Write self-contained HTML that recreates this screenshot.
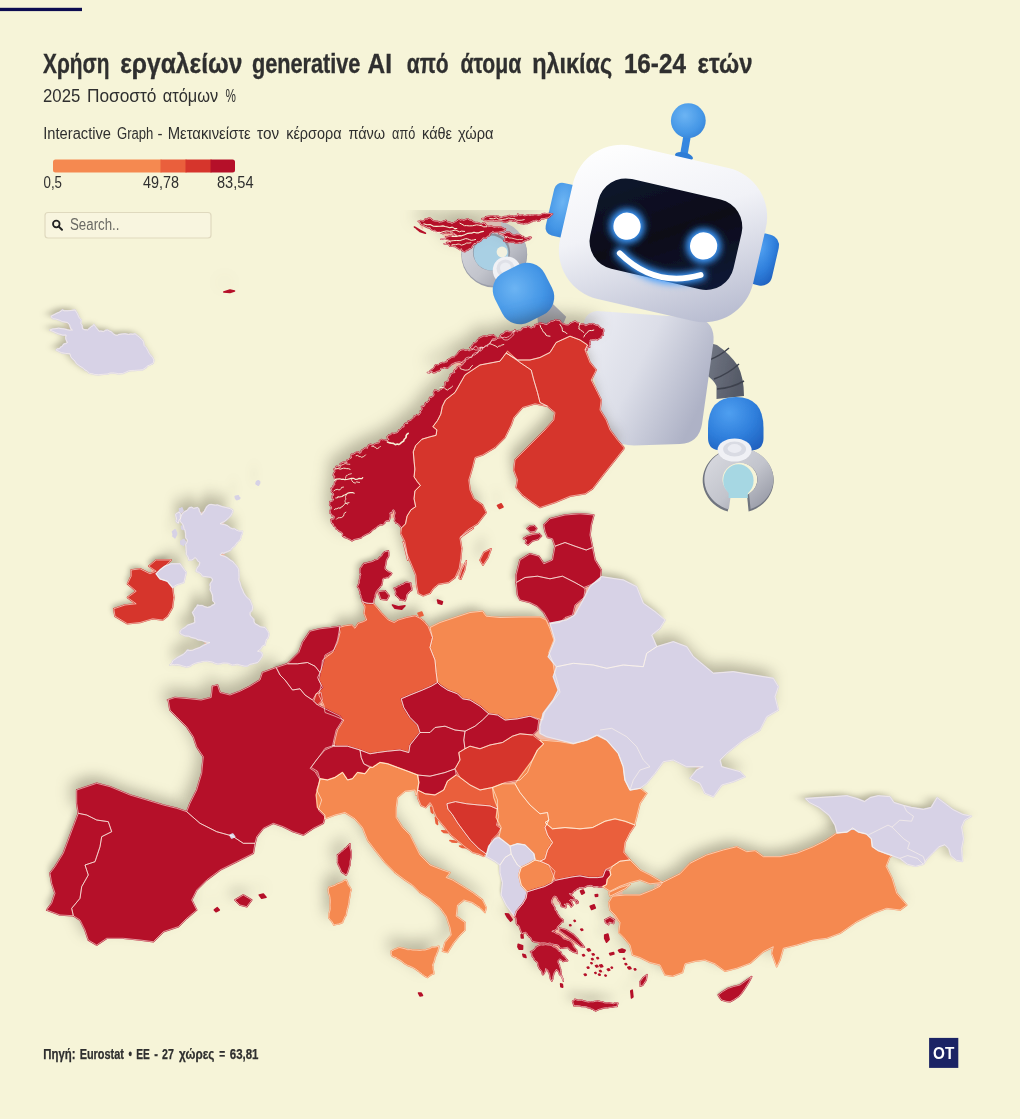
<!DOCTYPE html>
<html lang="el">
<head>
<meta charset="utf-8">
<title>Χρήση εργαλείων generative AI</title>
<style>
html,body{margin:0;padding:0;background:#f6f4d8;}
body{width:1020px;height:1119px;overflow:hidden;font-family:'Liberation Sans', sans-serif;}
svg{display:block}
text{font-family:'Liberation Sans', sans-serif;fill:#2f2f2f}
.fills path{stroke-width:1.6;stroke-linejoin:round}
.edges path,.ln{fill:none;stroke:#fff7ea;stroke-opacity:0.66;stroke-width:0.9;stroke-linejoin:round}
</style>
</head>
<body>
<svg width="1020" height="1119" viewBox="0 0 1020 1119">
<defs>
<filter id="sh" x="-5%" y="-5%" width="110%" height="110%" color-interpolation-filters="sRGB">
<feMorphology in="SourceAlpha" operator="dilate" radius="1.5" result="d"/>
<feMorphology in="d" operator="erode" radius="4.5" result="cli"/>
<feFlood flood-color="#f3b9a4"/>
<feComposite in2="cli" operator="in" result="u"/>
<feMerge><feMergeNode in="u"/><feMergeNode in="SourceGraphic"/></feMerge>
</filter>
<filter id="s0" filterUnits="userSpaceOnUse" x="30" y="290" width="144" height="105" color-interpolation-filters="sRGB"><feGaussianBlur in="SourceAlpha" stdDeviation="4.2 2.6"/><feOffset dx="-3.6" dy="-3.2" result="o"/><feFlood flood-color="#4a4636" flood-opacity="0.36"/><feComposite in2="o" operator="in"/></filter>
<filter id="s1" filterUnits="userSpaceOnUse" x="188" y="178" width="451" height="458" color-interpolation-filters="sRGB"><feGaussianBlur in="SourceAlpha" stdDeviation="7.5 7.5"/><feOffset dx="-5.0" dy="-9.0" result="o"/><feFlood flood-color="#4a4636" flood-opacity="0.36"/><feComposite in2="o" operator="in"/></filter>
<filter id="s2" filterUnits="userSpaceOnUse" x="365" y="316" width="218" height="316" color-interpolation-filters="sRGB"><feGaussianBlur in="SourceAlpha" stdDeviation="5.9 7.5"/><feOffset dx="-5.0" dy="-9.0" result="o"/><feFlood flood-color="#4a4636" flood-opacity="0.36"/><feComposite in2="o" operator="in"/></filter>
<filter id="s3" filterUnits="userSpaceOnUse" x="464" y="303" width="193" height="239" color-interpolation-filters="sRGB"><feGaussianBlur in="SourceAlpha" stdDeviation="5.1 6.9"/><feOffset dx="-4.4" dy="-8.6" result="o"/><feFlood flood-color="#4a4636" flood-opacity="0.36"/><feComposite in2="o" operator="in"/></filter>
<filter id="s4" filterUnits="userSpaceOnUse" x="509" y="499" width="100" height="66" color-interpolation-filters="sRGB"><feGaussianBlur in="SourceAlpha" stdDeviation="2.8 1.4"/><feOffset dx="-2.5" dy="-1.8" result="o"/><feFlood flood-color="#4a4636" flood-opacity="0.36"/><feComposite in2="o" operator="in"/></filter>
<filter id="s5" filterUnits="userSpaceOnUse" x="499" y="525" width="119" height="79" color-interpolation-filters="sRGB"><feGaussianBlur in="SourceAlpha" stdDeviation="3.4 1.8"/><feOffset dx="-3.0" dy="-2.2" result="o"/><feFlood flood-color="#4a4636" flood-opacity="0.36"/><feComposite in2="o" operator="in"/></filter>
<filter id="s6" filterUnits="userSpaceOnUse" x="502" y="562" width="98" height="77" color-interpolation-filters="sRGB"><feGaussianBlur in="SourceAlpha" stdDeviation="2.8 1.9"/><feOffset dx="-2.4" dy="-2.4" result="o"/><feFlood flood-color="#4a4636" flood-opacity="0.36"/><feComposite in2="o" operator="in"/></filter>
<filter id="s7" filterUnits="userSpaceOnUse" x="405" y="586" width="180" height="159" color-interpolation-filters="sRGB"><feGaussianBlur in="SourceAlpha" stdDeviation="5.2 4.4"/><feOffset dx="-4.6" dy="-5.4" result="o"/><feFlood flood-color="#4a4636" flood-opacity="0.36"/><feComposite in2="o" operator="in"/></filter>
<filter id="s8" filterUnits="userSpaceOnUse" x="288" y="572" width="180" height="212" color-interpolation-filters="sRGB"><feGaussianBlur in="SourceAlpha" stdDeviation="4.8 6.1"/><feOffset dx="-4.2" dy="-7.6" result="o"/><feFlood flood-color="#4a4636" flood-opacity="0.36"/><feComposite in2="o" operator="in"/></filter>
<filter id="s9" filterUnits="userSpaceOnUse" x="340" y="534" width="119" height="93" color-interpolation-filters="sRGB"><feGaussianBlur in="SourceAlpha" stdDeviation="3.4 2.3"/><feOffset dx="-3.0" dy="-2.9" result="o"/><feFlood flood-color="#4a4636" flood-opacity="0.36"/><feComposite in2="o" operator="in"/></filter>
<filter id="s10" filterUnits="userSpaceOnUse" x="275" y="614" width="78" height="72" color-interpolation-filters="sRGB"><feGaussianBlur in="SourceAlpha" stdDeviation="2.1 1.9"/><feOffset dx="-1.8" dy="-2.3" result="o"/><feFlood flood-color="#4a4636" flood-opacity="0.36"/><feComposite in2="o" operator="in"/></filter>
<filter id="s11" filterUnits="userSpaceOnUse" x="265" y="651" width="69" height="60" color-interpolation-filters="sRGB"><feGaussianBlur in="SourceAlpha" stdDeviation="1.9 1.5"/><feOffset dx="-1.6" dy="-1.9" result="o"/><feFlood flood-color="#4a4636" flood-opacity="0.36"/><feComposite in2="o" operator="in"/></filter>
<filter id="s12" filterUnits="userSpaceOnUse" x="307" y="686" width="22" height="25" color-interpolation-filters="sRGB"><feGaussianBlur in="SourceAlpha" stdDeviation="0.6 0.6"/><feOffset dx="-0.3" dy="-0.6" result="o"/><feFlood flood-color="#4a4636" flood-opacity="0.36"/><feComposite in2="o" operator="in"/></filter>
<filter id="s13" filterUnits="userSpaceOnUse" x="99" y="545" width="90" height="93" color-interpolation-filters="sRGB"><feGaussianBlur in="SourceAlpha" stdDeviation="2.4 2.6"/><feOffset dx="-2.1" dy="-3.2" result="o"/><feFlood flood-color="#4a4636" flood-opacity="0.36"/><feComposite in2="o" operator="in"/></filter>
<filter id="s14" filterUnits="userSpaceOnUse" x="121" y="445" width="183" height="257" color-interpolation-filters="sRGB"><feGaussianBlur in="SourceAlpha" stdDeviation="4.5 7.4"/><feOffset dx="-3.9" dy="-9.0" result="o"/><feFlood flood-color="#4a4636" flood-opacity="0.36"/><feComposite in2="o" operator="in"/></filter>
<filter id="s15" filterUnits="userSpaceOnUse" x="132" y="632" width="255" height="278" color-interpolation-filters="sRGB"><feGaussianBlur in="SourceAlpha" stdDeviation="7.3 7.5"/><feOffset dx="-5.0" dy="-9.0" result="o"/><feFlood flood-color="#4a4636" flood-opacity="0.36"/><feComposite in2="o" operator="in"/></filter>
<filter id="s16" filterUnits="userSpaceOnUse" x="37" y="749" width="263" height="231" color-interpolation-filters="sRGB"><feGaussianBlur in="SourceAlpha" stdDeviation="7.5 6.5"/><feOffset dx="-5.0" dy="-8.1" result="o"/><feFlood flood-color="#4a4636" flood-opacity="0.36"/><feComposite in2="o" operator="in"/></filter>
<filter id="s17" filterUnits="userSpaceOnUse" x="25" y="792" width="108" height="145" color-interpolation-filters="sRGB"><feGaussianBlur in="SourceAlpha" stdDeviation="2.6 4.1"/><feOffset dx="-2.3" dy="-5.1" result="o"/><feFlood flood-color="#4a4636" flood-opacity="0.36"/><feComposite in2="o" operator="in"/></filter>
<filter id="s18" filterUnits="userSpaceOnUse" x="224" y="828" width="17" height="16" color-interpolation-filters="sRGB"><feGaussianBlur in="SourceAlpha" stdDeviation="0.6 0.6"/><feOffset dx="-0.2" dy="-0.2" result="o"/><feFlood flood-color="#4a4636" flood-opacity="0.36"/><feComposite in2="o" operator="in"/></filter>
<filter id="s19" filterUnits="userSpaceOnUse" x="298" y="733" width="85" height="60" color-interpolation-filters="sRGB"><feGaussianBlur in="SourceAlpha" stdDeviation="2.4 1.4"/><feOffset dx="-2.1" dy="-1.7" result="o"/><feFlood flood-color="#4a4636" flood-opacity="0.36"/><feComposite in2="o" operator="in"/></filter>
<filter id="s20" filterUnits="userSpaceOnUse" x="340" y="706" width="146" height="91" color-interpolation-filters="sRGB"><feGaussianBlur in="SourceAlpha" stdDeviation="4.2 2.0"/><feOffset dx="-3.7" dy="-2.5" result="o"/><feFlood flood-color="#4a4636" flood-opacity="0.36"/><feComposite in2="o" operator="in"/></filter>
<filter id="s21" filterUnits="userSpaceOnUse" x="384" y="665" width="123" height="85" color-interpolation-filters="sRGB"><feGaussianBlur in="SourceAlpha" stdDeviation="3.5 2.0"/><feOffset dx="-3.1" dy="-2.5" result="o"/><feFlood flood-color="#4a4636" flood-opacity="0.36"/><feComposite in2="o" operator="in"/></filter>
<filter id="s22" filterUnits="userSpaceOnUse" x="448" y="698" width="106" height="66" color-interpolation-filters="sRGB"><feGaussianBlur in="SourceAlpha" stdDeviation="3.0 1.4"/><feOffset dx="-2.6" dy="-1.8" result="o"/><feFlood flood-color="#4a4636" flood-opacity="0.36"/><feComposite in2="o" operator="in"/></filter>
<filter id="s23" filterUnits="userSpaceOnUse" x="437" y="716" width="124" height="92" color-interpolation-filters="sRGB"><feGaussianBlur in="SourceAlpha" stdDeviation="3.6 2.2"/><feOffset dx="-3.1" dy="-2.8" result="o"/><feFlood flood-color="#4a4636" flood-opacity="0.36"/><feComposite in2="o" operator="in"/></filter>
<filter id="s24" filterUnits="userSpaceOnUse" x="408" y="759" width="59" height="46" color-interpolation-filters="sRGB"><feGaussianBlur in="SourceAlpha" stdDeviation="1.5 1.0"/><feOffset dx="-1.4" dy="-1.3" result="o"/><feFlood flood-color="#4a4636" flood-opacity="0.36"/><feComposite in2="o" operator="in"/></filter>
<filter id="s25" filterUnits="userSpaceOnUse" x="281" y="727" width="241" height="286" color-interpolation-filters="sRGB"><feGaussianBlur in="SourceAlpha" stdDeviation="6.8 7.5"/><feOffset dx="-5.0" dy="-9.0" result="o"/><feFlood flood-color="#4a4636" flood-opacity="0.36"/><feComposite in2="o" operator="in"/></filter>
<filter id="s26" filterUnits="userSpaceOnUse" x="413" y="987" width="16" height="15" color-interpolation-filters="sRGB"><feGaussianBlur in="SourceAlpha" stdDeviation="0.6 0.6"/><feOffset dx="-0.1" dy="-0.2" result="o"/><feFlood flood-color="#4a4636" flood-opacity="0.36"/><feComposite in2="o" operator="in"/></filter>
<filter id="s27" filterUnits="userSpaceOnUse" x="400" y="757" width="116" height="117" color-interpolation-filters="sRGB"><feGaussianBlur in="SourceAlpha" stdDeviation="3.2 3.3"/><feOffset dx="-2.8" dy="-4.1" result="o"/><feFlood flood-color="#4a4636" flood-opacity="0.36"/><feComposite in2="o" operator="in"/></filter>
<filter id="s28" filterUnits="userSpaceOnUse" x="434" y="788" width="80" height="79" color-interpolation-filters="sRGB"><feGaussianBlur in="SourceAlpha" stdDeviation="2.2 2.1"/><feOffset dx="-1.9" dy="-2.6" result="o"/><feFlood flood-color="#4a4636" flood-opacity="0.36"/><feComposite in2="o" operator="in"/></filter>
<filter id="s29" filterUnits="userSpaceOnUse" x="429" y="811" width="14" height="19" color-interpolation-filters="sRGB"><feGaussianBlur in="SourceAlpha" stdDeviation="0.6 0.6"/><feOffset dx="-0.1" dy="-0.3" result="o"/><feFlood flood-color="#4a4636" flood-opacity="0.36"/><feComposite in2="o" operator="in"/></filter>
<filter id="s30" filterUnits="userSpaceOnUse" x="436" y="825" width="18" height="14" color-interpolation-filters="sRGB"><feGaussianBlur in="SourceAlpha" stdDeviation="0.6 0.6"/><feOffset dx="-0.2" dy="-0.1" result="o"/><feFlood flood-color="#4a4636" flood-opacity="0.36"/><feComposite in2="o" operator="in"/></filter>
<filter id="s31" filterUnits="userSpaceOnUse" x="444" y="835" width="19" height="14" color-interpolation-filters="sRGB"><feGaussianBlur in="SourceAlpha" stdDeviation="0.6 0.6"/><feOffset dx="-0.2" dy="-0.1" result="o"/><feFlood flood-color="#4a4636" flood-opacity="0.36"/><feComposite in2="o" operator="in"/></filter>
<filter id="s32" filterUnits="userSpaceOnUse" x="454" y="840" width="19" height="14" color-interpolation-filters="sRGB"><feGaussianBlur in="SourceAlpha" stdDeviation="0.6 0.6"/><feOffset dx="-0.2" dy="-0.1" result="o"/><feFlood flood-color="#4a4636" flood-opacity="0.36"/><feComposite in2="o" operator="in"/></filter>
<filter id="s33" filterUnits="userSpaceOnUse" x="425" y="801" width="14" height="18" color-interpolation-filters="sRGB"><feGaussianBlur in="SourceAlpha" stdDeviation="0.6 0.6"/><feOffset dx="-0.1" dy="-0.3" result="o"/><feFlood flood-color="#4a4636" flood-opacity="0.36"/><feComposite in2="o" operator="in"/></filter>
<filter id="s34" filterUnits="userSpaceOnUse" x="475" y="767" width="94" height="112" color-interpolation-filters="sRGB"><feGaussianBlur in="SourceAlpha" stdDeviation="2.4 3.1"/><feOffset dx="-2.1" dy="-3.9" result="o"/><feFlood flood-color="#4a4636" flood-opacity="0.36"/><feComposite in2="o" operator="in"/></filter>
<filter id="s35" filterUnits="userSpaceOnUse" x="502" y="836" width="41" height="40" color-interpolation-filters="sRGB"><feGaussianBlur in="SourceAlpha" stdDeviation="1.0 0.9"/><feOffset dx="-0.9" dy="-1.2" result="o"/><feFlood flood-color="#4a4636" flood-opacity="0.36"/><feComposite in2="o" operator="in"/></filter>
<filter id="s36" filterUnits="userSpaceOnUse" x="478" y="829" width="42" height="45" color-interpolation-filters="sRGB"><feGaussianBlur in="SourceAlpha" stdDeviation="1.0 1.1"/><feOffset dx="-0.9" dy="-1.4" result="o"/><feFlood flood-color="#4a4636" flood-opacity="0.36"/><feComposite in2="o" operator="in"/></filter>
<filter id="s37" filterUnits="userSpaceOnUse" x="485" y="839" width="56" height="92" color-interpolation-filters="sRGB"><feGaussianBlur in="SourceAlpha" stdDeviation="1.1 2.5"/><feOffset dx="-0.9" dy="-3.1" result="o"/><feFlood flood-color="#4a4636" flood-opacity="0.36"/><feComposite in2="o" operator="in"/></filter>
<filter id="s38" filterUnits="userSpaceOnUse" x="509" y="850" width="56" height="52" color-interpolation-filters="sRGB"><feGaussianBlur in="SourceAlpha" stdDeviation="1.4 1.3"/><feOffset dx="-1.3" dy="-1.6" result="o"/><feFlood flood-color="#4a4636" flood-opacity="0.36"/><feComposite in2="o" operator="in"/></filter>
<filter id="s39" filterUnits="userSpaceOnUse" x="521" y="800" width="132" height="99" color-interpolation-filters="sRGB"><feGaussianBlur in="SourceAlpha" stdDeviation="3.8 2.5"/><feOffset dx="-3.3" dy="-3.1" result="o"/><feFlood flood-color="#4a4636" flood-opacity="0.36"/><feComposite in2="o" operator="in"/></filter>
<filter id="s40" filterUnits="userSpaceOnUse" x="491" y="711" width="181" height="143" color-interpolation-filters="sRGB"><feGaussianBlur in="SourceAlpha" stdDeviation="5.3 3.8"/><feOffset dx="-4.6" dy="-4.7" result="o"/><feFlood flood-color="#4a4636" flood-opacity="0.36"/><feComposite in2="o" operator="in"/></filter>
<filter id="s41" filterUnits="userSpaceOnUse" x="477" y="842" width="198" height="197" color-interpolation-filters="sRGB"><feGaussianBlur in="SourceAlpha" stdDeviation="5.7 5.6"/><feOffset dx="-5.0" dy="-7.1" result="o"/><feFlood flood-color="#4a4636" flood-opacity="0.36"/><feComposite in2="o" operator="in"/></filter>
<filter id="s42" filterUnits="userSpaceOnUse" x="569" y="794" width="372" height="216" color-interpolation-filters="sRGB"><feGaussianBlur in="SourceAlpha" stdDeviation="7.5 5.9"/><feOffset dx="-5.0" dy="-7.4" result="o"/><feFlood flood-color="#4a4636" flood-opacity="0.36"/><feComposite in2="o" operator="in"/></filter>
<filter id="s43" filterUnits="userSpaceOnUse" x="709" y="967" width="52" height="44" color-interpolation-filters="sRGB"><feGaussianBlur in="SourceAlpha" stdDeviation="1.3 1.0"/><feOffset dx="-1.2" dy="-1.2" result="o"/><feFlood flood-color="#4a4636" flood-opacity="0.36"/><feComposite in2="o" operator="in"/></filter>
<filter id="s44" filterUnits="userSpaceOnUse" x="526" y="554" width="162" height="137" color-interpolation-filters="sRGB"><feGaussianBlur in="SourceAlpha" stdDeviation="4.7 3.7"/><feOffset dx="-4.1" dy="-4.6" result="o"/><feFlood flood-color="#4a4636" flood-opacity="0.36"/><feComposite in2="o" operator="in"/></filter>
<filter id="s45" filterUnits="userSpaceOnUse" x="506" y="607" width="307" height="224" color-interpolation-filters="sRGB"><feGaussianBlur in="SourceAlpha" stdDeviation="7.5 6.2"/><feOffset dx="-5.0" dy="-7.8" result="o"/><feFlood flood-color="#4a4636" flood-opacity="0.36"/><feComposite in2="o" operator="in"/></filter>
<filter id="s46" filterUnits="userSpaceOnUse" x="777" y="767" width="223" height="128" color-interpolation-filters="sRGB"><feGaussianBlur in="SourceAlpha" stdDeviation="6.6 2.8"/><feOffset dx="-5.0" dy="-3.5" result="o"/><feFlood flood-color="#4a4636" flood-opacity="0.36"/><feComposite in2="o" operator="in"/></filter>
<clipPath id="mapclip"><rect x="0" y="210" width="1020" height="840"/></clipPath>
</defs>
<rect width="1020" height="1119" fill="#f6f4d8"/>
<rect x="0" y="7.8" width="82" height="3.3" fill="#0c0c50"/>

<!-- header -->
<text x="43" y="72.5" font-size="28.5" font-weight="700" textLength="66.4" lengthAdjust="spacingAndGlyphs" stroke="#2f2f2f" stroke-width="0.35">Χρήση</text>
<text x="120.2" y="72.5" font-size="28.5" font-weight="700" textLength="122.3" lengthAdjust="spacingAndGlyphs" stroke="#2f2f2f" stroke-width="0.35">εργαλείων</text>
<text x="251.9" y="72.5" font-size="28.5" font-weight="700" textLength="108.5" lengthAdjust="spacingAndGlyphs" stroke="#2f2f2f" stroke-width="0.35">generative</text>
<text x="367.6" y="72.5" font-size="28.5" font-weight="700" textLength="24.4" lengthAdjust="spacingAndGlyphs" stroke="#2f2f2f" stroke-width="0.35">AI</text>
<text x="406.7" y="72.5" font-size="28.5" font-weight="700" textLength="41.9" lengthAdjust="spacingAndGlyphs" stroke="#2f2f2f" stroke-width="0.35">από</text>
<text x="460.4" y="72.5" font-size="28.5" font-weight="700" textLength="60.8" lengthAdjust="spacingAndGlyphs" stroke="#2f2f2f" stroke-width="0.35">άτομα</text>
<text x="532.2" y="72.5" font-size="28.5" font-weight="700" textLength="80.0" lengthAdjust="spacingAndGlyphs" stroke="#2f2f2f" stroke-width="0.35">ηλικίας</text>
<text x="623.9" y="72.5" font-size="28.5" font-weight="700" textLength="62.0" lengthAdjust="spacingAndGlyphs" stroke="#2f2f2f" stroke-width="0.35">16-24</text>
<text x="697.6" y="72.5" font-size="28.5" font-weight="700" textLength="54.9" lengthAdjust="spacingAndGlyphs" stroke="#2f2f2f" stroke-width="0.35">ετών</text>
<text x="43" y="101.5" font-size="18" font-weight="400" textLength="37.3" lengthAdjust="spacingAndGlyphs">2025</text>
<text x="86.9" y="101.5" font-size="18" font-weight="400" textLength="69.6" lengthAdjust="spacingAndGlyphs">Ποσοστό</text>
<text x="162.7" y="101.5" font-size="18" font-weight="400" textLength="55.5" lengthAdjust="spacingAndGlyphs">ατόμων</text>
<text x="225.4" y="101.5" font-size="18" font-weight="400" textLength="10.4" lengthAdjust="spacingAndGlyphs">%</text>
<text x="43.3" y="138.8" font-size="16" font-weight="400" textLength="67.7" lengthAdjust="spacingAndGlyphs">Interactive</text>
<text x="117" y="138.8" font-size="16" font-weight="400" textLength="36.4" lengthAdjust="spacingAndGlyphs">Graph</text>
<text x="157.6" y="138.8" font-size="16" font-weight="400" textLength="5.0" lengthAdjust="spacingAndGlyphs">-</text>
<text x="167.7" y="138.8" font-size="16" font-weight="400" textLength="83.0" lengthAdjust="spacingAndGlyphs">Μετακινείστε</text>
<text x="257.1" y="138.8" font-size="16" font-weight="400" textLength="22.1" lengthAdjust="spacingAndGlyphs">τον</text>
<text x="286.2" y="138.8" font-size="16" font-weight="400" textLength="55.3" lengthAdjust="spacingAndGlyphs">κέρσορα</text>
<text x="348.4" y="138.8" font-size="16" font-weight="400" textLength="36.8" lengthAdjust="spacingAndGlyphs">πάνω</text>
<text x="392.1" y="138.8" font-size="16" font-weight="400" textLength="23.1" lengthAdjust="spacingAndGlyphs">από</text>
<text x="422.1" y="138.8" font-size="16" font-weight="400" textLength="29.9" lengthAdjust="spacingAndGlyphs">κάθε</text>
<text x="458" y="138.8" font-size="16" font-weight="400" textLength="35.5" lengthAdjust="spacingAndGlyphs">χώρα</text>

<!-- legend -->
<clipPath id="lg"><rect x="53" y="159.5" width="182" height="13" rx="2.5"/></clipPath>
<g clip-path="url(#lg)">
<rect x="53" y="159" width="108.5" height="14" fill="#f58950"/>
<rect x="160.5" y="159" width="26" height="14" fill="#ea5f3c"/>
<rect x="185.5" y="159" width="26" height="14" fill="#d6352c"/>
<rect x="210.5" y="159" width="25" height="14" fill="#b51029"/>
</g>
<text x="43.5" y="187.8" font-size="15.8" textLength="18.5" lengthAdjust="spacingAndGlyphs">0,5</text>
<text x="143" y="187.8" font-size="15.8" textLength="36" lengthAdjust="spacingAndGlyphs">49,78</text>
<text x="217" y="187.8" font-size="15.8" textLength="36.5" lengthAdjust="spacingAndGlyphs">83,54</text>

<!-- search -->
<rect x="45" y="212.5" width="166" height="25.5" rx="3" fill="#f8f5df" stroke="#dfd9be" stroke-width="1.2"/>
<circle cx="56.3" cy="224" r="3.3" fill="none" stroke="#222" stroke-width="1.8"/>
<path d="M58.8 226.6 L62 229.8" stroke="#222" stroke-width="2" stroke-linecap="round"/>
<text x="70" y="230.3" font-size="15.8" style="fill:#6a6a64" textLength="49.5" lengthAdjust="spacingAndGlyphs">Search..</text>

<!-- robot (behind the map) -->

<defs>
<linearGradient id="gBody" x1="0" y1="0" x2="1" y2="0.5">
<stop offset="0" stop-color="#eeeff5"/><stop offset="0.5" stop-color="#dcdee8"/><stop offset="1" stop-color="#aeb2c6"/>
</linearGradient>
<linearGradient id="gHead" x1="0.1" y1="0" x2="0.8" y2="1">
<stop offset="0" stop-color="#ffffff"/><stop offset="0.45" stop-color="#f1f2f7"/><stop offset="1" stop-color="#b9bdd1"/>
</linearGradient>
<radialGradient id="gBlue" cx="0.38" cy="0.3" r="0.85">
<stop offset="0" stop-color="#4f9ff0"/><stop offset="0.55" stop-color="#2f7fdc"/><stop offset="1" stop-color="#1f5fbd"/>
</radialGradient>
<radialGradient id="gBlueL" cx="0.4" cy="0.35" r="0.85">
<stop offset="0" stop-color="#6cb4f3"/><stop offset="0.6" stop-color="#4496e6"/><stop offset="1" stop-color="#2f78cf"/>
</radialGradient>
<linearGradient id="gFace" x1="0" y1="0" x2="1" y2="1">
<stop offset="0" stop-color="#0d1730"/><stop offset="0.5" stop-color="#070b18"/><stop offset="1" stop-color="#111c3a"/>
</linearGradient>
<linearGradient id="gRing" x1="0" y1="0" x2="1" y2="1">
<stop offset="0" stop-color="#dcdde3"/><stop offset="0.55" stop-color="#c2c4cc"/><stop offset="1" stop-color="#8d909d"/>
</linearGradient>
<linearGradient id="gGrey" x1="0" y1="0" x2="1" y2="0.3">
<stop offset="0" stop-color="#747986"/><stop offset="1" stop-color="#555a67"/>
</linearGradient>
<filter id="glow" x="-60%" y="-60%" width="220%" height="220%">
<feGaussianBlur stdDeviation="3.6"/>
</filter>
<filter id="soft" x="-20%" y="-20%" width="140%" height="140%">
<feGaussianBlur stdDeviation="0.55"/>
</filter>
</defs>
<g id="robot" filter="url(#soft)">
<!-- right arm (viewer right) -->
<path d="M706,342 L717,345 Q730,354 738,366 Q744,378 744,396 L716.5,399 L716.5,386 Q714,380 705,374 Z" fill="url(#gGrey)"/>
<path d="M709,360 Q720,356 729,348 M714,379 Q728,374 739,364 M717,389 Q732,388 744,381" stroke="#3e424e" stroke-width="1.5" fill="none"/>
<!-- right claw -->
<path d="M727.8,511.5 A35.5,32.5 0 1 1 748.6,511.5 L747,495 A19,17.5 0 1 0 729.5,495 Z" fill="#70747f"/>
<path d="M728.8,509.5 A34.5,31.5 0 1 1 750.6,509 L749,493.5 A17.5,16.5 0 1 0 731,493.5 Z" fill="url(#gRing)"/>
<ellipse cx="738.4" cy="480.5" rx="15.2" ry="16.2" fill="#a6d7e3"/>
<rect x="728.6" y="488" width="19.2" height="10" fill="#a6d7e3"/>
<!-- right forearm -->
<path d="M708,428 Q708,397 736,397 Q763.5,397 763.5,428 L763.5,438 Q763.5,450.5 750,450.5 L722,450.5 Q708,450.5 708,438 Z" fill="url(#gBlue)"/>
<ellipse cx="734.6" cy="450" rx="17" ry="11.5" fill="#f0f1f5"/>
<ellipse cx="734.6" cy="449" rx="11.5" ry="7.5" fill="#d9dbe3"/>
<ellipse cx="734.6" cy="448.5" rx="7" ry="4.4" fill="#ebecf2"/>
<!-- body -->
<path d="M597,311 Q581,313 584,332 L604,424 Q608,445 634,445.5 L680,444 Q699,443 702,424 L713.5,342 Q715,322 698,318 Z" fill="url(#gBody)"/>
<!-- left claw ring (behind the map) -->
<circle cx="494.2" cy="254.5" r="33" fill="#9b9ea9"/>
<circle cx="494.2" cy="253.5" r="32.6" fill="url(#gRing)"/>
<circle cx="491.5" cy="252" r="18.6" fill="#8f94a0"/>
<circle cx="491" cy="253" r="17.4" fill="#a9d0e4"/>
<circle cx="502" cy="252" r="5.4" fill="#f2f1e0"/>
<circle cx="506.8" cy="270.5" r="14" fill="#f0f1f5"/>
<circle cx="505.5" cy="268.5" r="9" fill="#dfe1e8"/>
<circle cx="505.5" cy="268" r="5.5" fill="#eceef3"/>
<!-- left wrist + arm -->
<path d="M536.8,310.9 L552.9,304 L566.2,316.8 L563.2,324 L538.2,326 Z" fill="#a9abb5"/>
<rect x="495.5" y="265.5" width="56" height="56" rx="20" fill="url(#gBlueL)" transform="rotate(-27 523.5 293.5)"/>
<!-- antenna -->
<path d="M683.3,136 L690.7,137 L687.2,157 L679.8,156 Z" fill="#3587e0"/>
<ellipse cx="684" cy="156.5" rx="9.2" ry="4" fill="#2f7dd6" transform="rotate(13 684 156.5)"/>
<circle cx="688.3" cy="120.7" r="17.4" fill="url(#gBlueL)"/>
<!-- head -->
<g transform="translate(663,233.5) rotate(13)">
<rect x="-116" y="-27" width="28" height="54" rx="8" fill="url(#gBlueL)"/>
<rect x="89" y="-23" width="27" height="52" rx="11" fill="url(#gBlue)"/>
<rect x="-99" y="-78.5" width="198" height="157" rx="50" fill="url(#gHead)"/>
<rect x="-70.5" y="-46" width="147" height="92" rx="28" fill="url(#gFace)"/>
<g filter="url(#glow)" fill="#3d9bff">
<circle cx="-36.7" cy="1" r="17.5"/><circle cx="42.4" cy="3" r="17.5"/>
<path d="M-37.7,29 Q4,55 46,32" fill="none" stroke="#3d9bff" stroke-width="11" stroke-linecap="round"/>
</g>
<circle cx="-36.7" cy="1" r="13.6" fill="#fff"/><circle cx="42.4" cy="3" r="13.6" fill="#fff"/>
<path d="M-37.7,29 Q4,55 46,32" fill="none" stroke="#fff" stroke-width="5.8" stroke-linecap="round"/>
</g>
</g>


<!-- map -->
<g clip-path="url(#mapclip)">
<g class="shadows">
<g filter="url(#s0)"><path d="M51.2,316.2 54.1,314.7 57.4,313 59.5,312.2 62.5,310 64.3,310.8 67.9,310.8 71.3,310.5 75,310 77.4,313.8 78.5,316.4 79.4,318 81.2,320 81,322 80.8,323.7 82,325.4 82.5,328.8 83.9,329.5 85.1,329.8 86.2,329.8 87.5,330 89.2,328.5 91.5,326.5 93.3,325.6 93.8,324.5 94.7,325.7 96.2,327.8 97.8,329.7 98.8,331.2 100.7,331.1 103.6,331.6 105.6,330.3 107.5,330 109,330.9 111.1,331.8 113.3,333.8 115,335 117.3,335.4 118.7,334.6 122.4,334 125,333.8 128.5,334.5 130.7,334.1 133,334.3 135,333.8 137.8,336 139.6,337.4 141.1,339 142.5,340 143.5,342 144.2,345.6 146.2,347.7 147.5,350 148.3,351.7 149.6,354.1 152.6,357.6 153.8,360 153.3,362.7 152.2,363.9 150.9,364.2 150,365 147.5,365.8 146.1,367.5 142.5,369.7 140,370 134.5,370.4 131.2,370.5 128.6,370.9 125,372.5 122.7,373.5 118.3,373.6 113.5,372.9 110,373 107.6,373.9 103.6,374.3 98.5,374.6 95,374.5 91.6,373.5 89.4,373.3 87.2,370.9 85,370 83.5,368.3 80,366.2 76.5,363.6 75,361.2 74,360 72.5,358.8 70.9,356.8 70,353.8 65.6,353.4 61.3,352.6 59.2,351.6 56.2,350 57.5,348.9 59.8,348.5 60.5,347.3 62.5,346.2 62.9,345.3 63.9,344 65.9,343.6 67.5,342.5 66.6,340.8 66,339.3 65.7,337.7 66.2,335 62.8,335.1 58.9,333.9 55,332.4 50,330 52.9,329 55,328.8 58.6,328.2 62.5,328.8 64.6,329.1 67.3,329.8 69.5,330.2 72.5,330 71.1,329 70.2,326.6 69.5,324.4 67.5,322.5 62.2,321.5 59.5,320.2 55.9,319.1 53.8,318.8 52.5,318.2 51.5,317.1Z"/></g>
<g filter="url(#s1)"><path d="M223.8,292 230,290 234.5,291 230,292.5Z"/><path d="M353.7,539.6 352,540.8 351.3,540.3 349.9,539.4 348.6,538.9 346.8,538 345.2,537.8 345.1,536.5 343.6,536.7 342.5,535.6 342.8,534.1 342.2,532.8 340.9,531.8 340,531.7 339.2,531.1 338.3,530.1 336.8,529.1 335.7,528.6 335.7,527 334.7,526.4 333.5,525.5 333.3,523.9 331.7,523.2 331.4,521.6 330.9,519.7 331.9,519 333.4,519.3 334.3,517.8 334.1,516.1 332.8,515.8 331.8,515.7 331.7,514 330.2,513.1 330.4,511.7 330.1,510.4 331.1,509.2 331.8,508.2 331.2,506.5 330.4,505.6 329.7,504.7 329.9,502.7 330.1,501.5 332.2,501.2 333.3,500.4 333.7,499.1 332.3,498.1 332.4,496.6 332.3,495.7 333.4,495.5 333.7,494 332.5,492.5 331.5,491.6 331.9,490.3 331.2,488.5 333,487.5 333.1,485.9 334.9,484.7 334.5,483.3 334.8,482.4 336.2,481.1 335.7,479.3 334.7,478.6 334.2,477.2 335,476.2 333.3,475.3 333.7,473.5 334.9,471.8 334.8,470.7 334,469.2 335.6,468.6 335.7,467.5 336.5,466.2 337.5,466.2 338.8,467 339.8,468.2 340.7,466.6 339.7,465.6 340.3,463.8 342,462.7 343.9,462.1 345.3,462.4 347.1,462.7 346.7,461.3 347.5,459.7 349.1,459.5 350.1,458.5 351.4,458 351.3,456.9 351,455.7 351.5,454.3 353.2,454.2 355,453.3 356.6,452 358.7,452.1 359.2,453.3 360.7,453 361.1,452.1 361.5,450.5 363.3,449.5 364.8,448.2 366.3,447.6 367.1,448.6 367.9,446.7 368.4,445.5 370.1,444.4 372.1,444.8 373.3,445.3 374.9,443.9 376.9,443.3 378.9,442.9 379.8,442.1 379.5,440.6 381.4,439.6 382.7,440 383.7,439.7 385.1,440 386.9,440.8 388.2,440 389,439.2 387.7,438.7 387.2,436.7 388.2,436.2 388.8,435.1 390.8,434.6 392.4,433.2 393.7,433.7 395.3,433.2 397.1,432.7 398.1,432 398.9,430 400.4,429.6 401.6,428.2 402.7,426.8 404,427.1 404,426.1 404.1,424.8 405.5,423.4 406.9,423.6 407.8,423.5 407.6,422.4 408.4,421 410.4,420.6 411.4,419.9 412.6,418.8 414.1,417.3 414.3,416.1 415.9,415.8 417,414.7 419,415.1 419.6,413.9 420.9,412.8 420.4,411 421.6,410.4 422.3,408.8 422,408 421.5,406.7 422.4,406.3 424.1,406.5 425.1,404.7 425,403.8 426,402.6 427.2,402.7 428.1,401.9 428.5,401 429.8,400 429.4,398.5 430.2,397.2 431.6,397.7 432.3,396.7 433.4,396.3 434.1,394.5 433.5,392.6 434.4,391 435,390 436.5,390.5 437.9,391.4 439.9,390.5 440.7,389.6 442,389 443,387.1 444.1,386.7 444.8,385.8 445.3,384 445,382.5 446.6,381.6 447.9,381.5 448.7,380.8 448.6,378.8 449.5,377.1 450.4,376.4 450.4,374.6 451.7,374 452.8,373 453.6,372.8 455,372.5 454.1,371 454.9,369.9 456.7,368.9 457.2,367.2 458.6,366.4 460.7,366.2 462.5,365 463.6,363.3 465.3,362 465,359.9 465.1,358.7 466.1,357.9 467.1,357.5 468.5,357.1 470,357.4 471.7,357.6 472.5,356.2 472.6,355 473.4,353.9 474.6,353.1 476,352.6 477.7,352.8 478.3,350.9 480.4,350.3 480.2,348.9 480,347.5 482,347.1 483.9,347.8 485.2,346.3 486.7,346.1 487.7,346.3 487.8,344.6 488.7,343.7 489.9,343.2 491.2,341.7 492.2,340.3 493.8,340.6 495,340 496.2,339.8 497.2,338.7 498.8,338.1 500.6,337.8 502.7,337.7 504.7,337.2 506,337.7 507.2,337.2 509.2,336.4 510.2,335.3 511.5,334.3 512.5,332.5 514.2,331.6 514.9,331.1 516.4,330.9 517.5,331.7 518.8,330.5 520.4,330.7 521.6,330 522.2,328.4 523.1,327.8 525,327.5 526.8,327.6 527.8,326.4 529.4,327.1 530.1,327.8 531.9,328 533.1,326.9 534.7,327.2 534.9,325.9 535,325 536.3,324.4 538.1,324.3 539.7,322.9 541.8,323.4 543.2,323.5 544,323.9 545.3,324.5 547.2,324.6 547.9,323.4 549.2,322.7 550,322.5 551.4,321.1 552.7,321.4 553.6,320.9 555,320.3 555.7,319.8 557.3,320.4 558.7,320.6 559.9,320.5 560.1,321.8 561.1,322.5 562.5,323.8 564.2,324.2 565.2,324.7 567.2,325 568.4,324.9 569.5,324.4 570.8,323 572.2,322.5 573.5,322 575,321.2 576.3,322.1 577.6,322.8 578.9,322.9 579.6,323.9 581.2,324.4 583,324 583.8,324.3 584.9,325.3 585.8,325.7 587.1,325.1 588.4,324.5 590,323.8 591.8,324.1 592.7,323.6 594.1,324.3 595.8,325.2 597.2,325.4 598.4,325.6 598.9,326.9 600,327.5 600.7,328.2 602.3,328.7 603.5,329.5 603.6,331.3 603,332.8 603.3,334.9 602.5,335.2 601.2,336.2 601.3,337.6 599.8,338.3 598.4,338.8 597.6,339.7 595.6,339.3 594.1,339.7 592.9,339.6 591.5,339.8 590,340 590.1,341.7 589.6,342.9 590,344.5 589.1,345.4 589.6,347.1 587.6,347.3 587.3,348.6 586.7,350.1 585,350 587.5,345 580,340 570,336.2 556.2,342.5 550,352.5 540,357.5 530,360 517.5,360 506.2,353 500,361.2 480,365 465,375 455,392.5 445.5,400 442.4,406.3 440.8,414.1 437.6,420.4 432.9,426.7 436.9,429.8 436.1,435.3 429.8,436.9 422,439.2 415.7,445.5 413.3,451.8 414.1,461.2 414.9,469 414.1,476.9 417.3,481.6 420.4,485.5 414.9,491 414.1,498.8 415.7,506.7 411,509.8 407.1,516.1 405.5,523.9 401.6,527.8 398.4,523.9 397,523.3 395.9,522.9 395.6,522 394.5,520.8 394.9,518.6 394.5,516.6 394.5,515.2 395.3,512.9 394.7,511.5 394.2,510.2 392.9,509.8 392.1,511.5 392.1,512.7 390.6,512.5 389.8,512.9 390.2,514.9 390.2,516.3 389.5,519.2 389,520.8 387.4,520.5 385.1,521.5 384.6,523.2 382.7,524.7 380.5,524.4 378.4,525.7 376.7,526.8 374.9,528.6 373.6,529.3 372.2,530.1 370.5,532 368.6,533.3 365.4,534.7 363.6,535.8 361.7,536.9 360.8,538Z"/><path d="M427.5,372.5 429.3,372.2 430,371.2 431.5,369.8 433.5,368.6 434.5,366.8 435.1,365.5 436.4,364.7 437.5,365 439.3,364.4 440.2,363.5 442.8,362.6 444.4,363 445.4,362 447.1,362 447.5,360 450.1,358.6 451.6,357.6 453.2,357 454.3,357 455.1,356.3 456.1,355.3 457.5,353.8 458.2,352.5 459.7,350.9 461.7,350 463.2,349.6 465.4,350.5 467.5,350 468.9,350.8 469.8,350.8 470.6,350 472.5,349.7 473.2,348.1 474.6,347.6 475,346.2 476.5,346.4 477.1,347.2 477.6,348.4 479.1,347.9 480.1,347.4 481.2,347.4 482.5,347.5 482.6,349.3 481.7,350.1 480.7,351 479.4,350.8 478.4,351.3 477.7,352.9 475.8,354 475,355 473.3,355.1 472.1,355.5 471.3,356.8 469.7,357.4 468.7,358.8 467.6,359.1 466.4,359.8 465,360 463.4,360.8 461.7,361.8 461.4,363.1 460.7,361.9 459.2,361.7 456.8,362.2 455,362.5 453.4,363.4 451.2,364.4 450.5,365.3 449.2,366.5 447.9,367.7 447,368.2 445,367.5 443.6,367.4 442.7,368.3 441.7,368.3 440.5,368.4 440.4,369.7 439.2,370.8 436.5,371.5 435,372.5 433.7,372.6 432.8,372.4 432.1,371.2 430.5,371.7 429.6,372.7Z"/><path d="M470,347.5 471,347.4 472,346.1 472.6,344.9 473.4,343.9 474.1,342.8 475.4,342.7 476.6,342 477.5,340 478.3,339.3 479.3,338.1 481.7,337.1 483.1,336.3 484.1,335.9 485.9,336.3 487.5,336.2 488.8,335.4 490.2,335.6 492.1,334.9 493.3,334.9 494.6,336.2 496.2,337.5 495,338.9 493.6,338.8 492.7,338.7 491.9,340 490.8,341.4 490.3,342.3 490,343.8 489.1,344.2 488,344.9 485.8,345.7 484.6,346.3 484.1,347.5 482.9,347.8 481.7,348.1 480,348.8 478.3,349.8 477.2,350 475.1,350 473.9,349.1 471.7,349.1 470.8,347.9Z"/><path d="M500,336.2 501.3,334.5 503.8,333.5 505.6,331.6 507.5,331.2 508.9,331.8 511.4,331.9 514.1,331.4 515,330 514.1,331.7 513.7,333.3 513.8,334.5 512.5,336.2 511.3,337.2 509.2,339 507.5,339.9 505,340 503.2,339.3 502.3,337.5 500.9,336.8Z"/><path d="M418.3,221.2 419.3,221.2 420.5,220.6 421.9,220.8 423.3,221.2 424.4,220.5 425.4,218.8 427.5,219.3 428.1,218.4 429.9,218.1 430.9,218.8 432.4,220.2 434,220.9 436.4,221.2 437.8,221.3 439.4,222.5 440.4,222 441.9,221.9 443.9,221.1 445.8,220.4 446.9,221.6 448.3,222.3 450,222.4 451,223 452.1,223.5 453.2,222.7 454.3,222.4 455.6,221.7 456.8,221.1 458.3,219.6 459.8,219.7 460.5,220.2 462.1,219.6 463.4,220.4 464.5,220.1 466.1,219.4 467.7,218.8 468.9,219.8 469.8,220.1 471.5,220.4 473.1,221.7 474.4,222.1 475.6,222.7 477.1,222.5 479.4,223 480.3,223.8 481.6,224 483.2,223 485,223.5 486,225.3 487.5,226.1 488.4,226.6 489.6,226.5 491.1,226.1 492.8,226.7 494.2,227.4 495.9,227 497.3,226.8 498.3,227.5 499.8,227 501.7,227.3 503.6,228.6 505.4,229 504.8,230.3 503.4,230.9 502.3,231.3 501.2,231.5 498.4,232.2 495.8,232.3 494.4,232.4 492.8,231.4 491.5,232.5 489.7,233.7 489.6,235.5 488.1,236 486.6,236.9 485.9,238.2 484.1,238 482.9,237.9 481.9,239.2 480.7,240.9 478.9,241.9 477.2,241.6 476.9,242.5 475.8,243.6 474,243.5 473.2,244.8 472.5,245.5 471.7,247.5 470.6,248.5 469.4,248.5 468.3,249.3 467.7,250.2 466.2,250.4 464.6,251.8 462.7,250.9 461.8,249.9 461.5,248.7 459.9,249.6 458.3,248.6 457.1,247.9 455.9,246.9 454.9,246.4 453.7,246.4 451.9,245.5 450.5,246.3 449.6,245.8 449,244.4 447.1,244 445.9,244 444.2,243.9 446,243.5 447.1,242.4 448.1,242.4 449.3,241.6 450.5,242.4 449.7,240.8 448.2,239.9 447.3,239.6 446.3,239.2 444.4,239.2 442.5,239 441.1,239.2 442.3,239 444.2,238.7 445.6,238.5 445.8,236.9 447.2,237 448.5,236.6 449.9,236.1 451.4,235.9 452.7,235.6 454.1,234.6 455.4,235 456.8,235.3 455.3,235.2 454.8,233.8 453.8,233.4 452.1,232.2 450.4,232.4 449.5,233.3 447.8,233.2 445.5,232.6 444.5,233 443.2,233.6 442,233.3 441.1,232.9 439.5,232.1 437.9,232.3 436.1,232 435.8,231.1 434.6,230.3 433.2,230.6 431.9,230 431.3,229.4 430.4,228.7 430,227.4 429.1,227.9 427.5,227.5 426.3,226.6 425.4,226.7 423.9,225.5 422.6,225 420.7,224.3 420.1,222.3Z"/><path d="M481.9,218.8 482.9,218.5 484.6,218.2 485.9,216.9 487.8,216.5 488.9,216.4 490.3,216 492.8,215.7 494.7,216.5 496.6,216 498.1,216.2 499.9,217.4 501,217.6 502.3,217.3 503.3,216.9 505.1,216.6 506.6,216.6 508.1,215.7 509.3,215.6 511.3,216.2 512.7,215.9 514.8,216.5 515.8,215.8 517.3,216 517.9,214.1 518.5,215 520.3,215.5 522.4,214.9 524.2,215.7 525.3,215.7 527,215.3 528.4,215 529.7,215.5 531.8,215.1 532.9,215.2 534.9,214.7 536.8,214.9 538,215.3 539.4,215.2 541.2,214.8 542.7,213.7 544.6,213.5 546.7,213.7 549.5,213.5 552.5,214.1 550.8,215.3 549.8,216.6 549,217.2 547.5,217.9 546.2,218 544.1,218.6 542.1,218.6 540.9,218.8 539.9,220.4 538.2,221 537.1,220.3 535.9,220.2 534.7,220.8 532.9,220.8 532,221.5 530.5,222 529.3,222.8 528.4,223 527.4,223.4 525.5,223.3 523.4,223.9 522.3,223.3 521.1,223.5 519.8,222.9 518.2,223 517.5,221.9 516.5,221.5 514.5,220.7 513.2,221.2 512,220.5 511,220.3 509.6,220.4 508.7,220.9 507.3,221.8 505.2,222.2 503.8,222 501.8,220.8 500.4,220.6 499,220.8 497.8,220.8 496.1,220.5 494.6,220.7 492.8,220.4 491,220.2 489.7,220.4 487.8,220.7 486.4,220.3 485,220.4 483.8,219.9Z"/><path d="M499.1,233.7 500.8,233.7 501.8,234.1 502.6,234.1 504,233.6 505.6,233.4 507,232.2 507.8,232.5 509.2,232.4 510.4,233.5 511.7,234.2 512.3,234.8 513.4,235.1 514.8,235.3 515.8,234.9 517,234.6 519.2,234.7 520.3,235.2 521.9,236.4 523.2,236.6 524.2,237.6 525.2,238.1 526.4,238.2 528.3,237.5 530,237.1 531.3,237.6 530.3,238 529.5,239.2 528.3,239.8 526.8,239.7 525.8,240.8 524.1,241 523.2,241.7 521.3,242.8 520,242.5 519.1,242.5 517.9,243.1 516.6,243.3 515.7,243.3 514.7,242.5 513.5,242.1 511.3,242.1 509.7,242.3 508.5,242.4 507.6,241.9 505.9,241.4 503.8,240.8 504.8,239.9 504.8,238.5 505.8,237.5 507,237.6 505.6,236.8 504.9,236.3 504,235.2 502.1,234.6 500.9,234Z"/><path d="M414.4,227 420.7,230.6 425.4,233.3 419.9,231.4Z"/></g>
<g filter="url(#s2)"><path d="M401.6,527.8 405.5,523.9 407.1,516.1 411,509.8 415.7,506.7 414.1,498.8 414.9,491 420.4,485.5 417.3,481.6 414.1,476.9 414.9,469 414.1,461.2 413.3,451.8 415.7,445.5 422,439.2 429.8,436.9 436.1,435.3 436.9,429.8 432.9,426.7 437.6,420.4 440.8,414.1 442.4,406.3 445.5,400 455,392.5 465,375 480,365 500,361.2 507.5,351.2 520,362.5 531.2,370 533.8,380 537.5,392.5 540,402.5 547.5,406.2 535,403.8 522.5,407.5 513.8,417.5 511.2,425 505,437.5 495,447.5 482.5,455 475,457.5 472.5,467.5 468.8,480 470,490 473.8,498.8 482.5,505 486.2,512.5 477.5,523.8 467.5,530 460,537.5 473.3,528.3 465,533.3 460,538.3 461.7,548.3 460.8,558.3 459.2,568.3 455,577.5 448.3,582.5 438.3,584.2 433.3,588.3 430,593.3 423.3,595.8 418.3,593.3 416.7,585 415.8,575 411.7,565 406.7,553.3 403.3,541.7 407.8,560 406.3,549 404.7,541.2 400.8,533.3Z"/><path d="M480,560 483.8,552.5 491.2,548.8 488,557.5 483,565Z"/><path d="M459.2,578.3 461.7,570 466.3,560.8 464.7,570 460.8,579.2Z"/></g>
<g filter="url(#s3)"><path d="M547.5,406.2 540,402.5 537.5,392.5 533.8,380 531.2,370 520,362.5 506.2,353 517.5,360 530,360 540,357.5 550,352.5 556.2,342.5 570,336.2 580,340 587.5,345 585,350 590,362.5 596.2,370 591.2,380 597.5,392.5 601.2,400 600,410 606.2,420 610,430 617.5,440 623.8,447.5 623.8,448.8 615,460 605,472.5 592.5,488.8 585,493.8 570,496.2 555,502.5 540,507.5 532.5,502.5 522.5,495 516.2,487.5 517.5,479.8 513.8,470 515,460 525,450 535,440 545,430 553.8,420 555,412.5Z"/><path d="M497.5,505.5 501.2,503.8 503,507 499.5,508.5Z"/></g>
<g filter="url(#s4)"><path d="M543.8,525 550,518.8 565,515 580,513.8 593.8,515 591.2,525 590,535 592.5,547.5 586.2,550 575,546.2 565,542.5 555,546.2 552.5,538.8 547.5,537.5 545,531.2Z"/><path d="M527,528.5 530,526 534,525.5 536.8,528.5 534.5,531.5 530.5,532Z"/><path d="M523.5,538.5 527.5,536 532.5,534.5 539,533.5 541.5,536 538,539.5 532.5,541 528,545 525.5,543 526.5,540Z"/></g>
<g filter="url(#s5)"><path d="M516.2,582.5 516.2,575 520,560 530,553.8 538.8,556.2 543.8,563.8 552.5,560 555,546.2 565,542.5 575,546.2 586.2,550 592.5,547.5 595,560 601.2,570 600,580 590,585 583.8,587.5 575,582.5 562.5,576.2 550,578.8 537.5,576.2 525,577.5 516.2,582.5Z"/></g>
<g filter="url(#s6)"><path d="M516.2,582.5 525,577.5 537.5,576.2 550,578.8 562.5,576.2 575,582.5 583.8,587.5 585,590 583.8,597.5 575,605 572.5,615 565,617.5 560,622.5 550,623.8 547.5,618.8 543.8,612.5 537.5,606.2 530,602.5 520,600 517.5,595Z"/></g>
<g filter="url(#s7)"><path d="M430,627.5 440,622.5 455,617.5 470,612.5 482.5,611.2 486.2,616.2 500,617.5 520,617 540,617 546.2,620 550,628.8 553.8,640 548.8,652.5 553,662.5 554.5,672.5 557.2,681.2 560,692.2 551.8,703 544.5,712.5 542.5,720 530,716.2 517.5,718.8 505,720 497.5,715 488.8,713.8 480,706.2 470,700 462.5,698.8 457.5,693.8 447.5,690 440,685 437.5,682.5 436.2,672.5 435,660 430,647.5 432.5,637.5Z"/></g>
<g filter="url(#s8)"><path d="M362.5,601.7 368.3,603.3 373.3,603.3 377.5,608.3 381.7,613.3 388.3,620 394.2,622.5 398.3,620 406.7,617.5 415,615.8 420,618.3 424.2,621.7 428.3,626.7 432.5,637.5 430,647.5 435,660 436.2,672.5 437.5,682.5 431.2,686.2 422.5,690 410,695 401.2,698.8 403.8,707.5 410,717.5 417.5,725 420,732.5 410,745 408.8,752.5 400,750 387.5,751.2 377.5,752.5 370,753.8 360,750 347.5,746.2 333.8,746.2 335,740 337.5,730 343.8,720 335,716.2 325,712.5 323.8,705 318.8,695 321.2,685 317.5,677.5 321.2,670 322.5,660 332.5,652.5 337.5,642.5 340,632.5 339.2,627.5 345,625.8 351.7,625 355,628.3 358.3,623.3 363.3,621.7 366.7,620 364.2,613.3 365,606.7Z"/><path d="M418,613.3 421.7,612 423,615.3 419.7,616.3Z"/></g>
<g filter="url(#s9)"><path d="M362.5,601.7 362.2,599.5 361.2,597.3 360.9,595.4 360,593.3 360,591.6 359,589 358.2,587.4 357.5,586.7 358.3,584.9 359.3,583 359.2,580.9 360,578.3 360.1,576.5 360.8,574.3 360,572.5 360,570 360.3,568.5 361.3,567.3 362.4,565.6 364.2,563.3 365.6,563.5 367.2,562.7 370,562.1 371.7,561.7 374,560.8 375.1,560 377.1,559.6 378.3,559.2 379.9,557.1 381.6,556.1 382.2,554.8 383.3,553.3 384.8,551.7 386.9,551.4 388.3,550.8 388.6,552.2 388.7,553.8 388.7,555.7 388.3,556.7 387.3,558.2 386.3,560.4 386.1,561.5 385.8,563.3 385.6,565.1 385,566.8 385,568.9 385.8,570 387.2,571 388.3,571.7 390.3,572.4 391.7,573.3 390.6,575.2 389.3,575.8 388.3,577.5 386.5,577.3 385.6,577.9 384.3,578.3 383.3,578.3 382.5,579.4 382.4,581.4 382.1,583.3 381.7,585 380.7,585.8 380,587.2 378.4,588.6 377.5,590 376.2,591.7 375.7,593.3 375,595 375,596.7 374.3,598.5 373.6,600.5 373.5,601.9 373.3,603.3 371.4,603.7 369.9,603.5 368.3,603.3 366.5,603.4 364.6,602.7 363.9,601.9Z"/><path d="M378.3,591.7 385,590.8 389.2,595.8 386.7,600 380.8,599.2Z"/><path d="M394.2,588.3 395.8,587.8 397.6,586.9 398.8,585.9 400,585.8 401.4,584.7 403.7,584.1 404.4,583.3 405.8,582.5 407,582.3 409.1,582.7 410.8,583.3 410.6,584.8 411.2,587.2 411.7,588.2 411.7,590 409.7,591.2 408.3,592.9 407,594.1 406.7,595 406.5,596.3 406.3,597.8 405.8,599.1 405,600.8 403.4,600.2 402.4,600 401,600 400,600 399.3,598.3 398.4,597.4 397.2,596.1 395.8,595 395.5,593.8 395.9,592.5 395.4,590.4Z"/><path d="M392.5,605 398.3,606.7 405,605.8 401.7,609.2 395,608.3Z"/><path d="M437.5,600 442.5,601.7 441.7,604.2 438.3,603.3Z"/></g>
<g filter="url(#s10)"><path d="M310,631.2 320,628.8 331.2,627.5 340,626.2 337.5,640 333.8,650 325,655 322.5,665 320,672.5 315,666.2 307.5,662.5 297.5,663.8 287.5,663.8 292.5,658.8 298.8,652.5 302.5,642.5Z"/></g>
<g filter="url(#s11)"><path d="M276.2,667.5 287.5,663.8 297.5,663.8 307.5,662.5 315,666.2 320,672.5 318.8,680 322.5,687.5 316.2,693.8 312.5,700 305,695 300,688.8 292.5,690 285,680 280,675Z"/></g>
<g filter="url(#s12)"><path d="M316.2,693.8 321.2,692.5 322.5,700 317.5,705 313.8,701.2Z"/></g>
<g filter="url(#s13)"><path d="M131.2,570 140,568.8 150,573.8 156.2,571.2 148.8,566.2 156.2,560 171.2,560 165,566.2 160,570 156.2,573.8 160,578.8 167.5,581.2 172.5,587.5 173.8,597.5 172.5,607.5 167.5,616.2 162.5,620 152.5,618.8 140,622.5 127.5,623.8 115,616.2 113.8,608.8 125,605 136.2,603.8 127.5,597.5 136.2,591.2 127.5,583.8 131.2,576.2Z"/></g>
<g filter="url(#s14)"><path d="M156.2,573.8 160,570 165,566.2 171.2,563.8 180,563.8 186.2,572.5 183.8,582.5 176.2,585 172.5,587.5 167.5,581.2 160,578.8Z"/><path d="M207.5,506.2 209.4,504.7 211.2,504.5 215.2,505.2 217.5,505 221.8,506.6 225.9,507.5 230.1,508.6 232.5,510 232.7,511.7 231.9,513.3 230.9,515.6 228.8,517.5 226.7,519.7 224.1,521.7 221.9,522.5 220,523.8 224.5,524.6 227.5,525.8 230.3,527.9 232.5,528.8 234.7,528.9 236.3,530.1 238.9,531.1 242.5,531.2 242.1,533.8 241.2,535.4 240.8,537.6 240,540 237.5,542 235.3,545 234.4,546.4 232.5,547.5 231.5,549.1 230.4,550.2 227.3,551.7 225,552.5 223.8,553.2 222.1,552.7 220.9,553.7 220,555 223,555.9 224.8,556.5 227.1,557.7 230,560 232.9,561.7 235,564.5 236.5,565.8 237.5,567.5 238.6,569.1 238.8,572.6 239,576.9 238.8,580 240.1,583.2 240.5,585.2 241.3,587.5 242.5,590 243.7,593 246.1,596.7 248.4,598.8 250,600 250.6,601.6 251.4,603.5 252.5,606.2 252.5,608.8 251.8,610.8 250.1,612.5 250,614.1 250,615 251.8,617.4 253.9,619.4 253.9,621.5 255,623.8 257.9,625.3 260.1,626.7 262.1,627.1 265,627.5 266.8,629.9 267.9,631.6 268.8,633.4 268.8,635 268,637.8 266.7,638.9 265.7,641.6 265,645 262.6,645.8 261.6,647.3 260.3,649.4 257.5,651.2 259.5,651.7 260.5,652 261.7,652.8 262.5,655 262,656.5 260.5,658.8 259.1,660.8 257.5,662.5 254.5,663.3 249.9,664.4 247.2,666.1 245,666.2 241.1,665.3 237.1,664.2 234.5,664.7 232.5,665 228.3,663.3 225.3,663 222.9,663 220,663.8 218,664 214.9,663.2 212.3,662 207.5,661.2 204.3,661.3 202.3,661.5 200.1,662.2 197.5,662.5 195.6,663.2 194.5,663.5 191.7,664.9 190,666.2 186.4,666.9 183.6,666.2 181.9,665.7 180,665 176.8,664.4 174.4,664.7 171.8,664.3 170,665 171.8,663.3 172.8,660.7 175.6,658.9 177.5,657.5 179.9,656.2 183.6,654.3 186.1,651.8 187.5,650 189.6,650.6 192.9,650.2 195.8,648.9 200,647.5 203.6,645.3 205.8,644.4 207.6,643.5 210,642.5 207.1,642.2 204.1,641.2 202.3,640.4 200,640 198,639.8 195.7,638.4 191.3,637.4 188.8,636.2 185.2,635.9 182.7,634.8 180.8,633.9 180,632.5 180.5,630.8 181.3,629.8 182.6,628.9 185,627.5 187.9,625.1 190.4,624.3 192.7,623.5 195,622.5 194.6,619.6 194.7,617.3 193.9,615.5 192.5,612.5 193.9,610.6 195.4,608.1 196.9,606.8 197.5,605 199.3,605.6 202.3,605.6 205,606.9 207.5,607.5 210.3,606.9 211.7,605.8 213.5,604.8 215,603.8 214.4,602.3 212.9,600.8 212.7,597.4 212.5,595 211.4,592.2 210.2,589.6 210.6,586.6 210,585 210.5,583.4 212.1,581.2 212.4,580.3 212.5,578.8 210.8,577.3 208.4,577 204.9,576.5 202.5,576.2 201.5,574.3 198.9,572.4 197.8,572 196.2,571.2 196.5,569.9 197.2,568 199,565.7 200,562.5 198.4,561.4 197.6,560.6 196.8,558.9 195,557.5 194,558.4 193.1,559.2 191.5,560 188.8,560 188.3,557.4 186.3,554.1 186.5,551.8 186.2,550 186.1,547.5 185.7,544.5 187.2,542.1 187.5,540 185.8,537.8 185.7,536.1 185.6,533.4 185,530 184,528.5 183.5,525.7 181.7,522.7 180,521.2 180.2,519.3 181.1,516.6 181.9,514.3 183.8,512.5 184.9,511.5 187.3,510.4 188.7,508.5 190,507.5 191.8,507.3 193.5,508.4 195.1,508.1 197.5,507.5 198.8,508.8 199.5,511.8 201,513.6 201.2,515 202.8,513.7 203.3,512.1 204.5,511.5 205,510 205.9,508.5 206.6,506.9Z"/><path d="M175.5,514.8 176.5,513.4 177.6,513 179,512 180,513.3 180.4,514.7 180.3,516.6 180.5,518.6 179.5,519.2 178.7,520.7 178.5,521.6 178.5,523 177,522.4 176,520.8 176.6,519.7 176.4,517.9 175.9,516Z"/><path d="M172.5,531.8 173.6,530.8 175.3,529.8 175.8,531.4 176.6,532.6 176.5,534.5 175.5,536.3 174.9,537.8 174,536.9 172.9,536.1 173.3,535 173.1,533.8Z"/><path d="M180.8,541 182,540.7 182.8,539.9 183.9,539.5 184.8,540.9 185.4,541.7 185.2,543.1 183.9,544.2 183.4,545.5 182.9,544.5 181.2,544.3 180.9,543.1Z"/><path d="M188.2,550 189.3,548.7 190.7,548.8 191.8,550.1 191.8,551.8 190.7,552.8 190.3,553.8 188.6,552.8 188.3,551.4Z"/><path d="M235.2,496.6 236.8,496 238.4,495.8 238.5,497 239.8,497.9 239.4,498.7 237.9,499.2 237,499.6 235.7,498.6Z"/><path d="M256.5,481.9 257.4,481 258.6,480.8 259.6,481.8 259.5,483.4 258.3,485.2 256.8,484.4 256,483.6Z"/><path d="M179.5,508.9 180.9,508.9 181.9,507.8 182.4,509.4 183,510.4 182.6,511.6 181.6,512.2 179.8,511.4 179.7,509.8Z"/><path d="M181.5,526.5 182.4,525.8 183.6,525.5 184.1,526.6 184.5,527.9 183.3,529.5 181.8,528.7 181.7,527.7Z"/></g>
<g filter="url(#s15)"><path d="M167.5,700 175,697.5 190,698.8 201.2,700 211.2,697.5 212.5,686.2 217.5,685 220,692.5 230,695 240,691.2 250,686.2 260,680 262.5,672.5 276.2,667.5 280,675 285,680 292.5,690 300,688.8 305,695 312.5,700 313.8,701.2 317.5,705 327.5,710 340,716.2 342.5,720 336.2,730 333.8,740 332.5,746.2 335,745 325,748.3 316.7,760 310,768.3 315,771.7 320,780 316.7,790 321.7,800 318.3,810 325,816.7 323.3,823.3 313.3,828.3 303.3,835 293.3,831.7 283.3,826.7 273.3,823.3 263.3,828.3 256.7,836.7 255,843.3 243.3,843.3 232.3,836 216.7,831.7 200,823.3 186.7,811.7 190,803.3 196.7,790 201.7,773.3 203.3,756.7 196.7,746.7 193.3,736.7 186.7,726.7 176.7,716.7 170,710 168.3,700Z"/><path d="M337.5,855 339.1,853.9 340.6,852.7 342.1,851.1 343.8,850 344.7,848.8 346.3,847.9 348.4,845.6 350,843.8 349.9,846.6 350.3,849 351.1,851.9 351.2,855 351,857.3 350.6,859 350.1,861.2 350,865 349.2,866.9 348.5,869.4 347.6,872.2 346.2,875 344.9,874.2 343.2,873 342.1,872.3 341.2,871.2 340.4,869 338.8,865.7 338.2,864.4 337.5,862.5 337.7,861.2 337.6,859.4 337.7,857.8Z"/></g>
<g filter="url(#s16)"><path d="M76.7,790 96.7,783.3 110,786.7 130,795 146.7,800 163.3,805 176.7,808.3 186.7,811.7 200,823.3 216.7,831.7 232.3,836 243.3,843.3 255,843.3 253.3,853.3 236.7,861.7 220,870 206.7,880 196.7,890 191.7,900 196.7,910 186.7,918.3 178.3,926.7 163.3,931.7 153.3,941.7 140,940 123.3,938.3 106.7,938.3 96.7,945 88.3,940 85,930 80,920 73.3,915.7 71.7,908.3 80,898.3 81.7,886.7 88.3,875 85,865 95,861.7 100,846.7 101.7,836.7 111.7,831.7 108.3,821.7 96.7,820 86.7,815 78.3,813.3 76.7,803.3Z"/><path d="M235,900 243.3,895 251.7,900 246.7,906.7 240,905Z"/><path d="M259.3,895 263.3,894 266,897.3 261.7,898.3Z"/><path d="M214.3,910 217.3,907.7 219.3,910 216,911.7Z"/></g>
<g filter="url(#s17)"><path d="M78.3,813.3 86.7,815 96.7,820 108.3,821.7 111.7,831.7 101.7,836.7 100,846.7 95,861.7 85,865 88.3,875 81.7,886.7 80,898.3 71.7,908.3 73.3,915.7 60,915 46.7,910 51.7,903.3 55,893.3 51.7,883.3 50,873.3 55,866.7 63.3,853.3 68.3,840 73.3,826.7Z"/></g>
<g filter="url(#s18)"><path d="M230,835.3 232.7,834 234.7,836.7 231.7,838Z"/></g>
<g filter="url(#s19)"><path d="M311.2,767.5 316.2,760 325,750 333.8,746.2 347.5,746.2 360,750 361.2,757.5 363.8,763.8 370,767.5 365,773.8 357.5,772.5 352.5,778.8 347.5,780 342.5,772.5 335,777.5 327.5,780 320,778.8 317.5,771.2Z"/></g>
<g filter="url(#s20)"><path d="M360,750 370,753.8 377.5,752.5 387.5,751.2 400,750 408.8,752.5 410,745 420,732.5 430,732.5 435,727.5 445,726.2 455,730 465,731.2 463.8,740 465,748.8 458.8,752.5 460,760 455,768.8 445,772.5 430,776.2 417.5,775 407.5,771.2 397.5,767.5 387.5,763.8 380,762.5 372.5,767.5 363.8,763.8 361.2,757.5Z"/></g>
<g filter="url(#s21)"><path d="M401.2,698.8 410,695 422.5,690 431.2,686.2 437.5,682.5 440,685 447.5,690 457.5,693.8 462.5,698.8 470,700 480,706.2 488.8,713.8 482.5,720 475,726.2 465,731.2 455,730 445,726.2 435,727.5 430,732.5 420,732.5 417.5,725 410,717.5 403.8,707.5Z"/></g>
<g filter="url(#s22)"><path d="M465,731.2 475,726.2 482.5,720 488.8,713.8 497.5,715 505,720 517.5,718.8 530,716.2 538.8,720 537.5,730 532.5,735 520,733.8 512.5,736.2 502.5,742.5 490,745 480,748.8 470,746.2 465,748.8 463.8,740Z"/></g>
<g filter="url(#s23)"><path d="M465,748.8 470,746.2 480,748.8 490,745 502.5,742.5 512.5,736.2 520,733.8 532.5,735 543.8,743.8 537.5,750 532.5,760 527.5,772.5 520,780 505,782.5 492.5,787.5 480,790 470,785 460,777.5 455,768.8 460,760 458.8,752.5Z"/></g>
<g filter="url(#s24)"><path d="M417.5,775 430,776.2 445,772.5 455,768.8 456.2,775 447.5,781.2 443.8,790 435,795 425,793.8 417.5,790 418.8,782.5Z"/></g>
<g filter="url(#s25)"><path d="M325,815 317.5,807.5 316.2,795 318.8,785 320,778.8 327.5,780 335,777.5 342.5,772.5 347.5,780 352.5,778.8 357.5,772.5 365,773.8 370,767.5 372.5,767.5 380,762.5 387.5,763.8 397.5,767.5 407.5,771.2 417.5,775 418.8,782.5 417.5,790 416.2,795 415,790 405,791.2 397.5,797.5 396.2,807.5 396.2,817.5 402.5,827.5 410,835 415,845 420,855 430,865 442.5,870 450,872.5 446.2,877.5 452.5,880 462.5,886.2 472.5,892.5 482.5,900 486.2,907.5 485,912.5 480,907.5 472.5,902.5 463.8,900 457.5,905 456.2,916.2 465,922.5 465,930 460,935 453.8,942.5 447.5,952.5 442.5,951.2 445,942.5 451.2,935 450,927.5 446.2,916.2 440,907.5 430,898.8 420,892.5 412.5,885 405,880 395,872.5 385,862.5 375,850 367.5,840 362.5,827.5 355,818.8 345,812.5 335,815 325,818.8Z"/><path d="M391.2,951.2 394.6,949.5 396.8,948.6 398.4,947.8 400,947.5 405,948.8 407.7,949.7 410.7,949.6 412.5,950 416.1,950.1 420.2,950.4 422.6,950 425,950 429.8,948.6 432.2,947.3 435.8,947 438.8,946.2 438.4,948.8 437.7,951.3 436.9,952.9 436.2,955 435.2,956.8 434.4,960.2 433.8,962.2 432.5,965 433,966.7 433.1,969.6 433.6,971.5 433.8,973.8 431.4,974.5 429.5,975.8 428.5,976.5 427.5,977.5 425,976.3 422.9,974.7 421.9,973.7 420,972.5 418.3,971 415.6,969.1 413.1,967.6 410,966.2 407.8,965.4 404.7,963.6 402.4,961.6 400,960 397.6,958.8 396.4,957.7 394.6,957.2 392.5,956.2 391.6,955.2 391.3,953.5 391.3,952.1Z"/><path d="M328.8,887.5 330.7,886.7 332.2,886.3 335.1,885.2 337.5,883.8 340.3,882.8 342.8,881.7 344.4,880.5 346.2,880 347.4,882.4 348.3,885.3 350.2,887.7 351.2,890 350.4,892 349.9,895.7 349.4,898.1 348.8,902.5 348.5,904.4 347.8,907.3 346.6,911.6 346.2,915 345,916.5 344,918.9 343,920.9 342.5,922.5 340.1,923.4 338.6,924 336.5,924.3 333.8,925 332.9,923 331.7,921.2 330,919.4 328.8,917.5 329.1,913.6 330.2,909.5 330.2,907.9 330,905 330.2,903.6 330.3,901.2 330.1,898.4 329.5,895 328.6,893 328.6,891.8 328.3,890.1Z"/></g>
<g filter="url(#s26)"><path d="M418.5,993 421,993 422.5,995.5 420,996Z"/></g>
<g filter="url(#s27)"><path d="M417.5,790 425,793.8 435,795 443.8,790 447.5,781.2 456.2,775 460,777.5 470,785 480,790 492.5,787.5 497.5,800 497.6,809.1 490,805.9 477.1,804.8 466.3,803.7 455.5,801.6 446.9,803.7 447.9,809.1 452.3,814.5 457.7,823.1 464.1,831.8 470.6,840.4 479.2,849 486.8,854.4 485.1,855.4 483.5,856.4 481.5,855.3 478.9,854.2 476.5,853.6 472.8,852.5 470.2,850.4 466.6,848 463.5,845.6 462,844.1 458.7,841.6 457,840.1 453.7,837.3 451.2,835.4 449.7,833.4 447.2,830.7 445.4,828 442.6,824.7 440.8,822.6 438.1,819.2 436.3,817 435,813.9 433.6,811 432.8,807.4 431.2,804.1 430,802.6 425.7,807.6 421,805.5 418,798.1Z"/></g>
<g filter="url(#s28)"><path d="M497.6,809.1 490,805.9 477.1,804.8 466.3,803.7 455.5,801.6 446.9,803.7 447.9,809.1 452.3,814.5 457.7,823.1 464.1,831.8 470.6,840.4 479.2,849 486.8,854.4 490,844.7 492.2,839.3 497.6,833.9 500.8,828.5 496.5,825.3 498.6,816.7Z"/></g>
<g filter="url(#s29)"><path d="M435.4,817.5 436.8,818.9 437.6,824.4 436.2,823.1Z"/></g>
<g filter="url(#s30)"><path d="M441.7,830.7 445.6,831.1 447.7,832.8 443.8,832.4Z"/></g>
<g filter="url(#s31)"><path d="M449.9,840.6 454.4,841 456.8,842.3 452.3,842Z"/></g>
<g filter="url(#s32)"><path d="M459.6,846 464.1,846.4 466.5,847.7 462,847.4Z"/></g>
<g filter="url(#s33)"><path d="M430.7,807.2 432.1,808.4 432.8,813.2 431.4,812Z"/></g>
<g filter="url(#s34)"><path d="M492.5,787.5 502.5,783.8 515,783.8 520,792.5 530,805 540,813.8 547.5,812.5 548.8,820 545,827.5 547.5,835 552.5,842.5 547.5,850 545,858.8 540,861.2 535,860 533.8,853.8 525,845 517.5,843.8 510,846.2 498.8,837.5 501.2,827.5 496.2,817.5 497.5,807.5 493.8,797.5Z"/></g>
<g filter="url(#s35)"><path d="M511.2,853.8 510,846.2 517.5,843.8 525,845 533.8,853.8 535,860 528.8,863.8 521.2,867.5 517.5,865 513.8,858.8Z"/></g>
<g filter="url(#s36)"><path d="M486.2,856.2 488.8,846.2 495,838.8 498.8,837.5 510,846.2 511.2,853.8 505,857.5 500,865 495,861.2Z"/></g>
<g filter="url(#s37)"><path d="M500,865 505,857.5 511.2,853.8 513.8,858.8 517.5,865 521.2,867.5 518.8,875 521.2,885 527.1,891.8 526.2,897.9 522.6,904.1 516.5,911.2 514.7,916.5 506.2,905 501.2,895 502.5,882.5 500,872.5Z"/></g>
<g filter="url(#s38)"><path d="M521.2,867.5 528.8,863.8 535,860 540,861.2 548.8,865 555,871.2 551.8,882.9 544.7,886.5 535.9,889.1 527.1,891.8 521.2,885 518.8,875 521.2,867.5Z"/></g>
<g filter="url(#s39)"><path d="M545,822.5 552.5,828.8 565,827.5 580,828.8 592.5,827.5 605,821.2 615,818.8 625,821.2 635,825 630,832.5 625,842.5 623.8,852.5 630,860 620,861.2 612.5,866.2 605.6,869.7 602.9,876.8 597.6,877.6 588.8,877.6 580,875.9 572.9,876.8 564.1,878.5 555.3,880.3 548.8,865 540,861.2 545,858.8 547.5,850 552.5,842.5 547.5,835 545,827.5 548.8,820Z"/></g>
<g filter="url(#s40)"><path d="M540,740 560,741.7 573.3,744 586.7,740 598.3,735 606.7,740 618.3,753.3 623.3,766.7 625,780 630,790 640,788.3 646.7,793.3 640,803.3 636.7,816.7 635,823.3 635,825 625,821.2 615,818.8 605,821.2 592.5,827.5 580,828.8 565,827.5 552.5,828.8 545,822.5 548.8,820 547.5,812.5 540,813.8 530,805 520,792.5 515,783.8 532.5,760 537.5,750 543.8,743.8Z"/></g>
<g filter="url(#s41)"><path d="M514.7,916.5 516.5,911.2 522.6,904.1 526.2,897.9 527.1,891.8 535.9,889.1 544.7,886.5 551.8,882.9 555.3,880.3 564.1,878.5 572.9,876.8 580,875.9 588.8,877.6 597.6,877.6 602.9,876.8 605.6,869.7 610,870.6 610.9,875 607.3,879.4 606.5,884.7 602.9,886.5 601.3,886.9 599,887.2 597.9,886.5 595.9,886.5 593.7,886.6 592.4,885.8 590.6,885.4 588.8,885.6 587.2,885.8 584.8,887.2 583.5,887.6 581.8,887.4 580.6,887.6 578.9,887.7 578.1,888.7 576.5,889.1 575,890.6 573.3,891.6 572.9,892.6 571.5,894 569.4,893.5 569.9,894.6 570.9,895.3 572.9,896.8 573.8,897.9 574.6,899.2 575.2,900.1 576.7,900.4 578.2,902 577.9,902.9 576.5,903.4 575.7,901.5 574.6,900.5 573.4,899.7 572.1,899.7 570.4,899.5 569.4,900.6 570.6,901.3 571.7,902 571.9,903.5 572.9,905 572.2,905.7 571.2,906.8 570.6,905.7 569.7,904.4 568.8,903.7 566.8,903.2 565.4,904.4 564.1,904.1 565.1,905.4 565.9,906 565.9,907.6 564,907.3 562.3,906.8 561,905.8 560.7,904.3 560.2,902.6 559.7,901.5 558.3,900.6 557.9,899.4 557.1,897.9 556.4,896.6 554.4,896.2 552.9,897.3 552.3,898.9 551.8,899.7 551.4,901.3 551.9,903.8 552.9,904.3 553.5,905.9 554.8,907.8 555.1,910.2 556.6,911.6 557.1,912.9 557.7,914.2 559,916 559.7,917 560.6,918.2 561.4,918.7 562.5,919.5 563.1,920.3 563.2,921.8 561.4,922.3 560.5,923.6 559.7,924.4 558.8,925.2 557.4,926.7 557.1,928.8 555.5,929.5 554.7,930.2 552.9,930.7 551.8,931.5 554,932 555.9,933.5 558.8,934.5 560.6,935.9 562.4,937.3 563.3,938.8 565.8,939.4 567.6,940.3 568.6,940.4 570.2,941.2 571.5,942.7 572.9,944.7 573.4,946.5 574.9,948.4 575.7,949.2 576.5,950 576.9,951.7 577.3,953.5 576.5,952.6 574.8,952.4 572.9,951.8 571.4,950.7 569.7,949.8 568.6,948 567.6,947.3 566,947.7 564.7,947.7 563.5,947.9 562.3,948.2 560.7,948.1 559.9,947.3 559,945.7 557.1,944.7 554.1,944.4 552.6,943.9 551.5,943.9 550,942.9 547.8,943.5 546.2,943.2 544.6,942.8 542.9,942.9 541.9,942.8 540.2,943 538.2,942.4 535.9,942.1 534.5,941.7 532.8,941.2 532.2,940.5 531.5,939.4 530.7,937.4 529.5,937.1 528.8,935.9 527.6,934.8 527.1,933.7 526.3,932.6 525.3,932.3 524.4,932.6 523.1,932.8 522.6,934.1 521.6,932.5 520.8,930.8 520,928.8 519.4,926.6 518.9,925.5 517.4,924.9 516.5,923.5 516.4,921.4 516.3,919.8 515.8,917.7Z"/><path d="M559.7,927.9 565.9,929.7 572.9,934.1 578.2,939.4 581.8,943.8 584.4,947.3 580.9,946.5 575.6,942.1 569.4,937.6 563.2,933.2 559.7,930.6Z"/><path d="M530.6,951.8 532,951.1 533.2,950.6 534.7,949.4 535.9,947.3 538.1,946 540.2,945.1 541.6,944.9 542.9,945.1 544.2,944.9 545.6,944.6 547.8,945 550,945.1 551.9,945.8 552.7,946.7 554.4,947.3 556.2,948.2 557.2,949.4 557.7,950.2 559,951.4 560.6,951.8 561.1,952.7 561.6,954.2 562.4,955.3 564.1,956.2 565,957.5 566.2,959.1 567.6,960.6 566.3,960.9 564.8,960.9 563.2,961.5 562.1,960.3 561.1,960 559.7,958.8 558.2,960.4 557.9,962.3 558.7,964 559.3,965.1 559.7,966.9 560.6,969.4 560.7,971.7 561.4,975.6 562.6,978.7 563.2,980.9 562.9,978.8 561.8,976.9 561,975.6 559.7,974.7 559.1,973 558.5,971.5 557.5,970 556.2,969.4 555.3,970.9 554.5,972.1 553.9,973.2 553.5,974.7 552.8,977.1 552.8,978.8 552.1,980.1 551.8,980.9 550.5,978.8 549.9,976.3 549.7,974.7 549.1,972.9 548.1,971.4 547.8,970 546.8,969.4 545.6,968.5 545.3,971.1 544.5,972.4 544,973.4 542.9,974.7 542.3,973.8 542.1,972.4 541.6,971 540.3,969.4 539.3,968.2 538.2,966 537.9,964.5 537.6,962.3 535.6,960.8 534.3,959.5 534,957.9 533.2,957.1 532.2,956 531.9,954.4 531.7,953.3Z"/><path d="M572.6,1001.2 574.3,1000.5 574.7,999.4 575.7,999.6 577.3,1000.3 579.8,1000.3 581.8,1000.3 583.4,1000.9 585.1,1001.3 586.6,1001.7 588.8,1002.1 590,1001.7 591.6,1001.8 593.4,1001.8 595.9,1001.2 597.6,1001.1 600.2,1001.6 602.2,1001.8 604.7,1002.9 607.3,1003 609,1002.9 611.1,1003.2 613.5,1003.8 615.1,1003 616.4,1003 617.9,1003.3 617.2,1004.8 617.1,1006.5 615,1006.5 613,1006.9 611.9,1007.2 610,1007.3 608.5,1007.4 607.4,1007.8 605.5,1007.7 602.9,1008.2 600.5,1008.9 599.1,1009.3 597,1010.2 595.9,1010.9 594,1010.1 593.2,1009.3 591.8,1009.1 590.6,1008.2 588.2,1007.7 586.7,1006.8 583.6,1006.5 581.8,1006.5 579.6,1005.8 578.2,1005.7 575.4,1005.6 573.8,1005.6 573.7,1004.5 573.2,1003.2Z"/><path d="M640,981.8 643.5,977.3 647,974.7 646.2,980 642.6,985.3 640.3,986.2Z"/><path d="M630.8,990.9 632.2,990.2 632.9,996.8 631.5,998Z"/><path d="M604.7,920 610,917.3 614.4,920 613.5,923.5 609.1,922.1 608.6,924.6 605.6,922.6Z"/><path d="M604.7,935 607.9,934.1 609.1,939.4 606.5,942.1 604.7,938.5Z"/><path d="M618.5,950.3 622,949.1 625.2,950.3 624.1,952.1 619.7,952.1Z"/><path d="M609.6,953.5 613.5,952.5 613.9,953.9 610.3,954.9Z"/><path d="M590.2,906.2 594.1,904.8 595.3,908 591.6,909.4Z"/><path d="M580.5,891.1 583.2,890 584.4,892.8 581.8,894.2Z"/><path d="M595.2,894.9 597.6,894.6 597.6,896.2 595.5,896.4Z"/><path d="M505.5,913.8 508.4,914 512.2,919.6 510.5,921.1 507.6,917.5Z"/><path d="M521.1,934.8 522.8,934.5 523.2,938 521.4,938Z"/><path d="M518.2,944.3 522.6,945.8 522.5,949.3 519.3,949.3 517.9,946.8Z"/><path d="M522.8,954.2 525.3,954.9 526,957.4 523.5,956.7Z"/><path d="M560.6,983.9 562.3,984.2 562.7,987.1 560.9,986.7Z"/><path d="M587.2,949.4 589.3,948.9 590.4,950.5 588.5,951.1Z"/><path d="M592.2,954 593.5,953.7 594.3,954.7 593,955.1Z"/><path d="M599.6,965.2 601.6,964.8 602.8,966.4 600.9,967Z"/><path d="M595.5,965.7 597.1,965.4 598,966.6 596.5,967.1Z"/><path d="M584.2,974.3 585.6,974 586.3,975 585.1,975.4Z"/><path d="M598.5,974.3 599.7,974.1 600.3,975 599.2,975.3Z"/><path d="M596.8,957.8 597.9,957.5 598.5,958.4 597.5,958.7Z"/><path d="M591.5,958.8 592.6,958.6 593.2,959.4 592.2,959.8Z"/><path d="M582.5,954.9 583.8,954.5 584.6,955.6 583.3,956Z"/><path d="M627.8,967.4 629.9,966.9 631,968.5 629.1,969.1Z"/><path d="M625,963.8 626.1,963.5 626.8,964.4 625.7,964.7Z"/><path d="M607.3,969.3 609,968.9 609.8,970.1 608.3,970.6Z"/><path d="M599.6,970.8 600.7,970.6 601.3,971.4 600.3,971.8Z"/><path d="M580.7,929.3 582.1,929 582.8,930 581.5,930.4Z"/><path d="M620.8,950.6 621.7,950.4 622.2,951.1 621.3,951.4Z"/><path d="M611.1,967.4 612,967.1 612.5,967.9 611.6,968.1Z"/><path d="M587.2,967.3 588.4,967 589,967.9 587.9,968.3Z"/><path d="M590.8,962.9 591.7,962.7 592.2,963.4 591.3,963.7Z"/><path d="M574,920.6 574.9,920.4 575.4,921.1 574.6,921.4Z"/><path d="M569.6,925 570.5,924.8 571,925.5 570.1,925.8Z"/><path d="M634.2,969.1 635.3,968.8 635.9,969.7 634.9,970Z"/><path d="M623.4,958.5 624.3,958.3 624.8,959 624,959.3Z"/><path d="M594.8,972.7 595.7,972.4 596.2,973.1 595.4,973.4Z"/><path d="M604.9,975.3 605.8,975.1 606.3,975.8 605.4,976.1Z"/></g>
<g filter="url(#s42)"><path d="M612.5,866.2 620,861.2 630,860 640,870 650,875 662.5,882.5 650,883.8 640,880 630,882.5 620,886.2 610,891.2 602.9,886.5 606.5,884.7 607.3,879.4 610.9,875 610,870.6Z"/><path d="M608.8,892.5 620,887.5 630,884.5 625,888.8 615,893.8 610,896.2Z"/><path d="M662.5,882.5 680,873.8 690,863.3 706.7,855 723.3,850 736.7,846.7 746.7,851.7 755,850.7 763.3,856.7 780,856.7 796.7,853.3 813.3,846.7 826.7,840 837.1,832.9 846.9,832 852.7,828 858.6,832 866.5,833.9 871.4,838.8 872.4,846.7 878.2,850.6 886.1,853.5 892,855.5 889.6,857.5 886.1,866.3 892,878 896.7,893.3 906.7,905 900,910 886.7,908.3 873.3,913.3 856.7,921.7 840,933.3 826.7,938.3 813.3,940 796.7,945 783.3,948.3 780,960 776.7,966.7 771.7,953.3 773.3,946.7 763.3,951.7 750,963.3 736.7,968.3 725,971.2 715,963.8 705,960 695,961.2 685,963.8 682.5,972.5 672.5,976.2 665,975 660,965 650,962.5 640,957.5 632.5,955 630,945 623.8,937.5 618.8,932.5 620,922.5 615,915 610,910 608.8,902.5 612.5,896.2 625,895 640,895 652.5,890 660,886.2Z"/></g>
<g filter="url(#s43)"><path d="M718.3,995 722.8,991.6 728.3,988.3 733.7,986.5 740,985 746.4,980.5 751.7,976.7 748.9,982.1 745,988.3 741.3,993.5 738.3,996.7 733.3,1000 730,1001.7 727,1001.5 721.7,1000 720,997.7Z"/></g>
<g filter="url(#s44)"><path d="M601.7,576.7 623.3,580 636.7,586.7 643.3,603.3 655,611.7 665,620 660,628.3 651.7,635 656.7,646.7 646.7,653.3 643.3,666.7 623.3,665 606.7,668.3 593.3,665 573.3,663.3 556.7,666.7 548.3,656.7 555,640 550,623.3 566.7,620 575,615 585,596.7 590,586.7Z"/></g>
<g filter="url(#s45)"><path d="M556.7,666.7 573.3,663.3 593.3,665 606.7,668.3 623.3,665 643.3,666.7 646.7,653.3 656.7,646.7 673.3,641.7 686.7,646.7 693.3,656.7 713.3,673.3 733.3,671.7 753.3,675 773.3,678.3 778.3,686.7 775,696.7 778.3,710 766.7,716.7 760,730 743.3,740 726.7,753.3 720,760 721.7,766.7 740,771.7 745,776.7 733.3,781.7 721.7,785 713.3,796.7 705,793.3 700,783.3 690,778.3 696.7,770 703.3,766.7 686.7,766.7 673.3,760 663.3,761.7 655,773.3 646.7,783.3 640,788.3 630,790 625,780 623.3,766.7 618.3,753.3 606.7,740 596.7,735 586.7,740 573.3,743.3 560,740 546.7,736.7 540,733.3 540,726.7 543.3,713.3 553.3,700 558.3,690 553.3,676.7Z"/></g>
<g filter="url(#s46)"><path d="M805.7,798.6 819.4,797.6 833.1,796.7 846.9,795.7 856.7,798.6 864.5,801.6 870.4,797.6 878.2,795.7 890,796.7 893.9,802.5 903.7,805.5 911.6,807.5 923.3,809.4 931.2,807.5 937.1,797.6 944.9,803.5 952.7,809.4 962.5,814.3 971.4,816.3 964.5,820.2 961.6,827.1 963.5,838.8 961.6,848.6 962.5,861.4 956.7,860.4 950.8,855.5 948.8,848.6 944.9,844.7 939,846.7 933.1,852.5 927.3,858.4 923.3,864.3 915.5,866.3 907.6,864.3 899.8,858.4 892,855.5 886.1,853.5 878.2,850.6 872.4,846.7 871.4,838.8 866.5,833.9 858.6,832 852.7,828 846.9,832 837.1,832.9 835.1,825.1 829.2,815.3 819.4,807.5 809.6,802.5Z"/></g>
</g>
<g filter="url(#sh)" class="fills">
<path fill="#d7d2e6" stroke="#d7d2e6" d="M51.2,316.2 54.1,314.7 57.4,313 59.5,312.2 62.5,310 64.3,310.8 67.9,310.8 71.3,310.5 75,310 77.4,313.8 78.5,316.4 79.4,318 81.2,320 81,322 80.8,323.7 82,325.4 82.5,328.8 83.9,329.5 85.1,329.8 86.2,329.8 87.5,330 89.2,328.5 91.5,326.5 93.3,325.6 93.8,324.5 94.7,325.7 96.2,327.8 97.8,329.7 98.8,331.2 100.7,331.1 103.6,331.6 105.6,330.3 107.5,330 109,330.9 111.1,331.8 113.3,333.8 115,335 117.3,335.4 118.7,334.6 122.4,334 125,333.8 128.5,334.5 130.7,334.1 133,334.3 135,333.8 137.8,336 139.6,337.4 141.1,339 142.5,340 143.5,342 144.2,345.6 146.2,347.7 147.5,350 148.3,351.7 149.6,354.1 152.6,357.6 153.8,360 153.3,362.7 152.2,363.9 150.9,364.2 150,365 147.5,365.8 146.1,367.5 142.5,369.7 140,370 134.5,370.4 131.2,370.5 128.6,370.9 125,372.5 122.7,373.5 118.3,373.6 113.5,372.9 110,373 107.6,373.9 103.6,374.3 98.5,374.6 95,374.5 91.6,373.5 89.4,373.3 87.2,370.9 85,370 83.5,368.3 80,366.2 76.5,363.6 75,361.2 74,360 72.5,358.8 70.9,356.8 70,353.8 65.6,353.4 61.3,352.6 59.2,351.6 56.2,350 57.5,348.9 59.8,348.5 60.5,347.3 62.5,346.2 62.9,345.3 63.9,344 65.9,343.6 67.5,342.5 66.6,340.8 66,339.3 65.7,337.7 66.2,335 62.8,335.1 58.9,333.9 55,332.4 50,330 52.9,329 55,328.8 58.6,328.2 62.5,328.8 64.6,329.1 67.3,329.8 69.5,330.2 72.5,330 71.1,329 70.2,326.6 69.5,324.4 67.5,322.5 62.2,321.5 59.5,320.2 55.9,319.1 53.8,318.8 52.5,318.2 51.5,317.1Z"/>
<path fill="#b51029" stroke="#b51029" d="M223.8,292 230,290 234.5,291 230,292.5Z"/>
<path fill="#b51029" stroke="#b51029" d="M353.7,539.6 352,540.8 351.3,540.3 349.9,539.4 348.6,538.9 346.8,538 345.2,537.8 345.1,536.5 343.6,536.7 342.5,535.6 342.8,534.1 342.2,532.8 340.9,531.8 340,531.7 339.2,531.1 338.3,530.1 336.8,529.1 335.7,528.6 335.7,527 334.7,526.4 333.5,525.5 333.3,523.9 331.7,523.2 331.4,521.6 330.9,519.7 331.9,519 333.4,519.3 334.3,517.8 334.1,516.1 332.8,515.8 331.8,515.7 331.7,514 330.2,513.1 330.4,511.7 330.1,510.4 331.1,509.2 331.8,508.2 331.2,506.5 330.4,505.6 329.7,504.7 329.9,502.7 330.1,501.5 332.2,501.2 333.3,500.4 333.7,499.1 332.3,498.1 332.4,496.6 332.3,495.7 333.4,495.5 333.7,494 332.5,492.5 331.5,491.6 331.9,490.3 331.2,488.5 333,487.5 333.1,485.9 334.9,484.7 334.5,483.3 334.8,482.4 336.2,481.1 335.7,479.3 334.7,478.6 334.2,477.2 335,476.2 333.3,475.3 333.7,473.5 334.9,471.8 334.8,470.7 334,469.2 335.6,468.6 335.7,467.5 336.5,466.2 337.5,466.2 338.8,467 339.8,468.2 340.7,466.6 339.7,465.6 340.3,463.8 342,462.7 343.9,462.1 345.3,462.4 347.1,462.7 346.7,461.3 347.5,459.7 349.1,459.5 350.1,458.5 351.4,458 351.3,456.9 351,455.7 351.5,454.3 353.2,454.2 355,453.3 356.6,452 358.7,452.1 359.2,453.3 360.7,453 361.1,452.1 361.5,450.5 363.3,449.5 364.8,448.2 366.3,447.6 367.1,448.6 367.9,446.7 368.4,445.5 370.1,444.4 372.1,444.8 373.3,445.3 374.9,443.9 376.9,443.3 378.9,442.9 379.8,442.1 379.5,440.6 381.4,439.6 382.7,440 383.7,439.7 385.1,440 386.9,440.8 388.2,440 389,439.2 387.7,438.7 387.2,436.7 388.2,436.2 388.8,435.1 390.8,434.6 392.4,433.2 393.7,433.7 395.3,433.2 397.1,432.7 398.1,432 398.9,430 400.4,429.6 401.6,428.2 402.7,426.8 404,427.1 404,426.1 404.1,424.8 405.5,423.4 406.9,423.6 407.8,423.5 407.6,422.4 408.4,421 410.4,420.6 411.4,419.9 412.6,418.8 414.1,417.3 414.3,416.1 415.9,415.8 417,414.7 419,415.1 419.6,413.9 420.9,412.8 420.4,411 421.6,410.4 422.3,408.8 422,408 421.5,406.7 422.4,406.3 424.1,406.5 425.1,404.7 425,403.8 426,402.6 427.2,402.7 428.1,401.9 428.5,401 429.8,400 429.4,398.5 430.2,397.2 431.6,397.7 432.3,396.7 433.4,396.3 434.1,394.5 433.5,392.6 434.4,391 435,390 436.5,390.5 437.9,391.4 439.9,390.5 440.7,389.6 442,389 443,387.1 444.1,386.7 444.8,385.8 445.3,384 445,382.5 446.6,381.6 447.9,381.5 448.7,380.8 448.6,378.8 449.5,377.1 450.4,376.4 450.4,374.6 451.7,374 452.8,373 453.6,372.8 455,372.5 454.1,371 454.9,369.9 456.7,368.9 457.2,367.2 458.6,366.4 460.7,366.2 462.5,365 463.6,363.3 465.3,362 465,359.9 465.1,358.7 466.1,357.9 467.1,357.5 468.5,357.1 470,357.4 471.7,357.6 472.5,356.2 472.6,355 473.4,353.9 474.6,353.1 476,352.6 477.7,352.8 478.3,350.9 480.4,350.3 480.2,348.9 480,347.5 482,347.1 483.9,347.8 485.2,346.3 486.7,346.1 487.7,346.3 487.8,344.6 488.7,343.7 489.9,343.2 491.2,341.7 492.2,340.3 493.8,340.6 495,340 496.2,339.8 497.2,338.7 498.8,338.1 500.6,337.8 502.7,337.7 504.7,337.2 506,337.7 507.2,337.2 509.2,336.4 510.2,335.3 511.5,334.3 512.5,332.5 514.2,331.6 514.9,331.1 516.4,330.9 517.5,331.7 518.8,330.5 520.4,330.7 521.6,330 522.2,328.4 523.1,327.8 525,327.5 526.8,327.6 527.8,326.4 529.4,327.1 530.1,327.8 531.9,328 533.1,326.9 534.7,327.2 534.9,325.9 535,325 536.3,324.4 538.1,324.3 539.7,322.9 541.8,323.4 543.2,323.5 544,323.9 545.3,324.5 547.2,324.6 547.9,323.4 549.2,322.7 550,322.5 551.4,321.1 552.7,321.4 553.6,320.9 555,320.3 555.7,319.8 557.3,320.4 558.7,320.6 559.9,320.5 560.1,321.8 561.1,322.5 562.5,323.8 564.2,324.2 565.2,324.7 567.2,325 568.4,324.9 569.5,324.4 570.8,323 572.2,322.5 573.5,322 575,321.2 576.3,322.1 577.6,322.8 578.9,322.9 579.6,323.9 581.2,324.4 583,324 583.8,324.3 584.9,325.3 585.8,325.7 587.1,325.1 588.4,324.5 590,323.8 591.8,324.1 592.7,323.6 594.1,324.3 595.8,325.2 597.2,325.4 598.4,325.6 598.9,326.9 600,327.5 600.7,328.2 602.3,328.7 603.5,329.5 603.6,331.3 603,332.8 603.3,334.9 602.5,335.2 601.2,336.2 601.3,337.6 599.8,338.3 598.4,338.8 597.6,339.7 595.6,339.3 594.1,339.7 592.9,339.6 591.5,339.8 590,340 590.1,341.7 589.6,342.9 590,344.5 589.1,345.4 589.6,347.1 587.6,347.3 587.3,348.6 586.7,350.1 585,350 587.5,345 580,340 570,336.2 556.2,342.5 550,352.5 540,357.5 530,360 517.5,360 506.2,353 500,361.2 480,365 465,375 455,392.5 445.5,400 442.4,406.3 440.8,414.1 437.6,420.4 432.9,426.7 436.9,429.8 436.1,435.3 429.8,436.9 422,439.2 415.7,445.5 413.3,451.8 414.1,461.2 414.9,469 414.1,476.9 417.3,481.6 420.4,485.5 414.9,491 414.1,498.8 415.7,506.7 411,509.8 407.1,516.1 405.5,523.9 401.6,527.8 398.4,523.9 397,523.3 395.9,522.9 395.6,522 394.5,520.8 394.9,518.6 394.5,516.6 394.5,515.2 395.3,512.9 394.7,511.5 394.2,510.2 392.9,509.8 392.1,511.5 392.1,512.7 390.6,512.5 389.8,512.9 390.2,514.9 390.2,516.3 389.5,519.2 389,520.8 387.4,520.5 385.1,521.5 384.6,523.2 382.7,524.7 380.5,524.4 378.4,525.7 376.7,526.8 374.9,528.6 373.6,529.3 372.2,530.1 370.5,532 368.6,533.3 365.4,534.7 363.6,535.8 361.7,536.9 360.8,538Z"/>
<path fill="#b51029" stroke="#b51029" d="M427.5,372.5 429.3,372.2 430,371.2 431.5,369.8 433.5,368.6 434.5,366.8 435.1,365.5 436.4,364.7 437.5,365 439.3,364.4 440.2,363.5 442.8,362.6 444.4,363 445.4,362 447.1,362 447.5,360 450.1,358.6 451.6,357.6 453.2,357 454.3,357 455.1,356.3 456.1,355.3 457.5,353.8 458.2,352.5 459.7,350.9 461.7,350 463.2,349.6 465.4,350.5 467.5,350 468.9,350.8 469.8,350.8 470.6,350 472.5,349.7 473.2,348.1 474.6,347.6 475,346.2 476.5,346.4 477.1,347.2 477.6,348.4 479.1,347.9 480.1,347.4 481.2,347.4 482.5,347.5 482.6,349.3 481.7,350.1 480.7,351 479.4,350.8 478.4,351.3 477.7,352.9 475.8,354 475,355 473.3,355.1 472.1,355.5 471.3,356.8 469.7,357.4 468.7,358.8 467.6,359.1 466.4,359.8 465,360 463.4,360.8 461.7,361.8 461.4,363.1 460.7,361.9 459.2,361.7 456.8,362.2 455,362.5 453.4,363.4 451.2,364.4 450.5,365.3 449.2,366.5 447.9,367.7 447,368.2 445,367.5 443.6,367.4 442.7,368.3 441.7,368.3 440.5,368.4 440.4,369.7 439.2,370.8 436.5,371.5 435,372.5 433.7,372.6 432.8,372.4 432.1,371.2 430.5,371.7 429.6,372.7Z"/>
<path fill="#b51029" stroke="#b51029" d="M470,347.5 471,347.4 472,346.1 472.6,344.9 473.4,343.9 474.1,342.8 475.4,342.7 476.6,342 477.5,340 478.3,339.3 479.3,338.1 481.7,337.1 483.1,336.3 484.1,335.9 485.9,336.3 487.5,336.2 488.8,335.4 490.2,335.6 492.1,334.9 493.3,334.9 494.6,336.2 496.2,337.5 495,338.9 493.6,338.8 492.7,338.7 491.9,340 490.8,341.4 490.3,342.3 490,343.8 489.1,344.2 488,344.9 485.8,345.7 484.6,346.3 484.1,347.5 482.9,347.8 481.7,348.1 480,348.8 478.3,349.8 477.2,350 475.1,350 473.9,349.1 471.7,349.1 470.8,347.9Z"/>
<path fill="#b51029" stroke="#b51029" d="M500,336.2 501.3,334.5 503.8,333.5 505.6,331.6 507.5,331.2 508.9,331.8 511.4,331.9 514.1,331.4 515,330 514.1,331.7 513.7,333.3 513.8,334.5 512.5,336.2 511.3,337.2 509.2,339 507.5,339.9 505,340 503.2,339.3 502.3,337.5 500.9,336.8Z"/>
<path fill="#b51029" stroke="#b51029" d="M418.3,221.2 419.3,221.2 420.5,220.6 421.9,220.8 423.3,221.2 424.4,220.5 425.4,218.8 427.5,219.3 428.1,218.4 429.9,218.1 430.9,218.8 432.4,220.2 434,220.9 436.4,221.2 437.8,221.3 439.4,222.5 440.4,222 441.9,221.9 443.9,221.1 445.8,220.4 446.9,221.6 448.3,222.3 450,222.4 451,223 452.1,223.5 453.2,222.7 454.3,222.4 455.6,221.7 456.8,221.1 458.3,219.6 459.8,219.7 460.5,220.2 462.1,219.6 463.4,220.4 464.5,220.1 466.1,219.4 467.7,218.8 468.9,219.8 469.8,220.1 471.5,220.4 473.1,221.7 474.4,222.1 475.6,222.7 477.1,222.5 479.4,223 480.3,223.8 481.6,224 483.2,223 485,223.5 486,225.3 487.5,226.1 488.4,226.6 489.6,226.5 491.1,226.1 492.8,226.7 494.2,227.4 495.9,227 497.3,226.8 498.3,227.5 499.8,227 501.7,227.3 503.6,228.6 505.4,229 504.8,230.3 503.4,230.9 502.3,231.3 501.2,231.5 498.4,232.2 495.8,232.3 494.4,232.4 492.8,231.4 491.5,232.5 489.7,233.7 489.6,235.5 488.1,236 486.6,236.9 485.9,238.2 484.1,238 482.9,237.9 481.9,239.2 480.7,240.9 478.9,241.9 477.2,241.6 476.9,242.5 475.8,243.6 474,243.5 473.2,244.8 472.5,245.5 471.7,247.5 470.6,248.5 469.4,248.5 468.3,249.3 467.7,250.2 466.2,250.4 464.6,251.8 462.7,250.9 461.8,249.9 461.5,248.7 459.9,249.6 458.3,248.6 457.1,247.9 455.9,246.9 454.9,246.4 453.7,246.4 451.9,245.5 450.5,246.3 449.6,245.8 449,244.4 447.1,244 445.9,244 444.2,243.9 446,243.5 447.1,242.4 448.1,242.4 449.3,241.6 450.5,242.4 449.7,240.8 448.2,239.9 447.3,239.6 446.3,239.2 444.4,239.2 442.5,239 441.1,239.2 442.3,239 444.2,238.7 445.6,238.5 445.8,236.9 447.2,237 448.5,236.6 449.9,236.1 451.4,235.9 452.7,235.6 454.1,234.6 455.4,235 456.8,235.3 455.3,235.2 454.8,233.8 453.8,233.4 452.1,232.2 450.4,232.4 449.5,233.3 447.8,233.2 445.5,232.6 444.5,233 443.2,233.6 442,233.3 441.1,232.9 439.5,232.1 437.9,232.3 436.1,232 435.8,231.1 434.6,230.3 433.2,230.6 431.9,230 431.3,229.4 430.4,228.7 430,227.4 429.1,227.9 427.5,227.5 426.3,226.6 425.4,226.7 423.9,225.5 422.6,225 420.7,224.3 420.1,222.3Z"/>
<path fill="#b51029" stroke="#b51029" d="M481.9,218.8 482.9,218.5 484.6,218.2 485.9,216.9 487.8,216.5 488.9,216.4 490.3,216 492.8,215.7 494.7,216.5 496.6,216 498.1,216.2 499.9,217.4 501,217.6 502.3,217.3 503.3,216.9 505.1,216.6 506.6,216.6 508.1,215.7 509.3,215.6 511.3,216.2 512.7,215.9 514.8,216.5 515.8,215.8 517.3,216 517.9,214.1 518.5,215 520.3,215.5 522.4,214.9 524.2,215.7 525.3,215.7 527,215.3 528.4,215 529.7,215.5 531.8,215.1 532.9,215.2 534.9,214.7 536.8,214.9 538,215.3 539.4,215.2 541.2,214.8 542.7,213.7 544.6,213.5 546.7,213.7 549.5,213.5 552.5,214.1 550.8,215.3 549.8,216.6 549,217.2 547.5,217.9 546.2,218 544.1,218.6 542.1,218.6 540.9,218.8 539.9,220.4 538.2,221 537.1,220.3 535.9,220.2 534.7,220.8 532.9,220.8 532,221.5 530.5,222 529.3,222.8 528.4,223 527.4,223.4 525.5,223.3 523.4,223.9 522.3,223.3 521.1,223.5 519.8,222.9 518.2,223 517.5,221.9 516.5,221.5 514.5,220.7 513.2,221.2 512,220.5 511,220.3 509.6,220.4 508.7,220.9 507.3,221.8 505.2,222.2 503.8,222 501.8,220.8 500.4,220.6 499,220.8 497.8,220.8 496.1,220.5 494.6,220.7 492.8,220.4 491,220.2 489.7,220.4 487.8,220.7 486.4,220.3 485,220.4 483.8,219.9Z"/>
<path fill="#b51029" stroke="#b51029" d="M499.1,233.7 500.8,233.7 501.8,234.1 502.6,234.1 504,233.6 505.6,233.4 507,232.2 507.8,232.5 509.2,232.4 510.4,233.5 511.7,234.2 512.3,234.8 513.4,235.1 514.8,235.3 515.8,234.9 517,234.6 519.2,234.7 520.3,235.2 521.9,236.4 523.2,236.6 524.2,237.6 525.2,238.1 526.4,238.2 528.3,237.5 530,237.1 531.3,237.6 530.3,238 529.5,239.2 528.3,239.8 526.8,239.7 525.8,240.8 524.1,241 523.2,241.7 521.3,242.8 520,242.5 519.1,242.5 517.9,243.1 516.6,243.3 515.7,243.3 514.7,242.5 513.5,242.1 511.3,242.1 509.7,242.3 508.5,242.4 507.6,241.9 505.9,241.4 503.8,240.8 504.8,239.9 504.8,238.5 505.8,237.5 507,237.6 505.6,236.8 504.9,236.3 504,235.2 502.1,234.6 500.9,234Z"/>
<path fill="#b51029" stroke="#b51029" d="M414.4,227 420.7,230.6 425.4,233.3 419.9,231.4Z"/>
<path fill="#d6352c" stroke="#d6352c" d="M401.6,527.8 405.5,523.9 407.1,516.1 411,509.8 415.7,506.7 414.1,498.8 414.9,491 420.4,485.5 417.3,481.6 414.1,476.9 414.9,469 414.1,461.2 413.3,451.8 415.7,445.5 422,439.2 429.8,436.9 436.1,435.3 436.9,429.8 432.9,426.7 437.6,420.4 440.8,414.1 442.4,406.3 445.5,400 455,392.5 465,375 480,365 500,361.2 507.5,351.2 520,362.5 531.2,370 533.8,380 537.5,392.5 540,402.5 547.5,406.2 535,403.8 522.5,407.5 513.8,417.5 511.2,425 505,437.5 495,447.5 482.5,455 475,457.5 472.5,467.5 468.8,480 470,490 473.8,498.8 482.5,505 486.2,512.5 477.5,523.8 467.5,530 460,537.5 473.3,528.3 465,533.3 460,538.3 461.7,548.3 460.8,558.3 459.2,568.3 455,577.5 448.3,582.5 438.3,584.2 433.3,588.3 430,593.3 423.3,595.8 418.3,593.3 416.7,585 415.8,575 411.7,565 406.7,553.3 403.3,541.7 407.8,560 406.3,549 404.7,541.2 400.8,533.3Z"/>
<path fill="#d6352c" stroke="#d6352c" d="M480,560 483.8,552.5 491.2,548.8 488,557.5 483,565Z"/>
<path fill="#d6352c" stroke="#d6352c" d="M459.2,578.3 461.7,570 466.3,560.8 464.7,570 460.8,579.2Z"/>
<path fill="#d6352c" stroke="#d6352c" d="M547.5,406.2 540,402.5 537.5,392.5 533.8,380 531.2,370 520,362.5 506.2,353 517.5,360 530,360 540,357.5 550,352.5 556.2,342.5 570,336.2 580,340 587.5,345 585,350 590,362.5 596.2,370 591.2,380 597.5,392.5 601.2,400 600,410 606.2,420 610,430 617.5,440 623.8,447.5 623.8,448.8 615,460 605,472.5 592.5,488.8 585,493.8 570,496.2 555,502.5 540,507.5 532.5,502.5 522.5,495 516.2,487.5 517.5,479.8 513.8,470 515,460 525,450 535,440 545,430 553.8,420 555,412.5Z"/>
<path fill="#d6352c" stroke="#d6352c" d="M497.5,505.5 501.2,503.8 503,507 499.5,508.5Z"/>
<path fill="#b51029" stroke="#b51029" d="M543.8,525 550,518.8 565,515 580,513.8 593.8,515 591.2,525 590,535 592.5,547.5 586.2,550 575,546.2 565,542.5 555,546.2 552.5,538.8 547.5,537.5 545,531.2Z"/>
<path fill="#b51029" stroke="#b51029" d="M527,528.5 530,526 534,525.5 536.8,528.5 534.5,531.5 530.5,532Z"/>
<path fill="#b51029" stroke="#b51029" d="M523.5,538.5 527.5,536 532.5,534.5 539,533.5 541.5,536 538,539.5 532.5,541 528,545 525.5,543 526.5,540Z"/>
<path fill="#b51029" stroke="#b51029" d="M516.2,582.5 516.2,575 520,560 530,553.8 538.8,556.2 543.8,563.8 552.5,560 555,546.2 565,542.5 575,546.2 586.2,550 592.5,547.5 595,560 601.2,570 600,580 590,585 583.8,587.5 575,582.5 562.5,576.2 550,578.8 537.5,576.2 525,577.5 516.2,582.5Z"/>
<path fill="#b51029" stroke="#b51029" d="M516.2,582.5 525,577.5 537.5,576.2 550,578.8 562.5,576.2 575,582.5 583.8,587.5 585,590 583.8,597.5 575,605 572.5,615 565,617.5 560,622.5 550,623.8 547.5,618.8 543.8,612.5 537.5,606.2 530,602.5 520,600 517.5,595Z"/>
<path fill="#f58950" stroke="#f58950" d="M430,627.5 440,622.5 455,617.5 470,612.5 482.5,611.2 486.2,616.2 500,617.5 520,617 540,617 546.2,620 550,628.8 553.8,640 548.8,652.5 553,662.5 554.5,672.5 557.2,681.2 560,692.2 551.8,703 544.5,712.5 542.5,720 530,716.2 517.5,718.8 505,720 497.5,715 488.8,713.8 480,706.2 470,700 462.5,698.8 457.5,693.8 447.5,690 440,685 437.5,682.5 436.2,672.5 435,660 430,647.5 432.5,637.5Z"/>
<path fill="#ea5f3c" stroke="#ea5f3c" d="M362.5,601.7 368.3,603.3 373.3,603.3 377.5,608.3 381.7,613.3 388.3,620 394.2,622.5 398.3,620 406.7,617.5 415,615.8 420,618.3 424.2,621.7 428.3,626.7 432.5,637.5 430,647.5 435,660 436.2,672.5 437.5,682.5 431.2,686.2 422.5,690 410,695 401.2,698.8 403.8,707.5 410,717.5 417.5,725 420,732.5 410,745 408.8,752.5 400,750 387.5,751.2 377.5,752.5 370,753.8 360,750 347.5,746.2 333.8,746.2 335,740 337.5,730 343.8,720 335,716.2 325,712.5 323.8,705 318.8,695 321.2,685 317.5,677.5 321.2,670 322.5,660 332.5,652.5 337.5,642.5 340,632.5 339.2,627.5 345,625.8 351.7,625 355,628.3 358.3,623.3 363.3,621.7 366.7,620 364.2,613.3 365,606.7Z"/>
<path fill="#ea5f3c" stroke="#ea5f3c" d="M418,613.3 421.7,612 423,615.3 419.7,616.3Z"/>
<path fill="#b51029" stroke="#b51029" d="M362.5,601.7 362.2,599.5 361.2,597.3 360.9,595.4 360,593.3 360,591.6 359,589 358.2,587.4 357.5,586.7 358.3,584.9 359.3,583 359.2,580.9 360,578.3 360.1,576.5 360.8,574.3 360,572.5 360,570 360.3,568.5 361.3,567.3 362.4,565.6 364.2,563.3 365.6,563.5 367.2,562.7 370,562.1 371.7,561.7 374,560.8 375.1,560 377.1,559.6 378.3,559.2 379.9,557.1 381.6,556.1 382.2,554.8 383.3,553.3 384.8,551.7 386.9,551.4 388.3,550.8 388.6,552.2 388.7,553.8 388.7,555.7 388.3,556.7 387.3,558.2 386.3,560.4 386.1,561.5 385.8,563.3 385.6,565.1 385,566.8 385,568.9 385.8,570 387.2,571 388.3,571.7 390.3,572.4 391.7,573.3 390.6,575.2 389.3,575.8 388.3,577.5 386.5,577.3 385.6,577.9 384.3,578.3 383.3,578.3 382.5,579.4 382.4,581.4 382.1,583.3 381.7,585 380.7,585.8 380,587.2 378.4,588.6 377.5,590 376.2,591.7 375.7,593.3 375,595 375,596.7 374.3,598.5 373.6,600.5 373.5,601.9 373.3,603.3 371.4,603.7 369.9,603.5 368.3,603.3 366.5,603.4 364.6,602.7 363.9,601.9Z"/>
<path fill="#b51029" stroke="#b51029" d="M378.3,591.7 385,590.8 389.2,595.8 386.7,600 380.8,599.2Z"/>
<path fill="#b51029" stroke="#b51029" d="M394.2,588.3 395.8,587.8 397.6,586.9 398.8,585.9 400,585.8 401.4,584.7 403.7,584.1 404.4,583.3 405.8,582.5 407,582.3 409.1,582.7 410.8,583.3 410.6,584.8 411.2,587.2 411.7,588.2 411.7,590 409.7,591.2 408.3,592.9 407,594.1 406.7,595 406.5,596.3 406.3,597.8 405.8,599.1 405,600.8 403.4,600.2 402.4,600 401,600 400,600 399.3,598.3 398.4,597.4 397.2,596.1 395.8,595 395.5,593.8 395.9,592.5 395.4,590.4Z"/>
<path fill="#b51029" stroke="#b51029" d="M392.5,605 398.3,606.7 405,605.8 401.7,609.2 395,608.3Z"/>
<path fill="#b51029" stroke="#b51029" d="M437.5,600 442.5,601.7 441.7,604.2 438.3,603.3Z"/>
<path fill="#b51029" stroke="#b51029" d="M310,631.2 320,628.8 331.2,627.5 340,626.2 337.5,640 333.8,650 325,655 322.5,665 320,672.5 315,666.2 307.5,662.5 297.5,663.8 287.5,663.8 292.5,658.8 298.8,652.5 302.5,642.5Z"/>
<path fill="#b51029" stroke="#b51029" d="M276.2,667.5 287.5,663.8 297.5,663.8 307.5,662.5 315,666.2 320,672.5 318.8,680 322.5,687.5 316.2,693.8 312.5,700 305,695 300,688.8 292.5,690 285,680 280,675Z"/>
<path fill="#d6352c" stroke="#d6352c" d="M316.2,693.8 321.2,692.5 322.5,700 317.5,705 313.8,701.2Z"/>
<path fill="#d6352c" stroke="#d6352c" d="M131.2,570 140,568.8 150,573.8 156.2,571.2 148.8,566.2 156.2,560 171.2,560 165,566.2 160,570 156.2,573.8 160,578.8 167.5,581.2 172.5,587.5 173.8,597.5 172.5,607.5 167.5,616.2 162.5,620 152.5,618.8 140,622.5 127.5,623.8 115,616.2 113.8,608.8 125,605 136.2,603.8 127.5,597.5 136.2,591.2 127.5,583.8 131.2,576.2Z"/>
<path fill="#d7d2e6" stroke="#d7d2e6" d="M156.2,573.8 160,570 165,566.2 171.2,563.8 180,563.8 186.2,572.5 183.8,582.5 176.2,585 172.5,587.5 167.5,581.2 160,578.8Z"/>
<path fill="#d7d2e6" stroke="#d7d2e6" d="M207.5,506.2 209.4,504.7 211.2,504.5 215.2,505.2 217.5,505 221.8,506.6 225.9,507.5 230.1,508.6 232.5,510 232.7,511.7 231.9,513.3 230.9,515.6 228.8,517.5 226.7,519.7 224.1,521.7 221.9,522.5 220,523.8 224.5,524.6 227.5,525.8 230.3,527.9 232.5,528.8 234.7,528.9 236.3,530.1 238.9,531.1 242.5,531.2 242.1,533.8 241.2,535.4 240.8,537.6 240,540 237.5,542 235.3,545 234.4,546.4 232.5,547.5 231.5,549.1 230.4,550.2 227.3,551.7 225,552.5 223.8,553.2 222.1,552.7 220.9,553.7 220,555 223,555.9 224.8,556.5 227.1,557.7 230,560 232.9,561.7 235,564.5 236.5,565.8 237.5,567.5 238.6,569.1 238.8,572.6 239,576.9 238.8,580 240.1,583.2 240.5,585.2 241.3,587.5 242.5,590 243.7,593 246.1,596.7 248.4,598.8 250,600 250.6,601.6 251.4,603.5 252.5,606.2 252.5,608.8 251.8,610.8 250.1,612.5 250,614.1 250,615 251.8,617.4 253.9,619.4 253.9,621.5 255,623.8 257.9,625.3 260.1,626.7 262.1,627.1 265,627.5 266.8,629.9 267.9,631.6 268.8,633.4 268.8,635 268,637.8 266.7,638.9 265.7,641.6 265,645 262.6,645.8 261.6,647.3 260.3,649.4 257.5,651.2 259.5,651.7 260.5,652 261.7,652.8 262.5,655 262,656.5 260.5,658.8 259.1,660.8 257.5,662.5 254.5,663.3 249.9,664.4 247.2,666.1 245,666.2 241.1,665.3 237.1,664.2 234.5,664.7 232.5,665 228.3,663.3 225.3,663 222.9,663 220,663.8 218,664 214.9,663.2 212.3,662 207.5,661.2 204.3,661.3 202.3,661.5 200.1,662.2 197.5,662.5 195.6,663.2 194.5,663.5 191.7,664.9 190,666.2 186.4,666.9 183.6,666.2 181.9,665.7 180,665 176.8,664.4 174.4,664.7 171.8,664.3 170,665 171.8,663.3 172.8,660.7 175.6,658.9 177.5,657.5 179.9,656.2 183.6,654.3 186.1,651.8 187.5,650 189.6,650.6 192.9,650.2 195.8,648.9 200,647.5 203.6,645.3 205.8,644.4 207.6,643.5 210,642.5 207.1,642.2 204.1,641.2 202.3,640.4 200,640 198,639.8 195.7,638.4 191.3,637.4 188.8,636.2 185.2,635.9 182.7,634.8 180.8,633.9 180,632.5 180.5,630.8 181.3,629.8 182.6,628.9 185,627.5 187.9,625.1 190.4,624.3 192.7,623.5 195,622.5 194.6,619.6 194.7,617.3 193.9,615.5 192.5,612.5 193.9,610.6 195.4,608.1 196.9,606.8 197.5,605 199.3,605.6 202.3,605.6 205,606.9 207.5,607.5 210.3,606.9 211.7,605.8 213.5,604.8 215,603.8 214.4,602.3 212.9,600.8 212.7,597.4 212.5,595 211.4,592.2 210.2,589.6 210.6,586.6 210,585 210.5,583.4 212.1,581.2 212.4,580.3 212.5,578.8 210.8,577.3 208.4,577 204.9,576.5 202.5,576.2 201.5,574.3 198.9,572.4 197.8,572 196.2,571.2 196.5,569.9 197.2,568 199,565.7 200,562.5 198.4,561.4 197.6,560.6 196.8,558.9 195,557.5 194,558.4 193.1,559.2 191.5,560 188.8,560 188.3,557.4 186.3,554.1 186.5,551.8 186.2,550 186.1,547.5 185.7,544.5 187.2,542.1 187.5,540 185.8,537.8 185.7,536.1 185.6,533.4 185,530 184,528.5 183.5,525.7 181.7,522.7 180,521.2 180.2,519.3 181.1,516.6 181.9,514.3 183.8,512.5 184.9,511.5 187.3,510.4 188.7,508.5 190,507.5 191.8,507.3 193.5,508.4 195.1,508.1 197.5,507.5 198.8,508.8 199.5,511.8 201,513.6 201.2,515 202.8,513.7 203.3,512.1 204.5,511.5 205,510 205.9,508.5 206.6,506.9Z"/>
<path fill="#b51029" stroke="#b51029" d="M167.5,700 175,697.5 190,698.8 201.2,700 211.2,697.5 212.5,686.2 217.5,685 220,692.5 230,695 240,691.2 250,686.2 260,680 262.5,672.5 276.2,667.5 280,675 285,680 292.5,690 300,688.8 305,695 312.5,700 313.8,701.2 317.5,705 327.5,710 340,716.2 342.5,720 336.2,730 333.8,740 332.5,746.2 335,745 325,748.3 316.7,760 310,768.3 315,771.7 320,780 316.7,790 321.7,800 318.3,810 325,816.7 323.3,823.3 313.3,828.3 303.3,835 293.3,831.7 283.3,826.7 273.3,823.3 263.3,828.3 256.7,836.7 255,843.3 243.3,843.3 232.3,836 216.7,831.7 200,823.3 186.7,811.7 190,803.3 196.7,790 201.7,773.3 203.3,756.7 196.7,746.7 193.3,736.7 186.7,726.7 176.7,716.7 170,710 168.3,700Z"/>
<path fill="#b51029" stroke="#b51029" d="M337.5,855 339.1,853.9 340.6,852.7 342.1,851.1 343.8,850 344.7,848.8 346.3,847.9 348.4,845.6 350,843.8 349.9,846.6 350.3,849 351.1,851.9 351.2,855 351,857.3 350.6,859 350.1,861.2 350,865 349.2,866.9 348.5,869.4 347.6,872.2 346.2,875 344.9,874.2 343.2,873 342.1,872.3 341.2,871.2 340.4,869 338.8,865.7 338.2,864.4 337.5,862.5 337.7,861.2 337.6,859.4 337.7,857.8Z"/>
<path fill="#b51029" stroke="#b51029" d="M76.7,790 96.7,783.3 110,786.7 130,795 146.7,800 163.3,805 176.7,808.3 186.7,811.7 200,823.3 216.7,831.7 232.3,836 243.3,843.3 255,843.3 253.3,853.3 236.7,861.7 220,870 206.7,880 196.7,890 191.7,900 196.7,910 186.7,918.3 178.3,926.7 163.3,931.7 153.3,941.7 140,940 123.3,938.3 106.7,938.3 96.7,945 88.3,940 85,930 80,920 73.3,915.7 71.7,908.3 80,898.3 81.7,886.7 88.3,875 85,865 95,861.7 100,846.7 101.7,836.7 111.7,831.7 108.3,821.7 96.7,820 86.7,815 78.3,813.3 76.7,803.3Z"/>
<path fill="#b51029" stroke="#b51029" d="M78.3,813.3 86.7,815 96.7,820 108.3,821.7 111.7,831.7 101.7,836.7 100,846.7 95,861.7 85,865 88.3,875 81.7,886.7 80,898.3 71.7,908.3 73.3,915.7 60,915 46.7,910 51.7,903.3 55,893.3 51.7,883.3 50,873.3 55,866.7 63.3,853.3 68.3,840 73.3,826.7Z"/>
<path fill="#b51029" stroke="#b51029" d="M235,900 243.3,895 251.7,900 246.7,906.7 240,905Z"/>
<path fill="#b51029" stroke="#b51029" d="M259.3,895 263.3,894 266,897.3 261.7,898.3Z"/>
<path fill="#b51029" stroke="#b51029" d="M214.3,910 217.3,907.7 219.3,910 216,911.7Z"/>
<path fill="#d7d2e6" stroke="#d7d2e6" d="M230,835.3 232.7,834 234.7,836.7 231.7,838Z"/>
<path fill="#b51029" stroke="#b51029" d="M311.2,767.5 316.2,760 325,750 333.8,746.2 347.5,746.2 360,750 361.2,757.5 363.8,763.8 370,767.5 365,773.8 357.5,772.5 352.5,778.8 347.5,780 342.5,772.5 335,777.5 327.5,780 320,778.8 317.5,771.2Z"/>
<path fill="#b51029" stroke="#b51029" d="M360,750 370,753.8 377.5,752.5 387.5,751.2 400,750 408.8,752.5 410,745 420,732.5 430,732.5 435,727.5 445,726.2 455,730 465,731.2 463.8,740 465,748.8 458.8,752.5 460,760 455,768.8 445,772.5 430,776.2 417.5,775 407.5,771.2 397.5,767.5 387.5,763.8 380,762.5 372.5,767.5 363.8,763.8 361.2,757.5Z"/>
<path fill="#b51029" stroke="#b51029" d="M401.2,698.8 410,695 422.5,690 431.2,686.2 437.5,682.5 440,685 447.5,690 457.5,693.8 462.5,698.8 470,700 480,706.2 488.8,713.8 482.5,720 475,726.2 465,731.2 455,730 445,726.2 435,727.5 430,732.5 420,732.5 417.5,725 410,717.5 403.8,707.5Z"/>
<path fill="#b51029" stroke="#b51029" d="M465,731.2 475,726.2 482.5,720 488.8,713.8 497.5,715 505,720 517.5,718.8 530,716.2 538.8,720 537.5,730 532.5,735 520,733.8 512.5,736.2 502.5,742.5 490,745 480,748.8 470,746.2 465,748.8 463.8,740Z"/>
<path fill="#d6352c" stroke="#d6352c" d="M465,748.8 470,746.2 480,748.8 490,745 502.5,742.5 512.5,736.2 520,733.8 532.5,735 543.8,743.8 537.5,750 532.5,760 527.5,772.5 520,780 505,782.5 492.5,787.5 480,790 470,785 460,777.5 455,768.8 460,760 458.8,752.5Z"/>
<path fill="#b51029" stroke="#b51029" d="M417.5,775 430,776.2 445,772.5 455,768.8 456.2,775 447.5,781.2 443.8,790 435,795 425,793.8 417.5,790 418.8,782.5Z"/>
<path fill="#f58950" stroke="#f58950" d="M325,815 317.5,807.5 316.2,795 318.8,785 320,778.8 327.5,780 335,777.5 342.5,772.5 347.5,780 352.5,778.8 357.5,772.5 365,773.8 370,767.5 372.5,767.5 380,762.5 387.5,763.8 397.5,767.5 407.5,771.2 417.5,775 418.8,782.5 417.5,790 416.2,795 415,790 405,791.2 397.5,797.5 396.2,807.5 396.2,817.5 402.5,827.5 410,835 415,845 420,855 430,865 442.5,870 450,872.5 446.2,877.5 452.5,880 462.5,886.2 472.5,892.5 482.5,900 486.2,907.5 485,912.5 480,907.5 472.5,902.5 463.8,900 457.5,905 456.2,916.2 465,922.5 465,930 460,935 453.8,942.5 447.5,952.5 442.5,951.2 445,942.5 451.2,935 450,927.5 446.2,916.2 440,907.5 430,898.8 420,892.5 412.5,885 405,880 395,872.5 385,862.5 375,850 367.5,840 362.5,827.5 355,818.8 345,812.5 335,815 325,818.8Z"/>
<path fill="#f58950" stroke="#f58950" d="M391.2,951.2 394.6,949.5 396.8,948.6 398.4,947.8 400,947.5 405,948.8 407.7,949.7 410.7,949.6 412.5,950 416.1,950.1 420.2,950.4 422.6,950 425,950 429.8,948.6 432.2,947.3 435.8,947 438.8,946.2 438.4,948.8 437.7,951.3 436.9,952.9 436.2,955 435.2,956.8 434.4,960.2 433.8,962.2 432.5,965 433,966.7 433.1,969.6 433.6,971.5 433.8,973.8 431.4,974.5 429.5,975.8 428.5,976.5 427.5,977.5 425,976.3 422.9,974.7 421.9,973.7 420,972.5 418.3,971 415.6,969.1 413.1,967.6 410,966.2 407.8,965.4 404.7,963.6 402.4,961.6 400,960 397.6,958.8 396.4,957.7 394.6,957.2 392.5,956.2 391.6,955.2 391.3,953.5 391.3,952.1Z"/>
<path fill="#f58950" stroke="#f58950" d="M328.8,887.5 330.7,886.7 332.2,886.3 335.1,885.2 337.5,883.8 340.3,882.8 342.8,881.7 344.4,880.5 346.2,880 347.4,882.4 348.3,885.3 350.2,887.7 351.2,890 350.4,892 349.9,895.7 349.4,898.1 348.8,902.5 348.5,904.4 347.8,907.3 346.6,911.6 346.2,915 345,916.5 344,918.9 343,920.9 342.5,922.5 340.1,923.4 338.6,924 336.5,924.3 333.8,925 332.9,923 331.7,921.2 330,919.4 328.8,917.5 329.1,913.6 330.2,909.5 330.2,907.9 330,905 330.2,903.6 330.3,901.2 330.1,898.4 329.5,895 328.6,893 328.6,891.8 328.3,890.1Z"/>
<path fill="#b51029" stroke="#b51029" d="M418.5,993 421,993 422.5,995.5 420,996Z"/>
<path fill="#ea5f3c" stroke="#ea5f3c" d="M417.5,790 425,793.8 435,795 443.8,790 447.5,781.2 456.2,775 460,777.5 470,785 480,790 492.5,787.5 497.5,800 497.6,809.1 490,805.9 477.1,804.8 466.3,803.7 455.5,801.6 446.9,803.7 447.9,809.1 452.3,814.5 457.7,823.1 464.1,831.8 470.6,840.4 479.2,849 486.8,854.4 485.1,855.4 483.5,856.4 481.5,855.3 478.9,854.2 476.5,853.6 472.8,852.5 470.2,850.4 466.6,848 463.5,845.6 462,844.1 458.7,841.6 457,840.1 453.7,837.3 451.2,835.4 449.7,833.4 447.2,830.7 445.4,828 442.6,824.7 440.8,822.6 438.1,819.2 436.3,817 435,813.9 433.6,811 432.8,807.4 431.2,804.1 430,802.6 425.7,807.6 421,805.5 418,798.1Z"/>
<path fill="#d6352c" stroke="#d6352c" d="M497.6,809.1 490,805.9 477.1,804.8 466.3,803.7 455.5,801.6 446.9,803.7 447.9,809.1 452.3,814.5 457.7,823.1 464.1,831.8 470.6,840.4 479.2,849 486.8,854.4 490,844.7 492.2,839.3 497.6,833.9 500.8,828.5 496.5,825.3 498.6,816.7Z"/>
<path fill="#ea5f3c" stroke="#ea5f3c" d="M435.4,817.5 436.8,818.9 437.6,824.4 436.2,823.1Z"/>
<path fill="#ea5f3c" stroke="#ea5f3c" d="M441.7,830.7 445.6,831.1 447.7,832.8 443.8,832.4Z"/>
<path fill="#ea5f3c" stroke="#ea5f3c" d="M449.9,840.6 454.4,841 456.8,842.3 452.3,842Z"/>
<path fill="#ea5f3c" stroke="#ea5f3c" d="M459.6,846 464.1,846.4 466.5,847.7 462,847.4Z"/>
<path fill="#ea5f3c" stroke="#ea5f3c" d="M430.7,807.2 432.1,808.4 432.8,813.2 431.4,812Z"/>
<path fill="#f58950" stroke="#f58950" d="M492.5,787.5 502.5,783.8 515,783.8 520,792.5 530,805 540,813.8 547.5,812.5 548.8,820 545,827.5 547.5,835 552.5,842.5 547.5,850 545,858.8 540,861.2 535,860 533.8,853.8 525,845 517.5,843.8 510,846.2 498.8,837.5 501.2,827.5 496.2,817.5 497.5,807.5 493.8,797.5Z"/>
<path fill="#d7d2e6" stroke="#d7d2e6" d="M511.2,853.8 510,846.2 517.5,843.8 525,845 533.8,853.8 535,860 528.8,863.8 521.2,867.5 517.5,865 513.8,858.8Z"/>
<path fill="#d7d2e6" stroke="#d7d2e6" d="M486.2,856.2 488.8,846.2 495,838.8 498.8,837.5 510,846.2 511.2,853.8 505,857.5 500,865 495,861.2Z"/>
<path fill="#d7d2e6" stroke="#d7d2e6" d="M500,865 505,857.5 511.2,853.8 513.8,858.8 517.5,865 521.2,867.5 518.8,875 521.2,885 527.1,891.8 526.2,897.9 522.6,904.1 516.5,911.2 514.7,916.5 506.2,905 501.2,895 502.5,882.5 500,872.5Z"/>
<path fill="#f58950" stroke="#f58950" d="M521.2,867.5 528.8,863.8 535,860 540,861.2 548.8,865 555,871.2 551.8,882.9 544.7,886.5 535.9,889.1 527.1,891.8 521.2,885 518.8,875 521.2,867.5Z"/>
<path fill="#ea5f3c" stroke="#ea5f3c" d="M545,822.5 552.5,828.8 565,827.5 580,828.8 592.5,827.5 605,821.2 615,818.8 625,821.2 635,825 630,832.5 625,842.5 623.8,852.5 630,860 620,861.2 612.5,866.2 605.6,869.7 602.9,876.8 597.6,877.6 588.8,877.6 580,875.9 572.9,876.8 564.1,878.5 555.3,880.3 548.8,865 540,861.2 545,858.8 547.5,850 552.5,842.5 547.5,835 545,827.5 548.8,820Z"/>
<path fill="#f58950" stroke="#f58950" d="M540,740 560,741.7 573.3,744 586.7,740 598.3,735 606.7,740 618.3,753.3 623.3,766.7 625,780 630,790 640,788.3 646.7,793.3 640,803.3 636.7,816.7 635,823.3 635,825 625,821.2 615,818.8 605,821.2 592.5,827.5 580,828.8 565,827.5 552.5,828.8 545,822.5 548.8,820 547.5,812.5 540,813.8 530,805 520,792.5 515,783.8 532.5,760 537.5,750 543.8,743.8Z"/>
<path fill="#b51029" stroke="#b51029" d="M514.7,916.5 516.5,911.2 522.6,904.1 526.2,897.9 527.1,891.8 535.9,889.1 544.7,886.5 551.8,882.9 555.3,880.3 564.1,878.5 572.9,876.8 580,875.9 588.8,877.6 597.6,877.6 602.9,876.8 605.6,869.7 610,870.6 610.9,875 607.3,879.4 606.5,884.7 602.9,886.5 601.3,886.9 599,887.2 597.9,886.5 595.9,886.5 593.7,886.6 592.4,885.8 590.6,885.4 588.8,885.6 587.2,885.8 584.8,887.2 583.5,887.6 581.8,887.4 580.6,887.6 578.9,887.7 578.1,888.7 576.5,889.1 575,890.6 573.3,891.6 572.9,892.6 571.5,894 569.4,893.5 569.9,894.6 570.9,895.3 572.9,896.8 573.8,897.9 574.6,899.2 575.2,900.1 576.7,900.4 578.2,902 577.9,902.9 576.5,903.4 575.7,901.5 574.6,900.5 573.4,899.7 572.1,899.7 570.4,899.5 569.4,900.6 570.6,901.3 571.7,902 571.9,903.5 572.9,905 572.2,905.7 571.2,906.8 570.6,905.7 569.7,904.4 568.8,903.7 566.8,903.2 565.4,904.4 564.1,904.1 565.1,905.4 565.9,906 565.9,907.6 564,907.3 562.3,906.8 561,905.8 560.7,904.3 560.2,902.6 559.7,901.5 558.3,900.6 557.9,899.4 557.1,897.9 556.4,896.6 554.4,896.2 552.9,897.3 552.3,898.9 551.8,899.7 551.4,901.3 551.9,903.8 552.9,904.3 553.5,905.9 554.8,907.8 555.1,910.2 556.6,911.6 557.1,912.9 557.7,914.2 559,916 559.7,917 560.6,918.2 561.4,918.7 562.5,919.5 563.1,920.3 563.2,921.8 561.4,922.3 560.5,923.6 559.7,924.4 558.8,925.2 557.4,926.7 557.1,928.8 555.5,929.5 554.7,930.2 552.9,930.7 551.8,931.5 554,932 555.9,933.5 558.8,934.5 560.6,935.9 562.4,937.3 563.3,938.8 565.8,939.4 567.6,940.3 568.6,940.4 570.2,941.2 571.5,942.7 572.9,944.7 573.4,946.5 574.9,948.4 575.7,949.2 576.5,950 576.9,951.7 577.3,953.5 576.5,952.6 574.8,952.4 572.9,951.8 571.4,950.7 569.7,949.8 568.6,948 567.6,947.3 566,947.7 564.7,947.7 563.5,947.9 562.3,948.2 560.7,948.1 559.9,947.3 559,945.7 557.1,944.7 554.1,944.4 552.6,943.9 551.5,943.9 550,942.9 547.8,943.5 546.2,943.2 544.6,942.8 542.9,942.9 541.9,942.8 540.2,943 538.2,942.4 535.9,942.1 534.5,941.7 532.8,941.2 532.2,940.5 531.5,939.4 530.7,937.4 529.5,937.1 528.8,935.9 527.6,934.8 527.1,933.7 526.3,932.6 525.3,932.3 524.4,932.6 523.1,932.8 522.6,934.1 521.6,932.5 520.8,930.8 520,928.8 519.4,926.6 518.9,925.5 517.4,924.9 516.5,923.5 516.4,921.4 516.3,919.8 515.8,917.7Z"/>
<path fill="#b51029" stroke="#b51029" d="M559.7,927.9 565.9,929.7 572.9,934.1 578.2,939.4 581.8,943.8 584.4,947.3 580.9,946.5 575.6,942.1 569.4,937.6 563.2,933.2 559.7,930.6Z"/>
<path fill="#b51029" stroke="#b51029" d="M530.6,951.8 532,951.1 533.2,950.6 534.7,949.4 535.9,947.3 538.1,946 540.2,945.1 541.6,944.9 542.9,945.1 544.2,944.9 545.6,944.6 547.8,945 550,945.1 551.9,945.8 552.7,946.7 554.4,947.3 556.2,948.2 557.2,949.4 557.7,950.2 559,951.4 560.6,951.8 561.1,952.7 561.6,954.2 562.4,955.3 564.1,956.2 565,957.5 566.2,959.1 567.6,960.6 566.3,960.9 564.8,960.9 563.2,961.5 562.1,960.3 561.1,960 559.7,958.8 558.2,960.4 557.9,962.3 558.7,964 559.3,965.1 559.7,966.9 560.6,969.4 560.7,971.7 561.4,975.6 562.6,978.7 563.2,980.9 562.9,978.8 561.8,976.9 561,975.6 559.7,974.7 559.1,973 558.5,971.5 557.5,970 556.2,969.4 555.3,970.9 554.5,972.1 553.9,973.2 553.5,974.7 552.8,977.1 552.8,978.8 552.1,980.1 551.8,980.9 550.5,978.8 549.9,976.3 549.7,974.7 549.1,972.9 548.1,971.4 547.8,970 546.8,969.4 545.6,968.5 545.3,971.1 544.5,972.4 544,973.4 542.9,974.7 542.3,973.8 542.1,972.4 541.6,971 540.3,969.4 539.3,968.2 538.2,966 537.9,964.5 537.6,962.3 535.6,960.8 534.3,959.5 534,957.9 533.2,957.1 532.2,956 531.9,954.4 531.7,953.3Z"/>
<path fill="#b51029" stroke="#b51029" d="M572.6,1001.2 574.3,1000.5 574.7,999.4 575.7,999.6 577.3,1000.3 579.8,1000.3 581.8,1000.3 583.4,1000.9 585.1,1001.3 586.6,1001.7 588.8,1002.1 590,1001.7 591.6,1001.8 593.4,1001.8 595.9,1001.2 597.6,1001.1 600.2,1001.6 602.2,1001.8 604.7,1002.9 607.3,1003 609,1002.9 611.1,1003.2 613.5,1003.8 615.1,1003 616.4,1003 617.9,1003.3 617.2,1004.8 617.1,1006.5 615,1006.5 613,1006.9 611.9,1007.2 610,1007.3 608.5,1007.4 607.4,1007.8 605.5,1007.7 602.9,1008.2 600.5,1008.9 599.1,1009.3 597,1010.2 595.9,1010.9 594,1010.1 593.2,1009.3 591.8,1009.1 590.6,1008.2 588.2,1007.7 586.7,1006.8 583.6,1006.5 581.8,1006.5 579.6,1005.8 578.2,1005.7 575.4,1005.6 573.8,1005.6 573.7,1004.5 573.2,1003.2Z"/>
<path fill="#b51029" stroke="#b51029" d="M640,981.8 643.5,977.3 647,974.7 646.2,980 642.6,985.3 640.3,986.2Z"/>
<path fill="#b51029" stroke="#b51029" d="M630.8,990.9 632.2,990.2 632.9,996.8 631.5,998Z"/>
<path fill="#b51029" stroke="#b51029" d="M604.7,920 610,917.3 614.4,920 613.5,923.5 609.1,922.1 608.6,924.6 605.6,922.6Z"/>
<path fill="#b51029" stroke="#b51029" d="M604.7,935 607.9,934.1 609.1,939.4 606.5,942.1 604.7,938.5Z"/>
<path fill="#b51029" stroke="#b51029" d="M618.5,950.3 622,949.1 625.2,950.3 624.1,952.1 619.7,952.1Z"/>
<path fill="#b51029" stroke="#b51029" d="M609.6,953.5 613.5,952.5 613.9,953.9 610.3,954.9Z"/>
<path fill="#b51029" stroke="#b51029" d="M590.2,906.2 594.1,904.8 595.3,908 591.6,909.4Z"/>
<path fill="#b51029" stroke="#b51029" d="M580.5,891.1 583.2,890 584.4,892.8 581.8,894.2Z"/>
<path fill="#b51029" stroke="#b51029" d="M595.2,894.9 597.6,894.6 597.6,896.2 595.5,896.4Z"/>
<path fill="#b51029" stroke="#b51029" d="M505.5,913.8 508.4,914 512.2,919.6 510.5,921.1 507.6,917.5Z"/>
<path fill="#b51029" stroke="#b51029" d="M521.1,934.8 522.8,934.5 523.2,938 521.4,938Z"/>
<path fill="#b51029" stroke="#b51029" d="M518.2,944.3 522.6,945.8 522.5,949.3 519.3,949.3 517.9,946.8Z"/>
<path fill="#b51029" stroke="#b51029" d="M522.8,954.2 525.3,954.9 526,957.4 523.5,956.7Z"/>
<path fill="#b51029" stroke="#b51029" d="M560.6,983.9 562.3,984.2 562.7,987.1 560.9,986.7Z"/>
<path fill="#b51029" stroke="#b51029" d="M587.2,949.4 589.3,948.9 590.4,950.5 588.5,951.1Z"/>
<path fill="#b51029" stroke="#b51029" d="M592.2,954 593.5,953.7 594.3,954.7 593,955.1Z"/>
<path fill="#b51029" stroke="#b51029" d="M599.6,965.2 601.6,964.8 602.8,966.4 600.9,967Z"/>
<path fill="#b51029" stroke="#b51029" d="M595.5,965.7 597.1,965.4 598,966.6 596.5,967.1Z"/>
<path fill="#b51029" stroke="#b51029" d="M584.2,974.3 585.6,974 586.3,975 585.1,975.4Z"/>
<path fill="#b51029" stroke="#b51029" d="M598.5,974.3 599.7,974.1 600.3,975 599.2,975.3Z"/>
<path fill="#b51029" stroke="#b51029" d="M596.8,957.8 597.9,957.5 598.5,958.4 597.5,958.7Z"/>
<path fill="#b51029" stroke="#b51029" d="M591.5,958.8 592.6,958.6 593.2,959.4 592.2,959.8Z"/>
<path fill="#b51029" stroke="#b51029" d="M582.5,954.9 583.8,954.5 584.6,955.6 583.3,956Z"/>
<path fill="#b51029" stroke="#b51029" d="M627.8,967.4 629.9,966.9 631,968.5 629.1,969.1Z"/>
<path fill="#b51029" stroke="#b51029" d="M625,963.8 626.1,963.5 626.8,964.4 625.7,964.7Z"/>
<path fill="#b51029" stroke="#b51029" d="M607.3,969.3 609,968.9 609.8,970.1 608.3,970.6Z"/>
<path fill="#b51029" stroke="#b51029" d="M599.6,970.8 600.7,970.6 601.3,971.4 600.3,971.8Z"/>
<path fill="#b51029" stroke="#b51029" d="M580.7,929.3 582.1,929 582.8,930 581.5,930.4Z"/>
<path fill="#b51029" stroke="#b51029" d="M620.8,950.6 621.7,950.4 622.2,951.1 621.3,951.4Z"/>
<path fill="#b51029" stroke="#b51029" d="M611.1,967.4 612,967.1 612.5,967.9 611.6,968.1Z"/>
<path fill="#b51029" stroke="#b51029" d="M587.2,967.3 588.4,967 589,967.9 587.9,968.3Z"/>
<path fill="#b51029" stroke="#b51029" d="M590.8,962.9 591.7,962.7 592.2,963.4 591.3,963.7Z"/>
<path fill="#b51029" stroke="#b51029" d="M574,920.6 574.9,920.4 575.4,921.1 574.6,921.4Z"/>
<path fill="#b51029" stroke="#b51029" d="M569.6,925 570.5,924.8 571,925.5 570.1,925.8Z"/>
<path fill="#b51029" stroke="#b51029" d="M634.2,969.1 635.3,968.8 635.9,969.7 634.9,970Z"/>
<path fill="#b51029" stroke="#b51029" d="M623.4,958.5 624.3,958.3 624.8,959 624,959.3Z"/>
<path fill="#b51029" stroke="#b51029" d="M594.8,972.7 595.7,972.4 596.2,973.1 595.4,973.4Z"/>
<path fill="#b51029" stroke="#b51029" d="M604.9,975.3 605.8,975.1 606.3,975.8 605.4,976.1Z"/>
<path fill="#f58950" stroke="#f58950" d="M612.5,866.2 620,861.2 630,860 640,870 650,875 662.5,882.5 650,883.8 640,880 630,882.5 620,886.2 610,891.2 602.9,886.5 606.5,884.7 607.3,879.4 610.9,875 610,870.6Z"/>
<path fill="#f58950" stroke="#f58950" d="M608.8,892.5 620,887.5 630,884.5 625,888.8 615,893.8 610,896.2Z"/>
<path fill="#f58950" stroke="#f58950" d="M662.5,882.5 680,873.8 690,863.3 706.7,855 723.3,850 736.7,846.7 746.7,851.7 755,850.7 763.3,856.7 780,856.7 796.7,853.3 813.3,846.7 826.7,840 837.1,832.9 846.9,832 852.7,828 858.6,832 866.5,833.9 871.4,838.8 872.4,846.7 878.2,850.6 886.1,853.5 892,855.5 889.6,857.5 886.1,866.3 892,878 896.7,893.3 906.7,905 900,910 886.7,908.3 873.3,913.3 856.7,921.7 840,933.3 826.7,938.3 813.3,940 796.7,945 783.3,948.3 780,960 776.7,966.7 771.7,953.3 773.3,946.7 763.3,951.7 750,963.3 736.7,968.3 725,971.2 715,963.8 705,960 695,961.2 685,963.8 682.5,972.5 672.5,976.2 665,975 660,965 650,962.5 640,957.5 632.5,955 630,945 623.8,937.5 618.8,932.5 620,922.5 615,915 610,910 608.8,902.5 612.5,896.2 625,895 640,895 652.5,890 660,886.2Z"/>
<path fill="#b51029" stroke="#b51029" d="M718.3,995 722.8,991.6 728.3,988.3 733.7,986.5 740,985 746.4,980.5 751.7,976.7 748.9,982.1 745,988.3 741.3,993.5 738.3,996.7 733.3,1000 730,1001.7 727,1001.5 721.7,1000 720,997.7Z"/>
<path fill="#d7d2e6" stroke="#d7d2e6" d="M601.7,576.7 623.3,580 636.7,586.7 643.3,603.3 655,611.7 665,620 660,628.3 651.7,635 656.7,646.7 646.7,653.3 643.3,666.7 623.3,665 606.7,668.3 593.3,665 573.3,663.3 556.7,666.7 548.3,656.7 555,640 550,623.3 566.7,620 575,615 585,596.7 590,586.7Z"/>
<path fill="#d7d2e6" stroke="#d7d2e6" d="M556.7,666.7 573.3,663.3 593.3,665 606.7,668.3 623.3,665 643.3,666.7 646.7,653.3 656.7,646.7 673.3,641.7 686.7,646.7 693.3,656.7 713.3,673.3 733.3,671.7 753.3,675 773.3,678.3 778.3,686.7 775,696.7 778.3,710 766.7,716.7 760,730 743.3,740 726.7,753.3 720,760 721.7,766.7 740,771.7 745,776.7 733.3,781.7 721.7,785 713.3,796.7 705,793.3 700,783.3 690,778.3 696.7,770 703.3,766.7 686.7,766.7 673.3,760 663.3,761.7 655,773.3 646.7,783.3 640,788.3 630,790 625,780 623.3,766.7 618.3,753.3 606.7,740 596.7,735 586.7,740 573.3,743.3 560,740 546.7,736.7 540,733.3 540,726.7 543.3,713.3 553.3,700 558.3,690 553.3,676.7Z"/>
<path fill="#d7d2e6" stroke="#d7d2e6" d="M805.7,798.6 819.4,797.6 833.1,796.7 846.9,795.7 856.7,798.6 864.5,801.6 870.4,797.6 878.2,795.7 890,796.7 893.9,802.5 903.7,805.5 911.6,807.5 923.3,809.4 931.2,807.5 937.1,797.6 944.9,803.5 952.7,809.4 962.5,814.3 971.4,816.3 964.5,820.2 961.6,827.1 963.5,838.8 961.6,848.6 962.5,861.4 956.7,860.4 950.8,855.5 948.8,848.6 944.9,844.7 939,846.7 933.1,852.5 927.3,858.4 923.3,864.3 915.5,866.3 907.6,864.3 899.8,858.4 892,855.5 886.1,853.5 878.2,850.6 872.4,846.7 871.4,838.8 866.5,833.9 858.6,832 852.7,828 846.9,832 837.1,832.9 835.1,825.1 829.2,815.3 819.4,807.5 809.6,802.5Z"/>
<path fill="#d7d2e6" stroke="#d7d2e6" d="M175.5,514.8 176.5,513.4 177.6,513 179,512 180,513.3 180.4,514.7 180.3,516.6 180.5,518.6 179.5,519.2 178.7,520.7 178.5,521.6 178.5,523 177,522.4 176,520.8 176.6,519.7 176.4,517.9 175.9,516Z"/>
<path fill="#d7d2e6" stroke="#d7d2e6" d="M172.5,531.8 173.6,530.8 175.3,529.8 175.8,531.4 176.6,532.6 176.5,534.5 175.5,536.3 174.9,537.8 174,536.9 172.9,536.1 173.3,535 173.1,533.8Z"/>
<path fill="#d7d2e6" stroke="#d7d2e6" d="M180.8,541 182,540.7 182.8,539.9 183.9,539.5 184.8,540.9 185.4,541.7 185.2,543.1 183.9,544.2 183.4,545.5 182.9,544.5 181.2,544.3 180.9,543.1Z"/>
<path fill="#d7d2e6" stroke="#d7d2e6" d="M188.2,550 189.3,548.7 190.7,548.8 191.8,550.1 191.8,551.8 190.7,552.8 190.3,553.8 188.6,552.8 188.3,551.4Z"/>
<path fill="#d7d2e6" stroke="#d7d2e6" d="M235.2,496.6 236.8,496 238.4,495.8 238.5,497 239.8,497.9 239.4,498.7 237.9,499.2 237,499.6 235.7,498.6Z"/>
<path fill="#d7d2e6" stroke="#d7d2e6" d="M256.5,481.9 257.4,481 258.6,480.8 259.6,481.8 259.5,483.4 258.3,485.2 256.8,484.4 256,483.6Z"/>
<path fill="#d7d2e6" stroke="#d7d2e6" d="M179.5,508.9 180.9,508.9 181.9,507.8 182.4,509.4 183,510.4 182.6,511.6 181.6,512.2 179.8,511.4 179.7,509.8Z"/>
<path fill="#d7d2e6" stroke="#d7d2e6" d="M181.5,526.5 182.4,525.8 183.6,525.5 184.1,526.6 184.5,527.9 183.3,529.5 181.8,528.7 181.7,527.7Z"/>
</g>
<g fill="none" stroke="#f6f0d6" stroke-linecap="round" stroke-linejoin="round">
<path d="M334.4,480.3 336.2,479.2 339.8,478.8 341.5,479.4 343.5,479.2 344.7,479.7 346.9,479.5 349.4,478.8 351.4,478.4 353.3,478.3 354.4,478.8 355.5,479.5 357.6,479.2 359.1,478.3 360.7,478.6 361.9,478.7 362.7,477.6" stroke-width="1.2"/>
<path d="M351.4,478.4 351.9,480.7 353,482.1 353.9,482.7 355.3,483.1 356.7,481.8 358.2,482.3 359.5,482.4" stroke-width="0.9"/>
<path d="M345.1,479.2 345.5,478.4 345.8,476.9 346.4,475.5 347.5,475.3 348.2,474.6 349.5,474.2 351.4,473.7" stroke-width="0.8"/>
<path d="M335.7,498 337.3,497.8 338,496.8 339.7,497 342,496.5 343.8,495.3 345.1,494.8 346.7,494.1 347.8,493.1 350.1,492.6 352.7,492.6 354.2,493.2" stroke-width="1.1"/>
<path d="M346.7,494.1 345.6,496.2 345.5,497.6 345.9,499.1 345.1,500.4 345,502.1 346,503.2 347.5,504.3" stroke-width="0.8"/>
<path d="M335.4,469 338.1,468.5 340.3,469.2 342.1,468.6 343.5,468.2 345.2,468.3 346.3,468.6 348.6,468.7 350.1,469.3" stroke-width="1.0"/>
<path d="M334.4,509.8 335.3,508.8 336.7,508.8 338.4,507.9 340.4,508.2 340.8,507.2 342.4,506.7 343.9,504.7 345.1,503.5 346.9,503.2 349,502.7" stroke-width="1.0"/>
<path d="M333.8,491 335.3,489.8 337.9,489.3 338.9,490 340.4,489.4 341.1,488.5 341.6,487.4 343.5,487.1" stroke-width="0.9"/>
<path d="M336.5,519.2 337.8,517.9 339.7,517.7 341.3,517.6 343.5,516.1 343.9,514.6 344.2,513.3 345.9,512.2" stroke-width="0.9"/>
<path d="M338.8,465.9 340.8,465.7 341.9,464.9 343.3,464.5 345.1,463.5 347,464 348.3,464.2 349.8,464.3" stroke-width="0.8"/>
<path d="M387.5,442 389.9,442.9 391.6,443.3 393.4,443.4 395.3,444.7 397.3,444 398.7,444.5 399.9,443.9 401.6,442.4 403.7,441 404.1,439.5 405.4,438.2 406.3,436.9 406,436.1 406.6,434.7 408.2,433.3" stroke-width="1.6"/>
<path d="M356.1,455.7 357.7,455.4 359.1,456.5 360.7,456.7 361.6,457.3 363.3,456.7 364.6,455.9 365.5,454.9" stroke-width="0.9"/>
<path d="M371.8,446.3 373.1,446.2 374.7,447.1 375.7,447.4 376.5,448.6 377.6,448.5 379.1,447.6 380.4,446.3" stroke-width="0.9"/>
<path d="M440,387.5 442,387.4 444.5,388 446,389.4 447.5,390 449.3,388.6 450.9,387.9 451.7,386.8 452.5,386.2" stroke-width="0.9"/>
<path d="M460,367.5 460.4,368.7 462.3,369.4 465.1,370.2 467.5,370 469.3,369.5 469.9,368.6 470.8,367 472.5,365.5" stroke-width="0.9"/>
<path d="M490,343.8 492.2,344.5 493.9,345.3 496,346.2 497.5,347.5 498.5,346.2 500.5,345.9 501.7,345.1 503.8,344.5" stroke-width="0.9"/>
<path d="M540,325 540.9,327.7 542.2,329.5 542.6,330.7 543.8,332.5 545.3,333.3 545.9,335.1 547.6,335.9 550,336.2" stroke-width="1.0"/>
<path d="M560,324.5 561.1,326.2 562.1,327.9 562.3,329.5 562.5,331.2 564.5,331.9 565.8,332.5 567,333.8" stroke-width="1.0"/>
<path d="M580,323 579.4,325.2 578.9,326.3 579.1,327.3 578.8,328.8 580.1,329.4 581.3,330.7 582.5,331.3 583.8,332.5" stroke-width="1.0"/>
<path d="M593.8,330 591.7,330.6 589.9,330.5 588.1,331.3 587.5,332.5 586.3,333.4 584.7,334.9 584.2,336.3 583.8,337" stroke-width="1.0"/>
<path d="M423.8,223.8 426.7,224.7 430.2,224.5 433.5,226.2 436.4,226.4 440,226.2 443,225.9 445,226.5 447.4,227 449.7,227.7 452.3,227.1 454.8,228.6 456.8,228.5" stroke-width="1.1"/>
<path d="M431.7,231.1 433.4,232.1 436.3,232.4 440.1,232.6 444.2,231.4 446.7,230.9 449.7,231.3 451.7,231 455.2,230.1 456.8,230.6 459.5,231.8 461.5,231.1 464.6,231.4" stroke-width="1.0"/>
<path d="M452.1,236.4 456.5,236.3 459.8,235.7 461.6,235.8 464.6,234.8 467.9,233.3 469.9,233.2 471.7,233.1 474,232.2 475.9,232.8 478.8,232.8 481,231.9 483.4,231.4" stroke-width="1.2"/>
<path d="M444.2,240 446.8,240.6 449.1,241.2 453.9,240.6 456.8,240.5 459.9,240.6 462.2,239.8 465.7,238.6 467.7,238.9 469.6,239.7 471.3,240.3 473.5,240 475.6,239.5" stroke-width="1.0"/>
<path d="M452.1,244.7 455.6,244.7 458.1,244 459.7,244.3 461.5,245.2 464.9,244.1 466.7,243 468.9,243.1 470.9,242.7" stroke-width="0.9"/>
<path d="M459.9,223.2 461.9,224.2 464.5,225.7 466.3,225.6 469.3,225.9 472.4,225.8 474.1,225.4 476.7,224.8 478.7,225.1 482,225.8 483.7,226.8 485.1,226.8 486.6,226.7" stroke-width="1.0"/>
<path d="M489.7,218.5 493.4,218.8 496.4,217.9 498.4,219 502.3,219.5 505.5,219 508.5,218 511.4,218.5 514.8,218.8 516.8,220.2 518.8,220.3 521.8,220.2 524.2,219.6" stroke-width="0.9"/>
<path d="M505.4,236.9 507.4,236.8 509.2,237.9 511.7,238.1 514.8,238.9 517.9,239.7 519.7,239.4 521.1,239.7 522.6,239.2" stroke-width="0.8"/>
</g>
<g class="edges">
<path d="M51.2,316.2 54.1,314.7 57.4,313 59.5,312.2 62.5,310 64.3,310.8 67.9,310.8 71.3,310.5 75,310 77.4,313.8 78.5,316.4 79.4,318 81.2,320 81,322 80.8,323.7 82,325.4 82.5,328.8 83.9,329.5 85.1,329.8 86.2,329.8 87.5,330 89.2,328.5 91.5,326.5 93.3,325.6 93.8,324.5 94.7,325.7 96.2,327.8 97.8,329.7 98.8,331.2 100.7,331.1 103.6,331.6 105.6,330.3 107.5,330 109,330.9 111.1,331.8 113.3,333.8 115,335 117.3,335.4 118.7,334.6 122.4,334 125,333.8 128.5,334.5 130.7,334.1 133,334.3 135,333.8 137.8,336 139.6,337.4 141.1,339 142.5,340 143.5,342 144.2,345.6 146.2,347.7 147.5,350 148.3,351.7 149.6,354.1 152.6,357.6 153.8,360 153.3,362.7 152.2,363.9 150.9,364.2 150,365 147.5,365.8 146.1,367.5 142.5,369.7 140,370 134.5,370.4 131.2,370.5 128.6,370.9 125,372.5 122.7,373.5 118.3,373.6 113.5,372.9 110,373 107.6,373.9 103.6,374.3 98.5,374.6 95,374.5 91.6,373.5 89.4,373.3 87.2,370.9 85,370 83.5,368.3 80,366.2 76.5,363.6 75,361.2 74,360 72.5,358.8 70.9,356.8 70,353.8 65.6,353.4 61.3,352.6 59.2,351.6 56.2,350 57.5,348.9 59.8,348.5 60.5,347.3 62.5,346.2 62.9,345.3 63.9,344 65.9,343.6 67.5,342.5 66.6,340.8 66,339.3 65.7,337.7 66.2,335 62.8,335.1 58.9,333.9 55,332.4 50,330 52.9,329 55,328.8 58.6,328.2 62.5,328.8 64.6,329.1 67.3,329.8 69.5,330.2 72.5,330 71.1,329 70.2,326.6 69.5,324.4 67.5,322.5 62.2,321.5 59.5,320.2 55.9,319.1 53.8,318.8 52.5,318.2 51.5,317.1Z"/>
<path d="M353.7,539.6 352,540.8 351.3,540.3 349.9,539.4 348.6,538.9 346.8,538 345.2,537.8 345.1,536.5 343.6,536.7 342.5,535.6 342.8,534.1 342.2,532.8 340.9,531.8 340,531.7 339.2,531.1 338.3,530.1 336.8,529.1 335.7,528.6 335.7,527 334.7,526.4 333.5,525.5 333.3,523.9 331.7,523.2 331.4,521.6 330.9,519.7 331.9,519 333.4,519.3 334.3,517.8 334.1,516.1 332.8,515.8 331.8,515.7 331.7,514 330.2,513.1 330.4,511.7 330.1,510.4 331.1,509.2 331.8,508.2 331.2,506.5 330.4,505.6 329.7,504.7 329.9,502.7 330.1,501.5 332.2,501.2 333.3,500.4 333.7,499.1 332.3,498.1 332.4,496.6 332.3,495.7 333.4,495.5 333.7,494 332.5,492.5 331.5,491.6 331.9,490.3 331.2,488.5 333,487.5 333.1,485.9 334.9,484.7 334.5,483.3 334.8,482.4 336.2,481.1 335.7,479.3 334.7,478.6 334.2,477.2 335,476.2 333.3,475.3 333.7,473.5 334.9,471.8 334.8,470.7 334,469.2 335.6,468.6 335.7,467.5 336.5,466.2 337.5,466.2 338.8,467 339.8,468.2 340.7,466.6 339.7,465.6 340.3,463.8 342,462.7 343.9,462.1 345.3,462.4 347.1,462.7 346.7,461.3 347.5,459.7 349.1,459.5 350.1,458.5 351.4,458 351.3,456.9 351,455.7 351.5,454.3 353.2,454.2 355,453.3 356.6,452 358.7,452.1 359.2,453.3 360.7,453 361.1,452.1 361.5,450.5 363.3,449.5 364.8,448.2 366.3,447.6 367.1,448.6 367.9,446.7 368.4,445.5 370.1,444.4 372.1,444.8 373.3,445.3 374.9,443.9 376.9,443.3 378.9,442.9 379.8,442.1 379.5,440.6 381.4,439.6 382.7,440 383.7,439.7 385.1,440 386.9,440.8 388.2,440 389,439.2 387.7,438.7 387.2,436.7 388.2,436.2 388.8,435.1 390.8,434.6 392.4,433.2 393.7,433.7 395.3,433.2 397.1,432.7 398.1,432 398.9,430 400.4,429.6 401.6,428.2 402.7,426.8 404,427.1 404,426.1 404.1,424.8 405.5,423.4 406.9,423.6 407.8,423.5 407.6,422.4 408.4,421 410.4,420.6 411.4,419.9 412.6,418.8 414.1,417.3 414.3,416.1 415.9,415.8 417,414.7 419,415.1 419.6,413.9 420.9,412.8 420.4,411 421.6,410.4 422.3,408.8 422,408 421.5,406.7 422.4,406.3 424.1,406.5 425.1,404.7 425,403.8 426,402.6 427.2,402.7 428.1,401.9 428.5,401 429.8,400 429.4,398.5 430.2,397.2 431.6,397.7 432.3,396.7 433.4,396.3 434.1,394.5 433.5,392.6 434.4,391 435,390 436.5,390.5 437.9,391.4 439.9,390.5 440.7,389.6 442,389 443,387.1 444.1,386.7 444.8,385.8 445.3,384 445,382.5 446.6,381.6 447.9,381.5 448.7,380.8 448.6,378.8 449.5,377.1 450.4,376.4 450.4,374.6 451.7,374 452.8,373 453.6,372.8 455,372.5 454.1,371 454.9,369.9 456.7,368.9 457.2,367.2 458.6,366.4 460.7,366.2 462.5,365 463.6,363.3 465.3,362 465,359.9 465.1,358.7 466.1,357.9 467.1,357.5 468.5,357.1 470,357.4 471.7,357.6 472.5,356.2 472.6,355 473.4,353.9 474.6,353.1 476,352.6 477.7,352.8 478.3,350.9 480.4,350.3 480.2,348.9 480,347.5 482,347.1 483.9,347.8 485.2,346.3 486.7,346.1 487.7,346.3 487.8,344.6 488.7,343.7 489.9,343.2 491.2,341.7 492.2,340.3 493.8,340.6 495,340 496.2,339.8 497.2,338.7 498.8,338.1 500.6,337.8 502.7,337.7 504.7,337.2 506,337.7 507.2,337.2 509.2,336.4 510.2,335.3 511.5,334.3 512.5,332.5 514.2,331.6 514.9,331.1 516.4,330.9 517.5,331.7 518.8,330.5 520.4,330.7 521.6,330 522.2,328.4 523.1,327.8 525,327.5 526.8,327.6 527.8,326.4 529.4,327.1 530.1,327.8 531.9,328 533.1,326.9 534.7,327.2 534.9,325.9 535,325 536.3,324.4 538.1,324.3 539.7,322.9 541.8,323.4 543.2,323.5 544,323.9 545.3,324.5 547.2,324.6 547.9,323.4 549.2,322.7 550,322.5 551.4,321.1 552.7,321.4 553.6,320.9 555,320.3 555.7,319.8 557.3,320.4 558.7,320.6 559.9,320.5 560.1,321.8 561.1,322.5 562.5,323.8 564.2,324.2 565.2,324.7 567.2,325 568.4,324.9 569.5,324.4 570.8,323 572.2,322.5 573.5,322 575,321.2 576.3,322.1 577.6,322.8 578.9,322.9 579.6,323.9 581.2,324.4 583,324 583.8,324.3 584.9,325.3 585.8,325.7 587.1,325.1 588.4,324.5 590,323.8 591.8,324.1 592.7,323.6 594.1,324.3 595.8,325.2 597.2,325.4 598.4,325.6 598.9,326.9 600,327.5 600.7,328.2 602.3,328.7 603.5,329.5 603.6,331.3 603,332.8 603.3,334.9 602.5,335.2 601.2,336.2 601.3,337.6 599.8,338.3 598.4,338.8 597.6,339.7 595.6,339.3 594.1,339.7 592.9,339.6 591.5,339.8 590,340 590.1,341.7 589.6,342.9 590,344.5 589.1,345.4 589.6,347.1 587.6,347.3 587.3,348.6 586.7,350.1 585,350 587.5,345 580,340 570,336.2 556.2,342.5 550,352.5 540,357.5 530,360 517.5,360 506.2,353 500,361.2 480,365 465,375 455,392.5 445.5,400 442.4,406.3 440.8,414.1 437.6,420.4 432.9,426.7 436.9,429.8 436.1,435.3 429.8,436.9 422,439.2 415.7,445.5 413.3,451.8 414.1,461.2 414.9,469 414.1,476.9 417.3,481.6 420.4,485.5 414.9,491 414.1,498.8 415.7,506.7 411,509.8 407.1,516.1 405.5,523.9 401.6,527.8 398.4,523.9 397,523.3 395.9,522.9 395.6,522 394.5,520.8 394.9,518.6 394.5,516.6 394.5,515.2 395.3,512.9 394.7,511.5 394.2,510.2 392.9,509.8 392.1,511.5 392.1,512.7 390.6,512.5 389.8,512.9 390.2,514.9 390.2,516.3 389.5,519.2 389,520.8 387.4,520.5 385.1,521.5 384.6,523.2 382.7,524.7 380.5,524.4 378.4,525.7 376.7,526.8 374.9,528.6 373.6,529.3 372.2,530.1 370.5,532 368.6,533.3 365.4,534.7 363.6,535.8 361.7,536.9 360.8,538Z"/>
<path d="M427.5,372.5 429.3,372.2 430,371.2 431.5,369.8 433.5,368.6 434.5,366.8 435.1,365.5 436.4,364.7 437.5,365 439.3,364.4 440.2,363.5 442.8,362.6 444.4,363 445.4,362 447.1,362 447.5,360 450.1,358.6 451.6,357.6 453.2,357 454.3,357 455.1,356.3 456.1,355.3 457.5,353.8 458.2,352.5 459.7,350.9 461.7,350 463.2,349.6 465.4,350.5 467.5,350 468.9,350.8 469.8,350.8 470.6,350 472.5,349.7 473.2,348.1 474.6,347.6 475,346.2 476.5,346.4 477.1,347.2 477.6,348.4 479.1,347.9 480.1,347.4 481.2,347.4 482.5,347.5 482.6,349.3 481.7,350.1 480.7,351 479.4,350.8 478.4,351.3 477.7,352.9 475.8,354 475,355 473.3,355.1 472.1,355.5 471.3,356.8 469.7,357.4 468.7,358.8 467.6,359.1 466.4,359.8 465,360 463.4,360.8 461.7,361.8 461.4,363.1 460.7,361.9 459.2,361.7 456.8,362.2 455,362.5 453.4,363.4 451.2,364.4 450.5,365.3 449.2,366.5 447.9,367.7 447,368.2 445,367.5 443.6,367.4 442.7,368.3 441.7,368.3 440.5,368.4 440.4,369.7 439.2,370.8 436.5,371.5 435,372.5 433.7,372.6 432.8,372.4 432.1,371.2 430.5,371.7 429.6,372.7Z"/>
<path d="M470,347.5 471,347.4 472,346.1 472.6,344.9 473.4,343.9 474.1,342.8 475.4,342.7 476.6,342 477.5,340 478.3,339.3 479.3,338.1 481.7,337.1 483.1,336.3 484.1,335.9 485.9,336.3 487.5,336.2 488.8,335.4 490.2,335.6 492.1,334.9 493.3,334.9 494.6,336.2 496.2,337.5 495,338.9 493.6,338.8 492.7,338.7 491.9,340 490.8,341.4 490.3,342.3 490,343.8 489.1,344.2 488,344.9 485.8,345.7 484.6,346.3 484.1,347.5 482.9,347.8 481.7,348.1 480,348.8 478.3,349.8 477.2,350 475.1,350 473.9,349.1 471.7,349.1 470.8,347.9Z"/>
<path d="M500,336.2 501.3,334.5 503.8,333.5 505.6,331.6 507.5,331.2 508.9,331.8 511.4,331.9 514.1,331.4 515,330 514.1,331.7 513.7,333.3 513.8,334.5 512.5,336.2 511.3,337.2 509.2,339 507.5,339.9 505,340 503.2,339.3 502.3,337.5 500.9,336.8Z"/>
<path d="M418.3,221.2 419.3,221.2 420.5,220.6 421.9,220.8 423.3,221.2 424.4,220.5 425.4,218.8 427.5,219.3 428.1,218.4 429.9,218.1 430.9,218.8 432.4,220.2 434,220.9 436.4,221.2 437.8,221.3 439.4,222.5 440.4,222 441.9,221.9 443.9,221.1 445.8,220.4 446.9,221.6 448.3,222.3 450,222.4 451,223 452.1,223.5 453.2,222.7 454.3,222.4 455.6,221.7 456.8,221.1 458.3,219.6 459.8,219.7 460.5,220.2 462.1,219.6 463.4,220.4 464.5,220.1 466.1,219.4 467.7,218.8 468.9,219.8 469.8,220.1 471.5,220.4 473.1,221.7 474.4,222.1 475.6,222.7 477.1,222.5 479.4,223 480.3,223.8 481.6,224 483.2,223 485,223.5 486,225.3 487.5,226.1 488.4,226.6 489.6,226.5 491.1,226.1 492.8,226.7 494.2,227.4 495.9,227 497.3,226.8 498.3,227.5 499.8,227 501.7,227.3 503.6,228.6 505.4,229 504.8,230.3 503.4,230.9 502.3,231.3 501.2,231.5 498.4,232.2 495.8,232.3 494.4,232.4 492.8,231.4 491.5,232.5 489.7,233.7 489.6,235.5 488.1,236 486.6,236.9 485.9,238.2 484.1,238 482.9,237.9 481.9,239.2 480.7,240.9 478.9,241.9 477.2,241.6 476.9,242.5 475.8,243.6 474,243.5 473.2,244.8 472.5,245.5 471.7,247.5 470.6,248.5 469.4,248.5 468.3,249.3 467.7,250.2 466.2,250.4 464.6,251.8 462.7,250.9 461.8,249.9 461.5,248.7 459.9,249.6 458.3,248.6 457.1,247.9 455.9,246.9 454.9,246.4 453.7,246.4 451.9,245.5 450.5,246.3 449.6,245.8 449,244.4 447.1,244 445.9,244 444.2,243.9 446,243.5 447.1,242.4 448.1,242.4 449.3,241.6 450.5,242.4 449.7,240.8 448.2,239.9 447.3,239.6 446.3,239.2 444.4,239.2 442.5,239 441.1,239.2 442.3,239 444.2,238.7 445.6,238.5 445.8,236.9 447.2,237 448.5,236.6 449.9,236.1 451.4,235.9 452.7,235.6 454.1,234.6 455.4,235 456.8,235.3 455.3,235.2 454.8,233.8 453.8,233.4 452.1,232.2 450.4,232.4 449.5,233.3 447.8,233.2 445.5,232.6 444.5,233 443.2,233.6 442,233.3 441.1,232.9 439.5,232.1 437.9,232.3 436.1,232 435.8,231.1 434.6,230.3 433.2,230.6 431.9,230 431.3,229.4 430.4,228.7 430,227.4 429.1,227.9 427.5,227.5 426.3,226.6 425.4,226.7 423.9,225.5 422.6,225 420.7,224.3 420.1,222.3Z"/>
<path d="M481.9,218.8 482.9,218.5 484.6,218.2 485.9,216.9 487.8,216.5 488.9,216.4 490.3,216 492.8,215.7 494.7,216.5 496.6,216 498.1,216.2 499.9,217.4 501,217.6 502.3,217.3 503.3,216.9 505.1,216.6 506.6,216.6 508.1,215.7 509.3,215.6 511.3,216.2 512.7,215.9 514.8,216.5 515.8,215.8 517.3,216 517.9,214.1 518.5,215 520.3,215.5 522.4,214.9 524.2,215.7 525.3,215.7 527,215.3 528.4,215 529.7,215.5 531.8,215.1 532.9,215.2 534.9,214.7 536.8,214.9 538,215.3 539.4,215.2 541.2,214.8 542.7,213.7 544.6,213.5 546.7,213.7 549.5,213.5 552.5,214.1 550.8,215.3 549.8,216.6 549,217.2 547.5,217.9 546.2,218 544.1,218.6 542.1,218.6 540.9,218.8 539.9,220.4 538.2,221 537.1,220.3 535.9,220.2 534.7,220.8 532.9,220.8 532,221.5 530.5,222 529.3,222.8 528.4,223 527.4,223.4 525.5,223.3 523.4,223.9 522.3,223.3 521.1,223.5 519.8,222.9 518.2,223 517.5,221.9 516.5,221.5 514.5,220.7 513.2,221.2 512,220.5 511,220.3 509.6,220.4 508.7,220.9 507.3,221.8 505.2,222.2 503.8,222 501.8,220.8 500.4,220.6 499,220.8 497.8,220.8 496.1,220.5 494.6,220.7 492.8,220.4 491,220.2 489.7,220.4 487.8,220.7 486.4,220.3 485,220.4 483.8,219.9Z"/>
<path d="M499.1,233.7 500.8,233.7 501.8,234.1 502.6,234.1 504,233.6 505.6,233.4 507,232.2 507.8,232.5 509.2,232.4 510.4,233.5 511.7,234.2 512.3,234.8 513.4,235.1 514.8,235.3 515.8,234.9 517,234.6 519.2,234.7 520.3,235.2 521.9,236.4 523.2,236.6 524.2,237.6 525.2,238.1 526.4,238.2 528.3,237.5 530,237.1 531.3,237.6 530.3,238 529.5,239.2 528.3,239.8 526.8,239.7 525.8,240.8 524.1,241 523.2,241.7 521.3,242.8 520,242.5 519.1,242.5 517.9,243.1 516.6,243.3 515.7,243.3 514.7,242.5 513.5,242.1 511.3,242.1 509.7,242.3 508.5,242.4 507.6,241.9 505.9,241.4 503.8,240.8 504.8,239.9 504.8,238.5 505.8,237.5 507,237.6 505.6,236.8 504.9,236.3 504,235.2 502.1,234.6 500.9,234Z"/>
<path d="M401.6,527.8 405.5,523.9 407.1,516.1 411,509.8 415.7,506.7 414.1,498.8 414.9,491 420.4,485.5 417.3,481.6 414.1,476.9 414.9,469 414.1,461.2 413.3,451.8 415.7,445.5 422,439.2 429.8,436.9 436.1,435.3 436.9,429.8 432.9,426.7 437.6,420.4 440.8,414.1 442.4,406.3 445.5,400 455,392.5 465,375 480,365 500,361.2 507.5,351.2 520,362.5 531.2,370 533.8,380 537.5,392.5 540,402.5 547.5,406.2 535,403.8 522.5,407.5 513.8,417.5 511.2,425 505,437.5 495,447.5 482.5,455 475,457.5 472.5,467.5 468.8,480 470,490 473.8,498.8 482.5,505 486.2,512.5 477.5,523.8 467.5,530 460,537.5 473.3,528.3 465,533.3 460,538.3 461.7,548.3 460.8,558.3 459.2,568.3 455,577.5 448.3,582.5 438.3,584.2 433.3,588.3 430,593.3 423.3,595.8 418.3,593.3 416.7,585 415.8,575 411.7,565 406.7,553.3 403.3,541.7 407.8,560 406.3,549 404.7,541.2 400.8,533.3Z"/>
<path d="M480,560 483.8,552.5 491.2,548.8 488,557.5 483,565Z"/>
<path d="M459.2,578.3 461.7,570 466.3,560.8 464.7,570 460.8,579.2Z"/>
<path d="M547.5,406.2 540,402.5 537.5,392.5 533.8,380 531.2,370 520,362.5 506.2,353 517.5,360 530,360 540,357.5 550,352.5 556.2,342.5 570,336.2 580,340 587.5,345 585,350 590,362.5 596.2,370 591.2,380 597.5,392.5 601.2,400 600,410 606.2,420 610,430 617.5,440 623.8,447.5 623.8,448.8 615,460 605,472.5 592.5,488.8 585,493.8 570,496.2 555,502.5 540,507.5 532.5,502.5 522.5,495 516.2,487.5 517.5,479.8 513.8,470 515,460 525,450 535,440 545,430 553.8,420 555,412.5Z"/>
<path d="M543.8,525 550,518.8 565,515 580,513.8 593.8,515 591.2,525 590,535 592.5,547.5 586.2,550 575,546.2 565,542.5 555,546.2 552.5,538.8 547.5,537.5 545,531.2Z"/>
<path d="M527,528.5 530,526 534,525.5 536.8,528.5 534.5,531.5 530.5,532Z"/>
<path d="M523.5,538.5 527.5,536 532.5,534.5 539,533.5 541.5,536 538,539.5 532.5,541 528,545 525.5,543 526.5,540Z"/>
<path d="M516.2,582.5 516.2,575 520,560 530,553.8 538.8,556.2 543.8,563.8 552.5,560 555,546.2 565,542.5 575,546.2 586.2,550 592.5,547.5 595,560 601.2,570 600,580 590,585 583.8,587.5 575,582.5 562.5,576.2 550,578.8 537.5,576.2 525,577.5 516.2,582.5Z"/>
<path d="M516.2,582.5 525,577.5 537.5,576.2 550,578.8 562.5,576.2 575,582.5 583.8,587.5 585,590 583.8,597.5 575,605 572.5,615 565,617.5 560,622.5 550,623.8 547.5,618.8 543.8,612.5 537.5,606.2 530,602.5 520,600 517.5,595Z"/>
<path d="M430,627.5 440,622.5 455,617.5 470,612.5 482.5,611.2 486.2,616.2 500,617.5 520,617 540,617 546.2,620 550,628.8 553.8,640 548.8,652.5 553,662.5 554.5,672.5 557.2,681.2 560,692.2 551.8,703 544.5,712.5 542.5,720 530,716.2 517.5,718.8 505,720 497.5,715 488.8,713.8 480,706.2 470,700 462.5,698.8 457.5,693.8 447.5,690 440,685 437.5,682.5 436.2,672.5 435,660 430,647.5 432.5,637.5Z"/>
<path d="M362.5,601.7 368.3,603.3 373.3,603.3 377.5,608.3 381.7,613.3 388.3,620 394.2,622.5 398.3,620 406.7,617.5 415,615.8 420,618.3 424.2,621.7 428.3,626.7 432.5,637.5 430,647.5 435,660 436.2,672.5 437.5,682.5 431.2,686.2 422.5,690 410,695 401.2,698.8 403.8,707.5 410,717.5 417.5,725 420,732.5 410,745 408.8,752.5 400,750 387.5,751.2 377.5,752.5 370,753.8 360,750 347.5,746.2 333.8,746.2 335,740 337.5,730 343.8,720 335,716.2 325,712.5 323.8,705 318.8,695 321.2,685 317.5,677.5 321.2,670 322.5,660 332.5,652.5 337.5,642.5 340,632.5 339.2,627.5 345,625.8 351.7,625 355,628.3 358.3,623.3 363.3,621.7 366.7,620 364.2,613.3 365,606.7Z"/>
<path d="M362.5,601.7 362.2,599.5 361.2,597.3 360.9,595.4 360,593.3 360,591.6 359,589 358.2,587.4 357.5,586.7 358.3,584.9 359.3,583 359.2,580.9 360,578.3 360.1,576.5 360.8,574.3 360,572.5 360,570 360.3,568.5 361.3,567.3 362.4,565.6 364.2,563.3 365.6,563.5 367.2,562.7 370,562.1 371.7,561.7 374,560.8 375.1,560 377.1,559.6 378.3,559.2 379.9,557.1 381.6,556.1 382.2,554.8 383.3,553.3 384.8,551.7 386.9,551.4 388.3,550.8 388.6,552.2 388.7,553.8 388.7,555.7 388.3,556.7 387.3,558.2 386.3,560.4 386.1,561.5 385.8,563.3 385.6,565.1 385,566.8 385,568.9 385.8,570 387.2,571 388.3,571.7 390.3,572.4 391.7,573.3 390.6,575.2 389.3,575.8 388.3,577.5 386.5,577.3 385.6,577.9 384.3,578.3 383.3,578.3 382.5,579.4 382.4,581.4 382.1,583.3 381.7,585 380.7,585.8 380,587.2 378.4,588.6 377.5,590 376.2,591.7 375.7,593.3 375,595 375,596.7 374.3,598.5 373.6,600.5 373.5,601.9 373.3,603.3 371.4,603.7 369.9,603.5 368.3,603.3 366.5,603.4 364.6,602.7 363.9,601.9Z"/>
<path d="M378.3,591.7 385,590.8 389.2,595.8 386.7,600 380.8,599.2Z"/>
<path d="M394.2,588.3 395.8,587.8 397.6,586.9 398.8,585.9 400,585.8 401.4,584.7 403.7,584.1 404.4,583.3 405.8,582.5 407,582.3 409.1,582.7 410.8,583.3 410.6,584.8 411.2,587.2 411.7,588.2 411.7,590 409.7,591.2 408.3,592.9 407,594.1 406.7,595 406.5,596.3 406.3,597.8 405.8,599.1 405,600.8 403.4,600.2 402.4,600 401,600 400,600 399.3,598.3 398.4,597.4 397.2,596.1 395.8,595 395.5,593.8 395.9,592.5 395.4,590.4Z"/>
<path d="M310,631.2 320,628.8 331.2,627.5 340,626.2 337.5,640 333.8,650 325,655 322.5,665 320,672.5 315,666.2 307.5,662.5 297.5,663.8 287.5,663.8 292.5,658.8 298.8,652.5 302.5,642.5Z"/>
<path d="M276.2,667.5 287.5,663.8 297.5,663.8 307.5,662.5 315,666.2 320,672.5 318.8,680 322.5,687.5 316.2,693.8 312.5,700 305,695 300,688.8 292.5,690 285,680 280,675Z"/>
<path d="M316.2,693.8 321.2,692.5 322.5,700 317.5,705 313.8,701.2Z"/>
<path d="M131.2,570 140,568.8 150,573.8 156.2,571.2 148.8,566.2 156.2,560 171.2,560 165,566.2 160,570 156.2,573.8 160,578.8 167.5,581.2 172.5,587.5 173.8,597.5 172.5,607.5 167.5,616.2 162.5,620 152.5,618.8 140,622.5 127.5,623.8 115,616.2 113.8,608.8 125,605 136.2,603.8 127.5,597.5 136.2,591.2 127.5,583.8 131.2,576.2Z"/>
<path d="M156.2,573.8 160,570 165,566.2 171.2,563.8 180,563.8 186.2,572.5 183.8,582.5 176.2,585 172.5,587.5 167.5,581.2 160,578.8Z"/>
<path d="M207.5,506.2 209.4,504.7 211.2,504.5 215.2,505.2 217.5,505 221.8,506.6 225.9,507.5 230.1,508.6 232.5,510 232.7,511.7 231.9,513.3 230.9,515.6 228.8,517.5 226.7,519.7 224.1,521.7 221.9,522.5 220,523.8 224.5,524.6 227.5,525.8 230.3,527.9 232.5,528.8 234.7,528.9 236.3,530.1 238.9,531.1 242.5,531.2 242.1,533.8 241.2,535.4 240.8,537.6 240,540 237.5,542 235.3,545 234.4,546.4 232.5,547.5 231.5,549.1 230.4,550.2 227.3,551.7 225,552.5 223.8,553.2 222.1,552.7 220.9,553.7 220,555 223,555.9 224.8,556.5 227.1,557.7 230,560 232.9,561.7 235,564.5 236.5,565.8 237.5,567.5 238.6,569.1 238.8,572.6 239,576.9 238.8,580 240.1,583.2 240.5,585.2 241.3,587.5 242.5,590 243.7,593 246.1,596.7 248.4,598.8 250,600 250.6,601.6 251.4,603.5 252.5,606.2 252.5,608.8 251.8,610.8 250.1,612.5 250,614.1 250,615 251.8,617.4 253.9,619.4 253.9,621.5 255,623.8 257.9,625.3 260.1,626.7 262.1,627.1 265,627.5 266.8,629.9 267.9,631.6 268.8,633.4 268.8,635 268,637.8 266.7,638.9 265.7,641.6 265,645 262.6,645.8 261.6,647.3 260.3,649.4 257.5,651.2 259.5,651.7 260.5,652 261.7,652.8 262.5,655 262,656.5 260.5,658.8 259.1,660.8 257.5,662.5 254.5,663.3 249.9,664.4 247.2,666.1 245,666.2 241.1,665.3 237.1,664.2 234.5,664.7 232.5,665 228.3,663.3 225.3,663 222.9,663 220,663.8 218,664 214.9,663.2 212.3,662 207.5,661.2 204.3,661.3 202.3,661.5 200.1,662.2 197.5,662.5 195.6,663.2 194.5,663.5 191.7,664.9 190,666.2 186.4,666.9 183.6,666.2 181.9,665.7 180,665 176.8,664.4 174.4,664.7 171.8,664.3 170,665 171.8,663.3 172.8,660.7 175.6,658.9 177.5,657.5 179.9,656.2 183.6,654.3 186.1,651.8 187.5,650 189.6,650.6 192.9,650.2 195.8,648.9 200,647.5 203.6,645.3 205.8,644.4 207.6,643.5 210,642.5 207.1,642.2 204.1,641.2 202.3,640.4 200,640 198,639.8 195.7,638.4 191.3,637.4 188.8,636.2 185.2,635.9 182.7,634.8 180.8,633.9 180,632.5 180.5,630.8 181.3,629.8 182.6,628.9 185,627.5 187.9,625.1 190.4,624.3 192.7,623.5 195,622.5 194.6,619.6 194.7,617.3 193.9,615.5 192.5,612.5 193.9,610.6 195.4,608.1 196.9,606.8 197.5,605 199.3,605.6 202.3,605.6 205,606.9 207.5,607.5 210.3,606.9 211.7,605.8 213.5,604.8 215,603.8 214.4,602.3 212.9,600.8 212.7,597.4 212.5,595 211.4,592.2 210.2,589.6 210.6,586.6 210,585 210.5,583.4 212.1,581.2 212.4,580.3 212.5,578.8 210.8,577.3 208.4,577 204.9,576.5 202.5,576.2 201.5,574.3 198.9,572.4 197.8,572 196.2,571.2 196.5,569.9 197.2,568 199,565.7 200,562.5 198.4,561.4 197.6,560.6 196.8,558.9 195,557.5 194,558.4 193.1,559.2 191.5,560 188.8,560 188.3,557.4 186.3,554.1 186.5,551.8 186.2,550 186.1,547.5 185.7,544.5 187.2,542.1 187.5,540 185.8,537.8 185.7,536.1 185.6,533.4 185,530 184,528.5 183.5,525.7 181.7,522.7 180,521.2 180.2,519.3 181.1,516.6 181.9,514.3 183.8,512.5 184.9,511.5 187.3,510.4 188.7,508.5 190,507.5 191.8,507.3 193.5,508.4 195.1,508.1 197.5,507.5 198.8,508.8 199.5,511.8 201,513.6 201.2,515 202.8,513.7 203.3,512.1 204.5,511.5 205,510 205.9,508.5 206.6,506.9Z"/>
<path d="M167.5,700 175,697.5 190,698.8 201.2,700 211.2,697.5 212.5,686.2 217.5,685 220,692.5 230,695 240,691.2 250,686.2 260,680 262.5,672.5 276.2,667.5 280,675 285,680 292.5,690 300,688.8 305,695 312.5,700 313.8,701.2 317.5,705 327.5,710 340,716.2 342.5,720 336.2,730 333.8,740 332.5,746.2 335,745 325,748.3 316.7,760 310,768.3 315,771.7 320,780 316.7,790 321.7,800 318.3,810 325,816.7 323.3,823.3 313.3,828.3 303.3,835 293.3,831.7 283.3,826.7 273.3,823.3 263.3,828.3 256.7,836.7 255,843.3 243.3,843.3 232.3,836 216.7,831.7 200,823.3 186.7,811.7 190,803.3 196.7,790 201.7,773.3 203.3,756.7 196.7,746.7 193.3,736.7 186.7,726.7 176.7,716.7 170,710 168.3,700Z"/>
<path d="M337.5,855 339.1,853.9 340.6,852.7 342.1,851.1 343.8,850 344.7,848.8 346.3,847.9 348.4,845.6 350,843.8 349.9,846.6 350.3,849 351.1,851.9 351.2,855 351,857.3 350.6,859 350.1,861.2 350,865 349.2,866.9 348.5,869.4 347.6,872.2 346.2,875 344.9,874.2 343.2,873 342.1,872.3 341.2,871.2 340.4,869 338.8,865.7 338.2,864.4 337.5,862.5 337.7,861.2 337.6,859.4 337.7,857.8Z"/>
<path d="M76.7,790 96.7,783.3 110,786.7 130,795 146.7,800 163.3,805 176.7,808.3 186.7,811.7 200,823.3 216.7,831.7 232.3,836 243.3,843.3 255,843.3 253.3,853.3 236.7,861.7 220,870 206.7,880 196.7,890 191.7,900 196.7,910 186.7,918.3 178.3,926.7 163.3,931.7 153.3,941.7 140,940 123.3,938.3 106.7,938.3 96.7,945 88.3,940 85,930 80,920 73.3,915.7 71.7,908.3 80,898.3 81.7,886.7 88.3,875 85,865 95,861.7 100,846.7 101.7,836.7 111.7,831.7 108.3,821.7 96.7,820 86.7,815 78.3,813.3 76.7,803.3Z"/>
<path d="M78.3,813.3 86.7,815 96.7,820 108.3,821.7 111.7,831.7 101.7,836.7 100,846.7 95,861.7 85,865 88.3,875 81.7,886.7 80,898.3 71.7,908.3 73.3,915.7 60,915 46.7,910 51.7,903.3 55,893.3 51.7,883.3 50,873.3 55,866.7 63.3,853.3 68.3,840 73.3,826.7Z"/>
<path d="M235,900 243.3,895 251.7,900 246.7,906.7 240,905Z"/>
<path d="M311.2,767.5 316.2,760 325,750 333.8,746.2 347.5,746.2 360,750 361.2,757.5 363.8,763.8 370,767.5 365,773.8 357.5,772.5 352.5,778.8 347.5,780 342.5,772.5 335,777.5 327.5,780 320,778.8 317.5,771.2Z"/>
<path d="M360,750 370,753.8 377.5,752.5 387.5,751.2 400,750 408.8,752.5 410,745 420,732.5 430,732.5 435,727.5 445,726.2 455,730 465,731.2 463.8,740 465,748.8 458.8,752.5 460,760 455,768.8 445,772.5 430,776.2 417.5,775 407.5,771.2 397.5,767.5 387.5,763.8 380,762.5 372.5,767.5 363.8,763.8 361.2,757.5Z"/>
<path d="M401.2,698.8 410,695 422.5,690 431.2,686.2 437.5,682.5 440,685 447.5,690 457.5,693.8 462.5,698.8 470,700 480,706.2 488.8,713.8 482.5,720 475,726.2 465,731.2 455,730 445,726.2 435,727.5 430,732.5 420,732.5 417.5,725 410,717.5 403.8,707.5Z"/>
<path d="M465,731.2 475,726.2 482.5,720 488.8,713.8 497.5,715 505,720 517.5,718.8 530,716.2 538.8,720 537.5,730 532.5,735 520,733.8 512.5,736.2 502.5,742.5 490,745 480,748.8 470,746.2 465,748.8 463.8,740Z"/>
<path d="M465,748.8 470,746.2 480,748.8 490,745 502.5,742.5 512.5,736.2 520,733.8 532.5,735 543.8,743.8 537.5,750 532.5,760 527.5,772.5 520,780 505,782.5 492.5,787.5 480,790 470,785 460,777.5 455,768.8 460,760 458.8,752.5Z"/>
<path d="M417.5,775 430,776.2 445,772.5 455,768.8 456.2,775 447.5,781.2 443.8,790 435,795 425,793.8 417.5,790 418.8,782.5Z"/>
<path d="M325,815 317.5,807.5 316.2,795 318.8,785 320,778.8 327.5,780 335,777.5 342.5,772.5 347.5,780 352.5,778.8 357.5,772.5 365,773.8 370,767.5 372.5,767.5 380,762.5 387.5,763.8 397.5,767.5 407.5,771.2 417.5,775 418.8,782.5 417.5,790 416.2,795 415,790 405,791.2 397.5,797.5 396.2,807.5 396.2,817.5 402.5,827.5 410,835 415,845 420,855 430,865 442.5,870 450,872.5 446.2,877.5 452.5,880 462.5,886.2 472.5,892.5 482.5,900 486.2,907.5 485,912.5 480,907.5 472.5,902.5 463.8,900 457.5,905 456.2,916.2 465,922.5 465,930 460,935 453.8,942.5 447.5,952.5 442.5,951.2 445,942.5 451.2,935 450,927.5 446.2,916.2 440,907.5 430,898.8 420,892.5 412.5,885 405,880 395,872.5 385,862.5 375,850 367.5,840 362.5,827.5 355,818.8 345,812.5 335,815 325,818.8Z"/>
<path d="M391.2,951.2 394.6,949.5 396.8,948.6 398.4,947.8 400,947.5 405,948.8 407.7,949.7 410.7,949.6 412.5,950 416.1,950.1 420.2,950.4 422.6,950 425,950 429.8,948.6 432.2,947.3 435.8,947 438.8,946.2 438.4,948.8 437.7,951.3 436.9,952.9 436.2,955 435.2,956.8 434.4,960.2 433.8,962.2 432.5,965 433,966.7 433.1,969.6 433.6,971.5 433.8,973.8 431.4,974.5 429.5,975.8 428.5,976.5 427.5,977.5 425,976.3 422.9,974.7 421.9,973.7 420,972.5 418.3,971 415.6,969.1 413.1,967.6 410,966.2 407.8,965.4 404.7,963.6 402.4,961.6 400,960 397.6,958.8 396.4,957.7 394.6,957.2 392.5,956.2 391.6,955.2 391.3,953.5 391.3,952.1Z"/>
<path d="M328.8,887.5 330.7,886.7 332.2,886.3 335.1,885.2 337.5,883.8 340.3,882.8 342.8,881.7 344.4,880.5 346.2,880 347.4,882.4 348.3,885.3 350.2,887.7 351.2,890 350.4,892 349.9,895.7 349.4,898.1 348.8,902.5 348.5,904.4 347.8,907.3 346.6,911.6 346.2,915 345,916.5 344,918.9 343,920.9 342.5,922.5 340.1,923.4 338.6,924 336.5,924.3 333.8,925 332.9,923 331.7,921.2 330,919.4 328.8,917.5 329.1,913.6 330.2,909.5 330.2,907.9 330,905 330.2,903.6 330.3,901.2 330.1,898.4 329.5,895 328.6,893 328.6,891.8 328.3,890.1Z"/>
<path d="M417.5,790 425,793.8 435,795 443.8,790 447.5,781.2 456.2,775 460,777.5 470,785 480,790 492.5,787.5 497.5,800 497.6,809.1 490,805.9 477.1,804.8 466.3,803.7 455.5,801.6 446.9,803.7 447.9,809.1 452.3,814.5 457.7,823.1 464.1,831.8 470.6,840.4 479.2,849 486.8,854.4 485.1,855.4 483.5,856.4 481.5,855.3 478.9,854.2 476.5,853.6 472.8,852.5 470.2,850.4 466.6,848 463.5,845.6 462,844.1 458.7,841.6 457,840.1 453.7,837.3 451.2,835.4 449.7,833.4 447.2,830.7 445.4,828 442.6,824.7 440.8,822.6 438.1,819.2 436.3,817 435,813.9 433.6,811 432.8,807.4 431.2,804.1 430,802.6 425.7,807.6 421,805.5 418,798.1Z"/>
<path d="M497.6,809.1 490,805.9 477.1,804.8 466.3,803.7 455.5,801.6 446.9,803.7 447.9,809.1 452.3,814.5 457.7,823.1 464.1,831.8 470.6,840.4 479.2,849 486.8,854.4 490,844.7 492.2,839.3 497.6,833.9 500.8,828.5 496.5,825.3 498.6,816.7Z"/>
<path d="M492.5,787.5 502.5,783.8 515,783.8 520,792.5 530,805 540,813.8 547.5,812.5 548.8,820 545,827.5 547.5,835 552.5,842.5 547.5,850 545,858.8 540,861.2 535,860 533.8,853.8 525,845 517.5,843.8 510,846.2 498.8,837.5 501.2,827.5 496.2,817.5 497.5,807.5 493.8,797.5Z"/>
<path d="M511.2,853.8 510,846.2 517.5,843.8 525,845 533.8,853.8 535,860 528.8,863.8 521.2,867.5 517.5,865 513.8,858.8Z"/>
<path d="M486.2,856.2 488.8,846.2 495,838.8 498.8,837.5 510,846.2 511.2,853.8 505,857.5 500,865 495,861.2Z"/>
<path d="M500,865 505,857.5 511.2,853.8 513.8,858.8 517.5,865 521.2,867.5 518.8,875 521.2,885 527.1,891.8 526.2,897.9 522.6,904.1 516.5,911.2 514.7,916.5 506.2,905 501.2,895 502.5,882.5 500,872.5Z"/>
<path d="M521.2,867.5 528.8,863.8 535,860 540,861.2 548.8,865 555,871.2 551.8,882.9 544.7,886.5 535.9,889.1 527.1,891.8 521.2,885 518.8,875 521.2,867.5Z"/>
<path d="M545,822.5 552.5,828.8 565,827.5 580,828.8 592.5,827.5 605,821.2 615,818.8 625,821.2 635,825 630,832.5 625,842.5 623.8,852.5 630,860 620,861.2 612.5,866.2 605.6,869.7 602.9,876.8 597.6,877.6 588.8,877.6 580,875.9 572.9,876.8 564.1,878.5 555.3,880.3 548.8,865 540,861.2 545,858.8 547.5,850 552.5,842.5 547.5,835 545,827.5 548.8,820Z"/>
<path d="M540,740 560,741.7 573.3,744 586.7,740 598.3,735 606.7,740 618.3,753.3 623.3,766.7 625,780 630,790 640,788.3 646.7,793.3 640,803.3 636.7,816.7 635,823.3 635,825 625,821.2 615,818.8 605,821.2 592.5,827.5 580,828.8 565,827.5 552.5,828.8 545,822.5 548.8,820 547.5,812.5 540,813.8 530,805 520,792.5 515,783.8 532.5,760 537.5,750 543.8,743.8Z"/>
<path d="M514.7,916.5 516.5,911.2 522.6,904.1 526.2,897.9 527.1,891.8 535.9,889.1 544.7,886.5 551.8,882.9 555.3,880.3 564.1,878.5 572.9,876.8 580,875.9 588.8,877.6 597.6,877.6 602.9,876.8 605.6,869.7 610,870.6 610.9,875 607.3,879.4 606.5,884.7 602.9,886.5 601.3,886.9 599,887.2 597.9,886.5 595.9,886.5 593.7,886.6 592.4,885.8 590.6,885.4 588.8,885.6 587.2,885.8 584.8,887.2 583.5,887.6 581.8,887.4 580.6,887.6 578.9,887.7 578.1,888.7 576.5,889.1 575,890.6 573.3,891.6 572.9,892.6 571.5,894 569.4,893.5 569.9,894.6 570.9,895.3 572.9,896.8 573.8,897.9 574.6,899.2 575.2,900.1 576.7,900.4 578.2,902 577.9,902.9 576.5,903.4 575.7,901.5 574.6,900.5 573.4,899.7 572.1,899.7 570.4,899.5 569.4,900.6 570.6,901.3 571.7,902 571.9,903.5 572.9,905 572.2,905.7 571.2,906.8 570.6,905.7 569.7,904.4 568.8,903.7 566.8,903.2 565.4,904.4 564.1,904.1 565.1,905.4 565.9,906 565.9,907.6 564,907.3 562.3,906.8 561,905.8 560.7,904.3 560.2,902.6 559.7,901.5 558.3,900.6 557.9,899.4 557.1,897.9 556.4,896.6 554.4,896.2 552.9,897.3 552.3,898.9 551.8,899.7 551.4,901.3 551.9,903.8 552.9,904.3 553.5,905.9 554.8,907.8 555.1,910.2 556.6,911.6 557.1,912.9 557.7,914.2 559,916 559.7,917 560.6,918.2 561.4,918.7 562.5,919.5 563.1,920.3 563.2,921.8 561.4,922.3 560.5,923.6 559.7,924.4 558.8,925.2 557.4,926.7 557.1,928.8 555.5,929.5 554.7,930.2 552.9,930.7 551.8,931.5 554,932 555.9,933.5 558.8,934.5 560.6,935.9 562.4,937.3 563.3,938.8 565.8,939.4 567.6,940.3 568.6,940.4 570.2,941.2 571.5,942.7 572.9,944.7 573.4,946.5 574.9,948.4 575.7,949.2 576.5,950 576.9,951.7 577.3,953.5 576.5,952.6 574.8,952.4 572.9,951.8 571.4,950.7 569.7,949.8 568.6,948 567.6,947.3 566,947.7 564.7,947.7 563.5,947.9 562.3,948.2 560.7,948.1 559.9,947.3 559,945.7 557.1,944.7 554.1,944.4 552.6,943.9 551.5,943.9 550,942.9 547.8,943.5 546.2,943.2 544.6,942.8 542.9,942.9 541.9,942.8 540.2,943 538.2,942.4 535.9,942.1 534.5,941.7 532.8,941.2 532.2,940.5 531.5,939.4 530.7,937.4 529.5,937.1 528.8,935.9 527.6,934.8 527.1,933.7 526.3,932.6 525.3,932.3 524.4,932.6 523.1,932.8 522.6,934.1 521.6,932.5 520.8,930.8 520,928.8 519.4,926.6 518.9,925.5 517.4,924.9 516.5,923.5 516.4,921.4 516.3,919.8 515.8,917.7Z"/>
<path d="M559.7,927.9 565.9,929.7 572.9,934.1 578.2,939.4 581.8,943.8 584.4,947.3 580.9,946.5 575.6,942.1 569.4,937.6 563.2,933.2 559.7,930.6Z"/>
<path d="M530.6,951.8 532,951.1 533.2,950.6 534.7,949.4 535.9,947.3 538.1,946 540.2,945.1 541.6,944.9 542.9,945.1 544.2,944.9 545.6,944.6 547.8,945 550,945.1 551.9,945.8 552.7,946.7 554.4,947.3 556.2,948.2 557.2,949.4 557.7,950.2 559,951.4 560.6,951.8 561.1,952.7 561.6,954.2 562.4,955.3 564.1,956.2 565,957.5 566.2,959.1 567.6,960.6 566.3,960.9 564.8,960.9 563.2,961.5 562.1,960.3 561.1,960 559.7,958.8 558.2,960.4 557.9,962.3 558.7,964 559.3,965.1 559.7,966.9 560.6,969.4 560.7,971.7 561.4,975.6 562.6,978.7 563.2,980.9 562.9,978.8 561.8,976.9 561,975.6 559.7,974.7 559.1,973 558.5,971.5 557.5,970 556.2,969.4 555.3,970.9 554.5,972.1 553.9,973.2 553.5,974.7 552.8,977.1 552.8,978.8 552.1,980.1 551.8,980.9 550.5,978.8 549.9,976.3 549.7,974.7 549.1,972.9 548.1,971.4 547.8,970 546.8,969.4 545.6,968.5 545.3,971.1 544.5,972.4 544,973.4 542.9,974.7 542.3,973.8 542.1,972.4 541.6,971 540.3,969.4 539.3,968.2 538.2,966 537.9,964.5 537.6,962.3 535.6,960.8 534.3,959.5 534,957.9 533.2,957.1 532.2,956 531.9,954.4 531.7,953.3Z"/>
<path d="M572.6,1001.2 574.3,1000.5 574.7,999.4 575.7,999.6 577.3,1000.3 579.8,1000.3 581.8,1000.3 583.4,1000.9 585.1,1001.3 586.6,1001.7 588.8,1002.1 590,1001.7 591.6,1001.8 593.4,1001.8 595.9,1001.2 597.6,1001.1 600.2,1001.6 602.2,1001.8 604.7,1002.9 607.3,1003 609,1002.9 611.1,1003.2 613.5,1003.8 615.1,1003 616.4,1003 617.9,1003.3 617.2,1004.8 617.1,1006.5 615,1006.5 613,1006.9 611.9,1007.2 610,1007.3 608.5,1007.4 607.4,1007.8 605.5,1007.7 602.9,1008.2 600.5,1008.9 599.1,1009.3 597,1010.2 595.9,1010.9 594,1010.1 593.2,1009.3 591.8,1009.1 590.6,1008.2 588.2,1007.7 586.7,1006.8 583.6,1006.5 581.8,1006.5 579.6,1005.8 578.2,1005.7 575.4,1005.6 573.8,1005.6 573.7,1004.5 573.2,1003.2Z"/>
<path d="M640,981.8 643.5,977.3 647,974.7 646.2,980 642.6,985.3 640.3,986.2Z"/>
<path d="M604.7,920 610,917.3 614.4,920 613.5,923.5 609.1,922.1 608.6,924.6 605.6,922.6Z"/>
<path d="M612.5,866.2 620,861.2 630,860 640,870 650,875 662.5,882.5 650,883.8 640,880 630,882.5 620,886.2 610,891.2 602.9,886.5 606.5,884.7 607.3,879.4 610.9,875 610,870.6Z"/>
<path d="M608.8,892.5 620,887.5 630,884.5 625,888.8 615,893.8 610,896.2Z"/>
<path d="M662.5,882.5 680,873.8 690,863.3 706.7,855 723.3,850 736.7,846.7 746.7,851.7 755,850.7 763.3,856.7 780,856.7 796.7,853.3 813.3,846.7 826.7,840 837.1,832.9 846.9,832 852.7,828 858.6,832 866.5,833.9 871.4,838.8 872.4,846.7 878.2,850.6 886.1,853.5 892,855.5 889.6,857.5 886.1,866.3 892,878 896.7,893.3 906.7,905 900,910 886.7,908.3 873.3,913.3 856.7,921.7 840,933.3 826.7,938.3 813.3,940 796.7,945 783.3,948.3 780,960 776.7,966.7 771.7,953.3 773.3,946.7 763.3,951.7 750,963.3 736.7,968.3 725,971.2 715,963.8 705,960 695,961.2 685,963.8 682.5,972.5 672.5,976.2 665,975 660,965 650,962.5 640,957.5 632.5,955 630,945 623.8,937.5 618.8,932.5 620,922.5 615,915 610,910 608.8,902.5 612.5,896.2 625,895 640,895 652.5,890 660,886.2Z"/>
<path d="M718.3,995 722.8,991.6 728.3,988.3 733.7,986.5 740,985 746.4,980.5 751.7,976.7 748.9,982.1 745,988.3 741.3,993.5 738.3,996.7 733.3,1000 730,1001.7 727,1001.5 721.7,1000 720,997.7Z"/>
<path d="M601.7,576.7 623.3,580 636.7,586.7 643.3,603.3 655,611.7 665,620 660,628.3 651.7,635 656.7,646.7 646.7,653.3 643.3,666.7 623.3,665 606.7,668.3 593.3,665 573.3,663.3 556.7,666.7 548.3,656.7 555,640 550,623.3 566.7,620 575,615 585,596.7 590,586.7Z"/>
<path d="M556.7,666.7 573.3,663.3 593.3,665 606.7,668.3 623.3,665 643.3,666.7 646.7,653.3 656.7,646.7 673.3,641.7 686.7,646.7 693.3,656.7 713.3,673.3 733.3,671.7 753.3,675 773.3,678.3 778.3,686.7 775,696.7 778.3,710 766.7,716.7 760,730 743.3,740 726.7,753.3 720,760 721.7,766.7 740,771.7 745,776.7 733.3,781.7 721.7,785 713.3,796.7 705,793.3 700,783.3 690,778.3 696.7,770 703.3,766.7 686.7,766.7 673.3,760 663.3,761.7 655,773.3 646.7,783.3 640,788.3 630,790 625,780 623.3,766.7 618.3,753.3 606.7,740 596.7,735 586.7,740 573.3,743.3 560,740 546.7,736.7 540,733.3 540,726.7 543.3,713.3 553.3,700 558.3,690 553.3,676.7Z"/>
<path d="M805.7,798.6 819.4,797.6 833.1,796.7 846.9,795.7 856.7,798.6 864.5,801.6 870.4,797.6 878.2,795.7 890,796.7 893.9,802.5 903.7,805.5 911.6,807.5 923.3,809.4 931.2,807.5 937.1,797.6 944.9,803.5 952.7,809.4 962.5,814.3 971.4,816.3 964.5,820.2 961.6,827.1 963.5,838.8 961.6,848.6 962.5,861.4 956.7,860.4 950.8,855.5 948.8,848.6 944.9,844.7 939,846.7 933.1,852.5 927.3,858.4 923.3,864.3 915.5,866.3 907.6,864.3 899.8,858.4 892,855.5 886.1,853.5 878.2,850.6 872.4,846.7 871.4,838.8 866.5,833.9 858.6,832 852.7,828 846.9,832 837.1,832.9 835.1,825.1 829.2,815.3 819.4,807.5 809.6,802.5Z"/>
<path d="M175.5,514.8 176.5,513.4 177.6,513 179,512 180,513.3 180.4,514.7 180.3,516.6 180.5,518.6 179.5,519.2 178.7,520.7 178.5,521.6 178.5,523 177,522.4 176,520.8 176.6,519.7 176.4,517.9 175.9,516Z"/>
<path class="ln" d="M600,730 611.7,728.3 626.7,736.7 636.7,746.7 643.3,760 650,766.7 640,770 633.3,780 630,790"/>
<path class="ln" d="M868.4,834.9 878.2,830 888,825.1 892,827.1 899.8,820.2 911.6,821.2 913.5,816.3 906.7,811.4 903.7,805.5"/>
<path class="ln" d="M892,827.1 897.8,832.9 903.7,838.8 909.6,842.7 907.6,848.6 915.5,852.5 923.3,856.5 925.3,862.4"/>
<path class="ln" d="M899.8,858.4 907.6,855.5 917.5,858.4 923.3,864.3"/>
</g>
</g>

<!-- footer -->
<text x="43.2" y="1059" font-size="13.8" font-weight="700" textLength="32.3" lengthAdjust="spacingAndGlyphs" stroke="#2f2f2f" stroke-width="0.25">Πηγή:</text>
<text x="79.7" y="1059" font-size="13.8" font-weight="700" textLength="44.2" lengthAdjust="spacingAndGlyphs" stroke="#2f2f2f" stroke-width="0.25">Eurostat</text>
<text x="128.4" y="1059" font-size="13.8" font-weight="700" textLength="3.5" lengthAdjust="spacingAndGlyphs" stroke="#2f2f2f" stroke-width="0.25">•</text>
<text x="136.2" y="1059" font-size="13.8" font-weight="700" textLength="13.6" lengthAdjust="spacingAndGlyphs" stroke="#2f2f2f" stroke-width="0.25">ΕΕ</text>
<text x="154.3" y="1059" font-size="13.8" font-weight="700" textLength="3.7" lengthAdjust="spacingAndGlyphs" stroke="#2f2f2f" stroke-width="0.25">-</text>
<text x="162" y="1059" font-size="13.8" font-weight="700" textLength="11.8" lengthAdjust="spacingAndGlyphs" stroke="#2f2f2f" stroke-width="0.25">27</text>
<text x="179" y="1059" font-size="13.8" font-weight="700" textLength="35.3" lengthAdjust="spacingAndGlyphs" stroke="#2f2f2f" stroke-width="0.25">χώρες</text>
<text x="219.2" y="1059" font-size="13.8" font-weight="700" textLength="5.9" lengthAdjust="spacingAndGlyphs" stroke="#2f2f2f" stroke-width="0.25">=</text>
<text x="229.8" y="1059" font-size="13.8" font-weight="700" textLength="28.7" lengthAdjust="spacingAndGlyphs" stroke="#2f2f2f" stroke-width="0.25">63,81</text>
<rect x="929.1" y="1037.9" width="29.2" height="30" fill="#1b2365"/>
<text x="933.1" y="1059.3" font-size="17" font-weight="700" style="fill:#fff" textLength="21.2" lengthAdjust="spacingAndGlyphs">OT</text>
</svg>
</body>
</html>
